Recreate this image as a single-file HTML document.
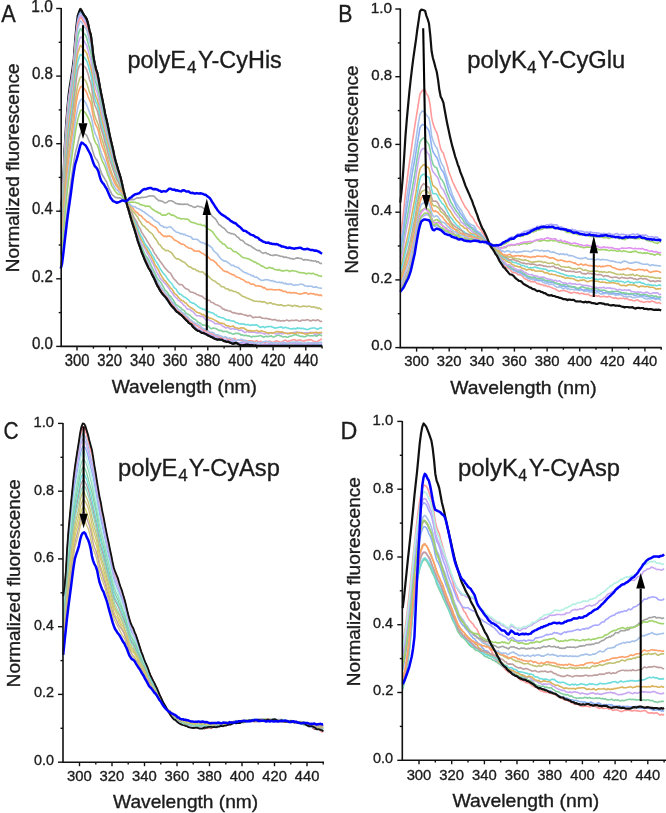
<!DOCTYPE html>
<html><head><meta charset="utf-8"><style>
html,body{margin:0;padding:0;background:#fff;width:666px;height:813px;overflow:hidden;}
svg{display:block;filter:blur(0.3px);font-family:"Liberation Sans",sans-serif;}
text{stroke:#1c1c1c;stroke-width:0.35px;}
</style></head><body>
<svg width="666" height="813" viewBox="0 0 666 813" font-family="Liberation Sans, sans-serif" fill="#1c1c1c">
<rect width="666" height="813" fill="#fff"/>
<path d="M60.7,211.7L62.0,198.3L63.3,180.7L64.6,149.6L65.9,128.1L67.2,110.9L68.5,95.9L69.9,85.5L71.2,77.6L72.5,68.8L73.8,58.9L75.1,41.0L76.4,26.1L77.7,15.8L79.0,12.0L80.3,9.0L81.6,10.7L82.9,13.3L84.2,15.3L85.5,17.1L86.8,19.4L88.2,24.4L89.5,30.8L90.8,34.9L92.1,44.9L93.4,56.8L94.7,63.8L96.0,69.3L97.3,72.9L98.6,79.6L99.9,87.3L101.2,94.0L102.5,100.3L103.8,106.9L105.1,113.9L106.5,119.8L107.8,125.7L109.1,132.4L110.4,138.4L111.7,144.1L113.0,149.5L114.3,155.9L115.6,161.2L116.9,165.5L118.2,170.0L119.5,174.1L120.8,178.4L122.1,183.9L123.4,190.0L124.8,195.6L126.1,201.0L127.4,206.1L128.7,210.2L130.0,215.0L131.3,219.5L132.6,223.6L133.9,227.7L135.2,231.7L136.5,236.1L137.8,240.8L139.1,244.5L140.4,248.2L141.7,252.0L143.1,255.4L144.4,258.7L145.7,261.7L147.0,264.4L148.3,267.5L149.6,269.5L150.9,271.6L152.2,274.8L153.5,277.1L154.8,279.7L156.1,282.8L157.4,285.7L158.7,287.7L160.0,290.2L161.4,292.3L162.7,294.0L164.0,295.5L165.3,296.9L166.6,298.5L167.9,300.3L169.2,302.4L170.5,304.3L171.8,306.0L173.1,307.4L174.4,308.7L175.7,310.6L177.0,312.0L178.3,312.5L179.7,313.9L181.0,314.8L182.3,316.0L183.6,317.2L184.9,318.7L186.2,320.1L187.5,321.2L188.8,322.9L190.1,323.6L191.4,324.4L192.7,326.4L194.0,327.7L195.3,328.8L196.6,329.9L198.0,330.8L199.3,331.0L200.6,332.0L201.9,333.0L203.2,332.8L204.5,333.5L205.8,334.1L207.1,334.7L208.4,335.5L209.7,336.1L211.0,336.9L212.3,337.2L213.6,338.0L214.9,338.7L216.3,339.3L217.6,339.6L218.9,339.3L220.2,339.6L221.5,339.5L222.8,340.3L224.1,341.1L225.4,341.2L226.7,341.9L228.0,341.6L229.3,342.2L230.6,342.8L231.9,343.3L233.3,343.6L234.6,343.1L235.9,342.9L237.2,343.3L238.5,344.1L239.8,344.9L241.1,345.3L242.4,345.4L243.7,345.1L245.0,344.9L246.3,344.6L247.6,344.5L248.9,345.1L250.2,345.1L251.6,345.3L252.9,345.2L254.2,345.8L255.5,345.3L256.8,345.8L258.1,345.8L259.4,345.8L260.7,345.8L262.0,345.8L263.3,345.8L264.6,345.8L265.9,345.8L267.2,345.8L268.5,345.8L269.9,345.8L271.2,345.8L272.5,345.8L273.8,345.8L275.1,345.8L276.4,345.8L277.7,345.8L279.0,345.8L280.3,345.8L281.6,345.8L282.9,345.8L284.2,345.8L285.5,345.8L286.8,345.8L288.2,345.8L289.5,345.8L290.8,345.8L292.1,345.8L293.4,345.8L294.7,345.8L296.0,345.8L297.3,345.8L298.6,345.8L299.9,345.8L301.2,345.8L302.5,345.8L303.8,345.8L305.1,345.8L306.5,345.8L307.8,345.8L309.1,345.8L310.4,345.8L311.7,345.8L313.0,345.8L314.3,345.8L315.6,345.8L316.9,345.8L318.2,345.8L319.5,345.8L320.8,345.8L322.1,345.8" stroke="#111111" stroke-width="2.20" fill="none" stroke-linejoin="round"/>
<path d="M60.7,212.0L62.0,199.4L63.3,182.0L64.6,152.3L65.9,131.2L67.2,114.2L68.5,99.4L69.9,89.5L71.2,80.7L72.5,72.1L73.8,62.2L75.1,44.4L76.4,29.5L77.7,19.7L79.0,15.3L80.3,12.6L81.6,13.8L82.9,15.9L84.2,17.5L85.5,19.9L86.8,22.7L88.2,28.1L89.5,33.0L90.8,37.2L92.1,47.0L93.4,59.5L94.7,66.1L96.0,70.4L97.3,74.1L98.6,81.3L99.9,88.6L101.2,96.0L102.5,102.6L103.8,108.5L105.1,115.1L106.5,121.9L107.8,128.5L109.1,134.9L110.4,139.9L111.7,144.9L113.0,150.3L114.3,157.0L115.6,162.6L116.9,167.8L118.2,171.7L119.5,176.0L120.8,180.1L122.1,185.0L123.4,190.2L124.8,195.8L126.1,201.1L127.4,206.6L128.7,210.1L130.0,214.7L131.3,218.4L132.6,223.3L133.9,228.3L135.2,231.5L136.5,235.8L137.8,240.5L139.1,243.6L140.4,247.0L141.7,251.8L143.1,254.5L144.4,258.3L145.7,261.6L147.0,264.6L148.3,266.1L149.6,268.3L150.9,270.8L152.2,273.2L153.5,276.4L154.8,279.8L156.1,282.7L157.4,285.1L158.7,286.9L160.0,289.7L161.4,292.2L162.7,294.1L164.0,296.3L165.3,298.0L166.6,299.5L167.9,301.0L169.2,302.2L170.5,302.8L171.8,304.2L173.1,306.9L174.4,309.1L175.7,310.5L177.0,311.6L178.3,312.7L179.7,313.6L181.0,314.2L182.3,315.3L183.6,317.1L184.9,318.7L186.2,318.9L187.5,320.4L188.8,321.0L190.1,321.8L191.4,322.9L192.7,324.3L194.0,325.4L195.3,327.0L196.6,328.4L198.0,329.2L199.3,330.3L200.6,331.2L201.9,332.2L203.2,332.9L204.5,333.8L205.8,334.4L207.1,334.1L208.4,335.2L209.7,335.0L211.0,335.1L212.3,336.3L213.6,336.7L214.9,336.9L216.3,336.6L217.6,337.2L218.9,338.5L220.2,339.5L221.5,340.1L222.8,340.6L224.1,340.0L225.4,339.7L226.7,340.8L228.0,340.5L229.3,340.2L230.6,341.3L231.9,341.5L233.3,342.2L234.6,342.4L235.9,342.1L237.2,342.9L238.5,342.9L239.8,342.8L241.1,342.4L242.4,342.1L243.7,342.1L245.0,342.9L246.3,343.5L247.6,343.0L248.9,342.9L250.2,342.9L251.6,343.2L252.9,342.9L254.2,344.1L255.5,344.7L256.8,344.2L258.1,344.7L259.4,344.5L260.7,344.4L262.0,344.3L263.3,344.9L264.6,344.1L265.9,344.3L267.2,345.3L268.5,345.4L269.9,345.2L271.2,344.5L272.5,344.4L273.8,343.9L275.1,344.6L276.4,345.4L277.7,345.3L279.0,344.5L280.3,344.6L281.6,344.1L282.9,343.9L284.2,343.6L285.5,344.1L286.8,345.2L288.2,344.9L289.5,345.6L290.8,345.5L292.1,345.6L293.4,345.5L294.7,345.3L296.0,344.8L297.3,344.0L298.6,343.7L299.9,343.6L301.2,344.6L302.5,344.5L303.8,344.8L305.1,344.8L306.5,345.4L307.8,345.2L309.1,344.2L310.4,343.7L311.7,343.5L313.0,344.6L314.3,344.0L315.6,344.4L316.9,344.7L318.2,344.6L319.5,344.9L320.8,345.1L322.1,344.2" stroke="#8db0f4" stroke-width="1.60" fill="none" stroke-linejoin="round"/>
<path d="M60.7,213.3L62.0,201.1L63.3,183.5L64.6,153.7L65.9,133.1L67.2,115.8L68.5,101.9L69.9,91.7L71.2,82.9L72.5,74.4L73.8,63.5L75.1,47.0L76.4,33.1L77.7,22.8L79.0,18.9L80.3,15.5L81.6,15.8L82.9,18.5L84.2,19.9L85.5,22.2L86.8,24.5L88.2,30.6L89.5,36.1L90.8,40.9L92.1,49.8L93.4,61.5L94.7,69.3L96.0,74.5L97.3,78.0L98.6,84.3L99.9,91.4L101.2,97.2L102.5,103.1L103.8,110.7L105.1,117.7L106.5,123.4L107.8,128.7L109.1,134.3L110.4,140.1L111.7,145.8L113.0,151.8L114.3,157.4L115.6,162.1L116.9,167.7L118.2,171.5L119.5,175.2L120.8,180.2L122.1,184.6L123.4,190.7L124.8,195.4L126.1,200.4L127.4,205.4L128.7,209.8L130.0,213.5L131.3,218.4L132.6,223.3L133.9,227.1L135.2,230.6L136.5,235.6L137.8,239.1L139.1,243.4L140.4,247.0L141.7,250.9L143.1,253.6L144.4,256.8L145.7,259.0L147.0,261.4L148.3,265.1L149.6,266.8L150.9,269.2L152.2,272.8L153.5,275.4L154.8,278.5L156.1,281.7L157.4,284.5L158.7,286.6L160.0,287.9L161.4,290.8L162.7,292.5L164.0,293.6L165.3,295.7L166.6,296.9L167.9,298.5L169.2,299.8L170.5,301.8L171.8,302.9L173.1,305.3L174.4,307.7L175.7,309.9L177.0,311.5L178.3,313.0L179.7,312.9L181.0,314.6L182.3,315.0L183.6,315.9L184.9,317.4L186.2,319.6L187.5,321.1L188.8,321.2L190.1,322.6L191.4,323.2L192.7,325.1L194.0,326.7L195.3,327.5L196.6,328.2L198.0,329.2L199.3,329.3L200.6,329.8L201.9,330.3L203.2,331.3L204.5,332.0L205.8,332.9L207.1,333.2L208.4,333.8L209.7,334.1L211.0,333.9L212.3,335.0L213.6,335.5L214.9,336.7L216.3,336.5L217.6,337.0L218.9,337.3L220.2,337.8L221.5,338.9L222.8,338.4L224.1,339.7L225.4,340.3L226.7,340.3L228.0,339.7L229.3,339.8L230.6,339.6L231.9,340.5L233.3,340.8L234.6,341.0L235.9,341.8L237.2,342.6L238.5,342.7L239.8,343.3L241.1,343.8L242.4,343.9L243.7,342.9L245.0,342.8L246.3,342.5L247.6,342.7L248.9,343.0L250.2,342.5L251.6,343.2L252.9,343.7L254.2,344.0L255.5,344.6L256.8,345.0L258.1,344.9L259.4,344.3L260.7,344.6L262.0,344.4L263.3,344.6L264.6,343.9L265.9,344.4L267.2,344.4L268.5,343.8L269.9,343.6L271.2,343.1L272.5,344.3L273.8,344.3L275.1,344.7L276.4,343.8L277.7,344.3L279.0,343.8L280.3,343.9L281.6,343.5L282.9,343.3L284.2,343.0L285.5,342.8L286.8,343.4L288.2,343.4L289.5,343.0L290.8,342.9L292.1,343.4L293.4,343.1L294.7,343.0L296.0,343.4L297.3,343.7L298.6,343.9L299.9,343.1L301.2,343.8L302.5,343.1L303.8,343.9L305.1,344.3L306.5,343.7L307.8,343.3L309.1,343.8L310.4,344.1L311.7,343.8L313.0,343.3L314.3,343.6L315.6,343.7L316.9,343.8L318.2,343.2L319.5,342.7L320.8,342.8L322.1,343.5" stroke="#c9a8f2" stroke-width="1.60" fill="none" stroke-linejoin="round"/>
<path d="M60.7,214.7L62.0,201.7L63.3,184.9L64.6,155.0L65.9,133.8L67.2,116.7L68.5,103.1L69.9,93.1L71.2,84.4L72.5,75.7L73.8,64.5L75.1,47.9L76.4,34.3L77.7,24.3L79.0,20.6L80.3,17.5L81.6,17.7L82.9,20.8L84.2,22.5L85.5,24.6L86.8,26.9L88.2,32.7L89.5,38.9L90.8,42.8L92.1,52.5L93.4,63.9L94.7,70.0L96.0,74.7L97.3,78.0L98.6,83.8L99.9,92.0L101.2,99.1L102.5,105.2L103.8,111.6L105.1,118.7L106.5,124.1L107.8,129.9L109.1,136.1L110.4,141.8L111.7,148.0L113.0,153.2L114.3,159.1L115.6,163.6L116.9,167.4L118.2,172.2L119.5,176.4L120.8,180.3L122.1,184.6L123.4,190.7L124.8,196.3L126.1,201.1L127.4,206.3L128.7,211.1L130.0,214.5L131.3,218.4L132.6,222.6L133.9,226.7L135.2,231.5L136.5,235.4L137.8,239.2L139.1,243.1L140.4,247.4L141.7,251.6L143.1,254.5L144.4,256.9L145.7,259.3L147.0,261.3L148.3,264.5L149.6,267.1L150.9,269.9L152.2,272.4L153.5,274.8L154.8,277.0L156.1,280.5L157.4,282.7L158.7,284.7L160.0,286.8L161.4,289.4L162.7,292.2L164.0,294.2L165.3,295.5L166.6,296.6L167.9,298.7L169.2,300.5L170.5,302.2L171.8,304.6L173.1,305.3L174.4,307.4L175.7,309.1L177.0,309.7L178.3,310.7L179.7,312.5L181.0,312.9L182.3,313.8L183.6,315.3L184.9,316.9L186.2,317.7L187.5,318.5L188.8,319.8L190.1,321.6L191.4,322.2L192.7,323.3L194.0,323.8L195.3,324.7L196.6,325.6L198.0,326.1L199.3,327.3L200.6,328.1L201.9,328.5L203.2,329.6L204.5,330.9L205.8,330.8L207.1,331.4L208.4,332.1L209.7,332.6L211.0,333.5L212.3,333.4L213.6,334.4L214.9,335.2L216.3,335.3L217.6,335.7L218.9,336.4L220.2,337.3L221.5,337.4L222.8,337.6L224.1,337.7L225.4,337.6L226.7,338.3L228.0,339.2L229.3,339.8L230.6,339.5L231.9,338.7L233.3,338.7L234.6,338.4L235.9,339.6L237.2,340.3L238.5,339.9L239.8,340.3L241.1,340.5L242.4,340.0L243.7,341.0L245.0,340.3L246.3,341.1L247.6,340.9L248.9,340.7L250.2,340.8L251.6,340.7L252.9,341.2L254.2,341.7L255.5,341.3L256.8,340.6L258.1,341.7L259.4,342.2L260.7,341.2L262.0,342.0L263.3,342.5L264.6,342.1L265.9,342.2L267.2,341.6L268.5,341.6L269.9,341.1L271.2,341.9L272.5,342.2L273.8,342.4L275.1,341.5L276.4,340.7L277.7,341.2L279.0,341.7L280.3,342.3L281.6,342.4L282.9,341.2L284.2,340.5L285.5,340.1L286.8,341.0L288.2,341.8L289.5,340.7L290.8,340.5L292.1,340.0L293.4,339.8L294.7,339.6L296.0,340.9L297.3,340.2L298.6,340.3L299.9,339.7L301.2,340.5L302.5,340.7L303.8,341.3L305.1,340.5L306.5,340.4L307.8,339.8L309.1,339.9L310.4,339.6L311.7,340.1L313.0,340.9L314.3,341.3L315.6,341.6L316.9,341.8L318.2,340.8L319.5,340.2L320.8,339.4L322.1,339.2" stroke="#ff9a9a" stroke-width="1.60" fill="none" stroke-linejoin="round"/>
<path d="M60.7,217.2L62.0,203.8L63.3,187.0L64.6,158.8L65.9,138.0L67.2,121.5L68.5,106.3L69.9,95.4L71.2,87.3L72.5,78.5L73.8,68.3L75.1,52.6L76.4,39.0L77.7,28.8L79.0,24.6L80.3,20.9L81.6,21.6L82.9,24.8L84.2,26.7L85.5,27.6L86.8,30.0L88.2,35.5L89.5,41.0L90.8,45.4L92.1,55.6L93.4,67.2L94.7,74.2L96.0,79.0L97.3,82.0L98.6,88.5L99.9,95.7L101.2,101.6L102.5,107.2L103.8,113.9L105.1,119.5L106.5,125.3L107.8,132.2L109.1,137.3L110.4,143.8L111.7,149.2L113.0,155.2L114.3,160.8L115.6,165.0L116.9,168.8L118.2,173.4L119.5,177.3L120.8,180.9L122.1,185.5L123.4,191.3L124.8,196.1L126.1,201.8L127.4,205.2L128.7,209.3L130.0,213.3L131.3,216.9L132.6,221.8L133.9,226.4L135.2,230.0L136.5,233.3L137.8,236.7L139.1,240.5L140.4,244.5L141.7,248.7L143.1,251.6L144.4,254.5L145.7,256.8L147.0,259.3L148.3,262.3L149.6,264.6L150.9,267.7L152.2,270.6L153.5,272.7L154.8,275.1L156.1,278.6L157.4,281.3L158.7,283.5L160.0,285.5L161.4,287.8L162.7,289.9L164.0,290.8L165.3,292.9L166.6,294.6L167.9,295.4L169.2,297.5L170.5,299.2L171.8,301.6L173.1,302.7L174.4,304.1L175.7,306.5L177.0,307.8L178.3,309.5L179.7,309.9L181.0,311.1L182.3,312.7L183.6,313.1L184.9,314.6L186.2,315.9L187.5,316.5L188.8,318.4L190.1,319.7L191.4,320.2L192.7,321.8L194.0,322.3L195.3,323.3L196.6,323.6L198.0,324.7L199.3,325.1L200.6,326.2L201.9,327.6L203.2,328.5L204.5,329.1L205.8,329.4L207.1,330.2L208.4,331.0L209.7,331.9L211.0,332.3L212.3,332.4L213.6,332.8L214.9,334.2L216.3,334.9L217.6,334.8L218.9,335.2L220.2,336.0L221.5,336.1L222.8,337.2L224.1,337.2L225.4,336.7L226.7,337.4L228.0,338.3L229.3,338.1L230.6,338.2L231.9,338.8L233.3,339.4L234.6,340.3L235.9,340.7L237.2,339.9L238.5,340.2L239.8,339.7L241.1,339.3L242.4,339.5L243.7,340.3L245.0,341.2L246.3,340.5L247.6,341.4L248.9,342.0L250.2,341.9L251.6,342.1L252.9,342.3L254.2,342.6L255.5,343.1L256.8,343.4L258.1,342.1L259.4,342.8L260.7,342.6L262.0,342.2L263.3,342.1L264.6,341.6L265.9,341.2L267.2,341.5L268.5,342.0L269.9,341.9L271.2,342.4L272.5,342.9L273.8,342.8L275.1,342.7L276.4,343.0L277.7,342.9L279.0,343.0L280.3,343.5L281.6,342.4L282.9,342.4L284.2,342.3L285.5,343.1L286.8,343.2L288.2,343.7L289.5,342.6L290.8,342.3L292.1,342.4L293.4,342.1L294.7,342.4L296.0,342.4L297.3,341.6L298.6,342.6L299.9,342.2L301.2,342.4L302.5,342.9L303.8,343.3L305.1,342.8L306.5,343.3L307.8,342.4L309.1,342.5L310.4,342.8L311.7,342.7L313.0,342.7L314.3,342.7L315.6,342.9L316.9,342.8L318.2,343.0L319.5,342.4L320.8,342.2L322.1,342.5" stroke="#a6c2ea" stroke-width="1.60" fill="none" stroke-linejoin="round"/>
<path d="M60.7,220.3L62.0,208.8L63.3,192.1L64.6,164.4L65.9,144.1L67.2,128.1L68.5,113.0L69.9,102.5L71.2,94.3L72.5,86.2L73.8,75.1L75.1,59.0L76.4,46.5L77.7,37.4L79.0,32.1L80.3,28.7L81.6,29.7L82.9,32.7L84.2,33.8L85.5,34.9L86.8,38.2L88.2,43.6L89.5,48.4L90.8,52.5L92.1,61.1L93.4,72.4L94.7,79.7L96.0,83.3L97.3,86.7L98.6,92.1L99.9,99.6L101.2,106.6L102.5,111.9L103.8,117.4L105.1,124.4L106.5,130.9L107.8,137.0L109.1,142.0L110.4,147.7L111.7,153.2L113.0,157.9L114.3,161.8L115.6,166.7L116.9,171.6L118.2,175.6L119.5,179.0L120.8,182.7L122.1,187.3L123.4,192.6L124.8,197.4L126.1,202.2L127.4,206.4L128.7,210.6L130.0,213.7L131.3,216.9L132.6,221.0L133.9,225.3L135.2,228.9L136.5,233.1L137.8,236.9L139.1,240.5L140.4,243.0L141.7,247.1L143.1,250.0L144.4,253.4L145.7,255.8L147.0,257.2L148.3,259.2L149.6,261.9L150.9,264.8L152.2,267.7L153.5,270.1L154.8,272.8L156.1,275.6L157.4,278.6L158.7,280.1L160.0,281.6L161.4,283.3L162.7,285.8L164.0,288.2L165.3,290.6L166.6,291.2L167.9,293.1L169.2,295.5L170.5,296.2L171.8,298.0L173.1,299.7L174.4,301.8L175.7,304.2L177.0,305.2L178.3,306.0L179.7,307.3L181.0,307.7L182.3,309.7L183.6,310.1L184.9,311.4L186.2,313.5L187.5,313.9L188.8,314.6L190.1,315.5L191.4,317.0L192.7,318.0L194.0,319.0L195.3,319.6L196.6,320.7L198.0,322.1L199.3,322.8L200.6,323.4L201.9,324.5L203.2,325.2L204.5,325.0L205.8,325.4L207.1,326.4L208.4,326.1L209.7,327.5L211.0,328.6L212.3,328.4L213.6,328.1L214.9,328.2L216.3,328.8L217.6,329.6L218.9,330.6L220.2,330.2L221.5,330.6L222.8,331.7L224.1,331.4L225.4,331.5L226.7,331.3L228.0,332.3L229.3,332.9L230.6,333.1L231.9,333.7L233.3,334.2L234.6,333.6L235.9,333.4L237.2,333.3L238.5,333.6L239.8,333.9L241.1,335.2L242.4,334.8L243.7,335.6L245.0,335.4L246.3,335.3L247.6,336.0L248.9,335.7L250.2,336.5L251.6,337.0L252.9,336.2L254.2,336.5L255.5,336.4L256.8,336.2L258.1,336.2L259.4,335.8L260.7,335.6L262.0,336.3L263.3,337.1L264.6,336.9L265.9,336.1L267.2,336.7L268.5,336.2L269.9,336.4L271.2,335.7L272.5,336.8L273.8,337.1L275.1,336.4L276.4,335.7L277.7,335.2L279.0,335.1L280.3,336.0L281.6,336.1L282.9,337.0L284.2,336.8L285.5,336.6L286.8,337.1L288.2,337.2L289.5,336.2L290.8,336.1L292.1,335.8L293.4,335.3L294.7,334.8L296.0,334.5L297.3,335.4L298.6,335.4L299.9,336.2L301.2,336.4L302.5,336.2L303.8,336.7L305.1,336.8L306.5,336.0L307.8,335.3L309.1,335.5L310.4,336.0L311.7,335.5L313.0,336.0L314.3,335.1L315.6,335.9L316.9,336.1L318.2,335.1L319.5,334.8L320.8,335.3L322.1,335.9" stroke="#82cfa0" stroke-width="1.60" fill="none" stroke-linejoin="round"/>
<path d="M60.7,222.7L62.0,211.9L63.3,196.9L64.6,170.5L65.9,150.4L67.2,133.6L68.5,119.2L69.9,108.9L71.2,100.3L72.5,91.4L73.8,81.6L75.1,66.8L76.4,55.1L77.7,46.2L79.0,40.8L80.3,37.3L81.6,37.1L82.9,39.1L84.2,41.0L85.5,43.6L86.8,45.5L88.2,50.7L89.5,55.4L90.8,59.5L92.1,68.0L93.4,78.8L94.7,84.9L96.0,89.5L97.3,92.8L98.6,98.4L99.9,105.1L101.2,110.8L102.5,116.3L103.8,122.1L105.1,127.9L106.5,134.3L107.8,139.4L109.1,145.2L110.4,150.7L111.7,155.1L113.0,160.1L114.3,164.5L115.6,169.5L116.9,172.9L118.2,175.6L119.5,178.9L120.8,182.1L122.1,186.6L123.4,191.2L124.8,196.3L126.1,201.2L127.4,204.3L128.7,207.9L130.0,211.0L131.3,215.2L132.6,219.3L133.9,222.7L135.2,226.1L136.5,230.3L137.8,234.1L139.1,236.9L140.4,240.8L141.7,244.2L143.1,245.9L144.4,247.8L145.7,249.9L147.0,253.1L148.3,254.7L149.6,257.5L150.9,259.4L152.2,262.5L153.5,264.4L154.8,267.8L156.1,270.9L157.4,273.5L158.7,275.3L160.0,278.1L161.4,279.6L162.7,280.9L164.0,282.4L165.3,283.7L166.6,285.3L167.9,287.1L169.2,288.7L170.5,290.9L171.8,292.6L173.1,294.3L174.4,296.2L175.7,297.3L177.0,298.6L178.3,300.4L179.7,300.8L181.0,302.4L182.3,303.4L183.6,305.2L184.9,305.9L186.2,307.7L187.5,309.1L188.8,309.2L190.1,309.6L191.4,310.8L192.7,311.5L194.0,312.8L195.3,314.5L196.6,315.6L198.0,315.7L199.3,315.7L200.6,316.5L201.9,316.4L203.2,316.7L204.5,318.5L205.8,319.8L207.1,319.8L208.4,319.6L209.7,320.4L211.0,320.8L212.3,321.6L213.6,322.2L214.9,323.7L216.3,323.6L217.6,323.8L218.9,324.1L220.2,324.2L221.5,324.9L222.8,326.4L224.1,326.7L225.4,327.9L226.7,327.6L228.0,327.2L229.3,328.3L230.6,329.2L231.9,328.7L233.3,328.4L234.6,329.4L235.9,329.1L237.2,329.2L238.5,330.5L239.8,330.4L241.1,329.9L242.4,330.7L243.7,331.8L245.0,332.5L246.3,332.0L247.6,331.3L248.9,332.1L250.2,331.9L251.6,332.1L252.9,332.3L254.2,332.2L255.5,332.5L256.8,332.9L258.1,333.0L259.4,332.6L260.7,332.7L262.0,333.2L263.3,333.5L264.6,334.1L265.9,333.3L267.2,333.4L268.5,334.0L269.9,333.1L271.2,333.0L272.5,332.7L273.8,333.1L275.1,333.7L276.4,334.1L277.7,333.6L279.0,332.9L280.3,333.5L281.6,333.6L282.9,333.6L284.2,333.4L285.5,333.0L286.8,333.0L288.2,334.0L289.5,333.5L290.8,333.6L292.1,332.8L293.4,332.6L294.7,332.4L296.0,332.0L297.3,332.0L298.6,332.9L299.9,332.3L301.2,332.5L302.5,332.7L303.8,333.2L305.1,332.7L306.5,332.7L307.8,332.8L309.1,332.9L310.4,332.3L311.7,332.6L313.0,332.6L314.3,333.7L315.6,334.3L316.9,334.1L318.2,333.3L319.5,332.9L320.8,333.0L322.1,333.5" stroke="#c9a8f2" stroke-width="1.60" fill="none" stroke-linejoin="round"/>
<path d="M60.7,226.2L62.0,215.3L63.3,200.0L64.6,175.4L65.9,156.3L67.2,140.2L68.5,126.9L69.9,116.6L71.2,108.2L72.5,99.3L73.8,89.0L75.1,74.0L76.4,62.3L77.7,53.4L79.0,49.3L80.3,45.6L81.6,46.2L82.9,48.7L84.2,50.0L85.5,51.4L86.8,53.4L88.2,58.4L89.5,63.1L90.8,67.6L92.1,75.8L93.4,86.6L94.7,92.5L96.0,96.6L97.3,99.8L98.6,105.2L99.9,111.1L101.2,117.3L102.5,122.8L103.8,128.1L105.1,133.1L106.5,138.6L107.8,143.5L109.1,148.6L110.4,154.1L111.7,158.7L113.0,163.0L114.3,168.2L115.6,172.1L116.9,175.8L118.2,178.9L119.5,181.6L120.8,183.9L122.1,187.5L123.4,192.5L124.8,197.7L126.1,201.1L127.4,204.9L128.7,208.9L130.0,212.1L131.3,215.6L132.6,217.6L133.9,221.4L135.2,224.6L136.5,228.4L137.8,230.7L139.1,233.9L140.4,237.9L141.7,240.4L143.1,242.5L144.4,245.3L145.7,247.6L147.0,249.3L148.3,252.0L149.6,254.1L150.9,255.9L152.2,258.3L153.5,261.1L154.8,264.1L156.1,266.3L157.4,268.3L158.7,270.5L160.0,273.5L161.4,275.9L162.7,277.7L164.0,280.1L165.3,281.0L166.6,282.8L167.9,284.4L169.2,286.1L170.5,287.9L171.8,288.8L173.1,290.9L174.4,293.4L175.7,294.3L177.0,295.4L178.3,297.4L179.7,298.8L181.0,300.1L182.3,300.7L183.6,301.2L184.9,302.7L186.2,303.1L187.5,304.9L188.8,306.1L190.1,307.1L191.4,308.0L192.7,308.8L194.0,309.6L195.3,311.0L196.6,312.2L198.0,312.6L199.3,313.1L200.6,313.6L201.9,314.7L203.2,314.4L204.5,315.6L205.8,316.6L207.1,316.9L208.4,317.2L209.7,318.4L211.0,318.2L212.3,318.9L213.6,319.3L214.9,320.2L216.3,321.0L217.6,321.8L218.9,322.5L220.2,323.1L221.5,323.2L222.8,323.4L224.1,323.8L225.4,325.0L226.7,325.7L228.0,325.8L229.3,326.4L230.6,326.7L231.9,326.3L233.3,326.0L234.6,327.2L235.9,327.8L237.2,328.0L238.5,328.7L239.8,328.2L241.1,327.7L242.4,327.9L243.7,328.0L245.0,329.0L246.3,329.8L247.6,330.6L248.9,330.5L250.2,330.6L251.6,331.2L252.9,330.7L254.2,331.0L255.5,330.7L256.8,330.3L258.1,331.3L259.4,331.4L260.7,331.0L262.0,330.9L263.3,331.5L264.6,331.7L265.9,332.3L267.2,332.6L268.5,332.8L269.9,333.2L271.2,332.6L272.5,333.2L273.8,332.7L275.1,332.2L276.4,331.6L277.7,331.5L279.0,331.9L280.3,332.1L281.6,331.9L282.9,332.2L284.2,332.7L285.5,333.3L286.8,333.5L288.2,333.4L289.5,332.9L290.8,333.1L292.1,333.3L293.4,333.0L294.7,333.5L296.0,333.4L297.3,332.3L298.6,332.8L299.9,332.7L301.2,332.9L302.5,333.1L303.8,333.6L305.1,333.9L306.5,334.1L307.8,333.6L309.1,333.3L310.4,332.9L311.7,332.9L313.0,332.8L314.3,332.5L315.6,332.4L316.9,332.3L318.2,333.2L319.5,332.5L320.8,332.6L322.1,332.2" stroke="#dab35c" stroke-width="1.60" fill="none" stroke-linejoin="round"/>
<path d="M60.7,230.6L62.0,220.5L63.3,205.7L64.6,181.5L65.9,163.2L67.2,148.2L68.5,134.5L69.9,123.8L71.2,115.0L72.5,105.4L73.8,96.3L75.1,81.6L76.4,70.6L77.7,62.4L79.0,57.8L80.3,54.5L81.6,55.0L82.9,56.0L84.2,57.3L85.5,58.8L86.8,61.1L88.2,65.2L89.5,70.3L90.8,74.4L92.1,81.7L93.4,91.1L94.7,97.9L96.0,102.3L97.3,104.7L98.6,109.6L99.9,116.9L101.2,123.1L102.5,128.2L103.8,133.0L105.1,138.2L106.5,143.3L107.8,148.1L109.1,152.3L110.4,157.0L111.7,161.0L113.0,166.5L114.3,170.7L115.6,173.6L116.9,176.9L118.2,180.1L119.5,183.0L120.8,185.2L122.1,188.1L123.4,192.3L124.8,196.4L126.1,200.2L127.4,203.4L128.7,206.9L130.0,209.5L131.3,212.6L132.6,215.2L133.9,218.1L135.2,221.9L136.5,225.1L137.8,228.3L139.1,231.9L140.4,234.9L141.7,236.7L143.1,239.6L144.4,242.6L145.7,244.7L147.0,246.5L148.3,248.1L149.6,250.5L150.9,252.5L152.2,255.3L153.5,256.8L154.8,259.6L156.1,261.6L157.4,263.5L158.7,265.8L160.0,268.5L161.4,270.5L162.7,272.6L164.0,274.2L165.3,275.3L166.6,277.4L167.9,279.2L169.2,280.9L170.5,282.5L171.8,283.6L173.1,285.9L174.4,287.8L175.7,288.7L177.0,290.9L178.3,292.6L179.7,294.1L181.0,294.2L182.3,295.7L183.6,296.7L184.9,297.2L186.2,298.2L187.5,299.2L188.8,300.1L190.1,302.0L191.4,302.5L192.7,303.2L194.0,303.3L195.3,304.5L196.6,305.3L198.0,306.7L199.3,307.3L200.6,308.4L201.9,308.5L203.2,309.5L204.5,309.4L205.8,310.4L207.1,311.4L208.4,311.9L209.7,311.9L211.0,312.8L212.3,312.7L213.6,313.4L214.9,314.8L216.3,315.1L217.6,316.6L218.9,316.7L220.2,317.3L221.5,317.8L222.8,317.7L224.1,318.4L225.4,319.2L226.7,320.0L228.0,320.1L229.3,320.1L230.6,320.7L231.9,321.0L233.3,321.1L234.6,321.6L235.9,322.7L237.2,322.7L238.5,323.7L239.8,324.0L241.1,323.9L242.4,324.2L243.7,323.8L245.0,324.6L246.3,324.8L247.6,324.6L248.9,324.8L250.2,325.5L251.6,325.1L252.9,324.8L254.2,325.2L255.5,324.9L256.8,324.8L258.1,325.8L259.4,327.0L260.7,327.5L262.0,326.7L263.3,326.6L264.6,327.7L265.9,327.1L267.2,326.6L268.5,326.6L269.9,326.5L271.2,326.5L272.5,327.4L273.8,327.4L275.1,328.2L276.4,327.8L277.7,327.6L279.0,327.3L280.3,327.1L281.6,326.8L282.9,328.1L284.2,327.7L285.5,327.3L286.8,327.8L288.2,328.1L289.5,328.7L290.8,328.8L292.1,329.1L293.4,328.4L294.7,328.6L296.0,328.9L297.3,327.8L298.6,328.6L299.9,328.1L301.2,328.8L302.5,328.3L303.8,328.6L305.1,329.1L306.5,329.4L307.8,329.6L309.1,328.9L310.4,328.4L311.7,328.3L313.0,328.0L314.3,328.0L315.6,328.3L316.9,329.2L318.2,328.9L319.5,328.2L320.8,327.8L322.1,328.4" stroke="#6cdcdc" stroke-width="1.60" fill="none" stroke-linejoin="round"/>
<path d="M60.7,233.9L62.0,224.6L63.3,211.0L64.6,187.8L65.9,169.7L67.2,155.1L68.5,141.4L69.9,131.1L71.2,122.3L72.5,113.2L73.8,103.4L75.1,90.5L76.4,79.4L77.7,71.0L79.0,66.5L80.3,64.1L81.6,64.0L82.9,65.9L84.2,66.4L85.5,67.3L86.8,70.2L88.2,74.3L89.5,79.6L90.8,82.7L92.1,91.0L93.4,99.4L94.7,104.8L96.0,107.8L97.3,110.8L98.6,116.1L99.9,123.1L101.2,129.1L102.5,133.0L103.8,137.5L105.1,143.1L106.5,147.2L107.8,152.9L109.1,158.3L110.4,161.8L111.7,165.3L113.0,169.7L114.3,172.9L115.6,176.9L116.9,180.4L118.2,182.1L119.5,184.8L120.8,187.9L122.1,190.1L123.4,193.8L124.8,197.2L126.1,200.2L127.4,203.2L128.7,206.7L130.0,209.7L131.3,211.5L132.6,214.2L133.9,217.4L135.2,219.4L136.5,221.4L137.8,224.9L139.1,227.3L140.4,229.1L141.7,232.5L143.1,234.4L144.4,236.7L145.7,238.3L147.0,241.1L148.3,242.8L149.6,245.0L150.9,247.3L152.2,248.5L153.5,251.4L154.8,254.0L156.1,255.1L157.4,257.8L158.7,259.0L160.0,261.3L161.4,263.0L162.7,264.7L164.0,266.8L165.3,268.4L166.6,269.8L167.9,271.2L169.2,272.3L170.5,273.2L171.8,275.5L173.1,277.8L174.4,279.4L175.7,280.6L177.0,282.3L178.3,283.6L179.7,284.7L181.0,284.5L182.3,284.9L183.6,286.6L184.9,287.8L186.2,288.9L187.5,289.1L188.8,290.1L190.1,291.7L191.4,292.3L192.7,292.2L194.0,293.1L195.3,293.2L196.6,294.4L198.0,294.8L199.3,295.4L200.6,296.0L201.9,296.1L203.2,297.3L204.5,298.6L205.8,299.0L207.1,299.6L208.4,300.4L209.7,300.4L211.0,302.2L212.3,302.6L213.6,303.1L214.9,304.2L216.3,304.8L217.6,305.1L218.9,305.9L220.2,306.3L221.5,307.7L222.8,308.9L224.1,309.1L225.4,310.3L226.7,310.0L228.0,310.7L229.3,311.1L230.6,311.1L231.9,312.3L233.3,313.0L234.6,312.6L235.9,313.5L237.2,313.3L238.5,314.2L239.8,313.6L241.1,313.9L242.4,314.2L243.7,314.7L245.0,315.1L246.3,315.1L247.6,316.2L248.9,315.6L250.2,315.4L251.6,316.4L252.9,317.6L254.2,317.4L255.5,317.1L256.8,317.2L258.1,317.3L259.4,317.1L260.7,317.1L262.0,318.3L263.3,318.2L264.6,318.5L265.9,318.4L267.2,318.5L268.5,319.1L269.9,319.0L271.2,319.6L272.5,320.0L273.8,319.6L275.1,319.5L276.4,320.2L277.7,320.9L279.0,320.3L280.3,320.9L281.6,321.0L282.9,320.6L284.2,320.9L285.5,320.5L286.8,320.0L288.2,320.6L289.5,320.9L290.8,320.4L292.1,320.4L293.4,320.5L294.7,320.4L296.0,320.0L297.3,320.2L298.6,320.9L299.9,321.3L301.2,320.5L302.5,320.0L303.8,320.3L305.1,320.4L306.5,319.8L307.8,319.7L309.1,320.2L310.4,321.0L311.7,320.4L313.0,319.9L314.3,320.3L315.6,320.8L316.9,320.0L318.2,319.9L319.5,320.8L320.8,321.7L322.1,320.8" stroke="#bf9f9f" stroke-width="1.60" fill="none" stroke-linejoin="round"/>
<path d="M60.7,239.3L62.0,231.0L63.3,217.1L64.6,196.1L65.9,179.0L67.2,165.1L68.5,152.9L69.9,143.5L71.2,134.3L72.5,124.2L73.8,113.9L75.1,102.8L76.4,92.7L77.7,85.6L79.0,80.6L80.3,77.3L81.6,76.8L82.9,78.3L84.2,79.2L85.5,80.5L86.8,83.3L88.2,87.9L89.5,92.6L90.8,95.0L92.1,101.8L93.4,110.2L94.7,115.5L96.0,119.2L97.3,122.3L98.6,125.6L99.9,131.9L101.2,137.1L102.5,140.7L103.8,145.0L105.1,149.9L106.5,154.9L107.8,159.8L109.1,164.5L110.4,168.9L111.7,172.9L113.0,176.2L114.3,179.0L115.6,181.8L116.9,184.3L118.2,186.0L119.5,188.0L120.8,189.0L122.1,192.2L123.4,195.1L124.8,198.4L126.1,201.1L127.4,204.1L128.7,204.8L130.0,206.2L131.3,209.1L132.6,211.3L133.9,212.3L135.2,213.9L136.5,215.8L137.8,217.3L139.1,220.1L140.4,221.5L141.7,223.9L143.1,225.7L144.4,226.2L145.7,228.0L147.0,229.2L148.3,230.4L149.6,231.9L150.9,232.9L152.2,233.9L153.5,235.8L154.8,238.1L156.1,239.4L157.4,241.7L158.7,244.1L160.0,244.8L161.4,246.7L162.7,248.6L164.0,249.0L165.3,250.6L166.6,250.5L167.9,250.3L169.2,251.5L170.5,251.9L171.8,253.0L173.1,255.0L174.4,256.7L175.7,258.3L177.0,258.9L178.3,258.8L179.7,259.7L181.0,260.5L182.3,261.5L183.6,262.0L184.9,262.7L186.2,264.0L187.5,265.4L188.8,266.7L190.1,266.9L191.4,267.5L192.7,269.0L194.0,268.9L195.3,269.3L196.6,270.7L198.0,270.6L199.3,271.8L200.6,272.0L201.9,271.7L203.2,272.3L204.5,273.7L205.8,274.9L207.1,274.6L208.4,276.4L209.7,277.5L211.0,278.8L212.3,279.8L213.6,280.8L214.9,281.0L216.3,282.4L217.6,283.5L218.9,284.0L220.2,285.2L221.5,286.7L222.8,286.7L224.1,287.1L225.4,288.6L226.7,289.0L228.0,288.8L229.3,290.4L230.6,290.4L231.9,290.4L233.3,291.4L234.6,291.5L235.9,291.8L237.2,292.7L238.5,292.9L239.8,294.2L241.1,295.0L242.4,296.4L243.7,296.5L245.0,297.1L246.3,298.0L247.6,298.2L248.9,298.9L250.2,299.2L251.6,300.2L252.9,300.4L254.2,301.2L255.5,301.2L256.8,301.2L258.1,301.5L259.4,301.6L260.7,301.3L262.0,302.1L263.3,301.9L264.6,301.8L265.9,302.7L267.2,303.7L268.5,303.2L269.9,302.7L271.2,302.9L272.5,304.0L273.8,303.9L275.1,304.2L276.4,304.6L277.7,304.9L279.0,305.2L280.3,304.9L281.6,304.7L282.9,305.8L284.2,305.9L285.5,305.8L286.8,305.5L288.2,305.1L289.5,305.5L290.8,305.3L292.1,306.5L293.4,305.7L294.7,305.3L296.0,305.9L297.3,305.8L298.6,306.6L299.9,306.8L301.2,306.7L302.5,306.3L303.8,306.0L305.1,306.2L306.5,306.6L307.8,306.4L309.1,306.2L310.4,306.3L311.7,307.3L313.0,306.9L314.3,306.8L315.6,307.8L316.9,307.4L318.2,308.6L319.5,308.0L320.8,309.2L322.1,309.5" stroke="#c2c275" stroke-width="1.60" fill="none" stroke-linejoin="round"/>
<path d="M60.7,244.0L62.0,235.9L63.3,222.2L64.6,202.4L65.9,186.7L67.2,172.4L68.5,161.2L69.9,150.6L71.2,142.0L72.5,133.1L73.8,123.6L75.1,111.7L76.4,101.9L77.7,94.5L79.0,90.2L80.3,87.2L81.6,86.3L82.9,87.8L84.2,88.9L85.5,90.2L86.8,93.0L88.2,97.0L89.5,99.9L90.8,103.0L92.1,110.2L93.4,117.3L94.7,122.4L96.0,125.5L97.3,127.7L98.6,131.8L99.9,138.0L101.2,143.3L102.5,147.2L103.8,150.4L105.1,154.1L106.5,159.2L107.8,164.3L109.1,168.4L110.4,172.5L111.7,175.5L113.0,178.7L114.3,182.2L115.6,184.7L116.9,186.6L118.2,188.2L119.5,190.0L120.8,191.1L122.1,193.7L123.4,195.4L124.8,198.6L126.1,201.0L127.4,202.2L128.7,204.0L130.0,204.7L131.3,206.3L132.6,207.8L133.9,209.7L135.2,211.2L136.5,212.3L137.8,213.0L139.1,215.0L140.4,215.6L141.7,216.2L143.1,218.4L144.4,219.1L145.7,220.5L147.0,221.9L148.3,221.8L149.6,223.2L150.9,224.3L152.2,225.0L153.5,226.1L154.8,226.8L156.1,227.7L157.4,229.6L158.7,231.9L160.0,232.5L161.4,234.3L162.7,235.3L164.0,236.4L165.3,236.1L166.6,236.7L167.9,236.0L169.2,236.1L170.5,236.6L171.8,237.1L173.1,238.6L174.4,240.1L175.7,240.4L177.0,241.1L178.3,242.0L179.7,243.0L181.0,243.9L182.3,244.2L183.6,244.3L184.9,245.3L186.2,246.7L187.5,247.1L188.8,248.1L190.1,248.2L191.4,248.6L192.7,249.5L194.0,250.9L195.3,250.9L196.6,251.3L198.0,251.1L199.3,251.1L200.6,252.4L201.9,253.2L203.2,253.5L204.5,254.7L205.8,255.7L207.1,255.7L208.4,257.3L209.7,258.4L211.0,259.9L212.3,260.0L213.6,260.9L214.9,261.9L216.3,263.0L217.6,265.1L218.9,265.9L220.2,267.5L221.5,268.6L222.8,270.1L224.1,271.0L225.4,271.6L226.7,271.5L228.0,272.2L229.3,273.3L230.6,273.6L231.9,274.6L233.3,274.5L234.6,275.5L235.9,276.6L237.2,277.2L238.5,277.6L239.8,278.0L241.1,279.1L242.4,279.6L243.7,280.0L245.0,281.2L246.3,282.0L247.6,282.5L248.9,282.4L250.2,283.7L251.6,284.4L252.9,284.0L254.2,284.5L255.5,285.9L256.8,286.0L258.1,285.6L259.4,286.3L260.7,286.4L262.0,286.6L263.3,287.9L264.6,287.6L265.9,288.9L267.2,289.7L268.5,289.3L269.9,289.5L271.2,289.2L272.5,289.6L273.8,289.7L275.1,289.9L276.4,289.8L277.7,289.7L279.0,289.5L280.3,290.4L281.6,290.1L282.9,291.5L284.2,291.3L285.5,291.4L286.8,292.4L288.2,292.7L289.5,292.2L290.8,293.0L292.1,292.9L293.4,292.5L294.7,293.0L296.0,292.8L297.3,293.5L298.6,293.8L299.9,294.2L301.2,293.7L302.5,293.7L303.8,293.1L305.1,292.9L306.5,292.8L307.8,294.0L309.1,294.1L310.4,293.3L311.7,293.7L313.0,293.9L314.3,293.9L315.6,294.9L316.9,294.3L318.2,295.1L319.5,295.4L320.8,294.9L322.1,296.2" stroke="#fda26c" stroke-width="1.60" fill="none" stroke-linejoin="round"/>
<path d="M60.7,250.4L62.0,242.3L63.3,230.3L64.6,211.7L65.9,197.0L67.2,184.0L68.5,171.6L69.9,162.3L71.2,152.5L72.5,143.5L73.8,133.9L75.1,123.1L76.4,114.9L77.7,108.4L79.0,103.1L80.3,100.4L81.6,99.0L82.9,99.5L84.2,100.7L85.5,102.4L86.8,105.3L88.2,108.9L89.5,112.4L90.8,116.1L92.1,120.9L93.4,127.8L94.7,132.4L96.0,135.5L97.3,138.3L98.6,142.1L99.9,148.1L101.2,152.8L102.5,156.1L103.8,158.8L105.1,161.4L106.5,166.1L107.8,170.7L109.1,173.7L110.4,178.3L111.7,181.8L113.0,184.2L114.3,186.4L115.6,188.8L116.9,189.9L118.2,190.7L119.5,192.6L120.8,193.2L122.1,195.1L123.4,197.2L124.8,199.2L126.1,200.8L127.4,201.6L128.7,203.2L130.0,204.4L131.3,205.6L132.6,206.6L133.9,206.6L135.2,206.8L136.5,208.1L137.8,208.6L139.1,209.1L140.4,209.7L141.7,210.5L143.1,211.6L144.4,212.0L145.7,213.4L147.0,214.0L148.3,215.3L149.6,216.1L150.9,217.0L152.2,217.8L153.5,219.6L154.8,220.5L156.1,221.4L157.4,221.8L158.7,222.8L160.0,224.8L161.4,225.8L162.7,226.1L164.0,227.5L165.3,227.1L166.6,227.9L167.9,227.2L169.2,227.0L170.5,226.7L171.8,228.0L173.1,229.3L174.4,230.7L175.7,231.7L177.0,232.4L178.3,232.5L179.7,233.2L181.0,234.0L182.3,233.5L183.6,234.8L184.9,234.3L186.2,235.5L187.5,235.7L188.8,236.2L190.1,236.5L191.4,237.2L192.7,239.2L194.0,239.3L195.3,239.2L196.6,239.3L198.0,239.9L199.3,241.1L200.6,242.2L201.9,242.7L203.2,242.5L204.5,243.6L205.8,243.9L207.1,244.2L208.4,245.1L209.7,246.0L211.0,247.0L212.3,248.3L213.6,250.8L214.9,251.8L216.3,253.2L217.6,254.2L218.9,256.2L220.2,258.0L221.5,259.5L222.8,260.1L224.1,261.1L225.4,261.1L226.7,261.6L228.0,262.6L229.3,263.5L230.6,264.7L231.9,265.6L233.3,265.2L234.6,266.4L235.9,266.8L237.2,267.3L238.5,267.6L239.8,269.1L241.1,269.9L242.4,271.1L243.7,272.1L245.0,272.6L246.3,272.9L247.6,273.7L248.9,274.2L250.2,274.5L251.6,275.8L252.9,275.4L254.2,276.8L255.5,277.2L256.8,277.1L258.1,278.4L259.4,279.2L260.7,280.0L262.0,280.5L263.3,280.2L264.6,279.9L265.9,279.5L267.2,280.0L268.5,279.8L269.9,280.6L271.2,280.9L272.5,280.5L273.8,281.8L275.1,281.3L276.4,282.2L277.7,282.5L279.0,282.1L280.3,282.7L281.6,282.4L282.9,282.7L284.2,283.8L285.5,283.1L286.8,284.3L288.2,284.0L289.5,284.4L290.8,283.7L292.1,284.5L293.4,285.1L294.7,285.3L296.0,284.8L297.3,285.0L298.6,284.8L299.9,284.2L301.2,284.3L302.5,284.2L303.8,285.1L305.1,286.0L306.5,286.0L307.8,286.6L309.1,286.0L310.4,286.2L311.7,286.3L313.0,287.1L314.3,287.3L315.6,286.9L316.9,287.1L318.2,287.8L319.5,288.0L320.8,288.2L322.1,288.0" stroke="#a6c2ea" stroke-width="1.60" fill="none" stroke-linejoin="round"/>
<path d="M60.7,254.3L62.0,247.1L63.3,236.1L64.6,219.0L65.9,205.0L67.2,192.2L68.5,181.2L69.9,170.8L71.2,161.4L72.5,152.1L73.8,143.7L75.1,134.3L76.4,126.0L77.7,119.9L79.0,115.0L80.3,110.9L81.6,109.8L82.9,110.9L84.2,111.6L85.5,113.0L86.8,115.4L88.2,117.9L89.5,121.3L90.8,124.7L92.1,130.7L93.4,136.7L94.7,140.9L96.0,143.4L97.3,145.1L98.6,148.6L99.9,154.2L101.2,158.2L102.5,161.7L103.8,164.0L105.1,167.0L106.5,170.9L107.8,174.9L109.1,177.9L110.4,181.6L111.7,185.8L113.0,187.6L114.3,189.9L115.6,191.9L116.9,193.2L118.2,194.4L119.5,194.4L120.8,194.8L122.1,196.3L123.4,198.0L124.8,200.0L126.1,201.0L127.4,201.1L128.7,202.3L130.0,202.3L131.3,202.2L132.6,202.0L133.9,202.3L135.2,202.3L136.5,203.0L137.8,203.1L139.1,203.6L140.4,204.8L141.7,204.9L143.1,205.2L144.4,205.6L145.7,206.5L147.0,206.0L148.3,206.1L149.6,206.4L150.9,207.8L152.2,209.0L153.5,210.0L154.8,210.7L156.1,211.6L157.4,211.9L158.7,213.1L160.0,213.0L161.4,214.7L162.7,215.3L164.0,214.9L165.3,215.2L166.6,214.7L167.9,213.6L169.2,213.3L170.5,214.3L171.8,215.4L173.1,214.9L174.4,215.9L175.7,216.5L177.0,217.7L178.3,217.9L179.7,218.3L181.0,219.0L182.3,218.7L183.6,218.7L184.9,219.0L186.2,219.1L187.5,219.2L188.8,219.7L190.1,221.6L191.4,222.2L192.7,222.6L194.0,222.6L195.3,223.3L196.6,223.7L198.0,224.2L199.3,224.6L200.6,224.2L201.9,225.5L203.2,225.4L204.5,225.2L205.8,226.9L207.1,228.2L208.4,229.3L209.7,229.7L211.0,230.6L212.3,231.6L213.6,233.3L214.9,235.1L216.3,237.0L217.6,238.6L218.9,239.9L220.2,241.7L221.5,242.2L222.8,244.0L224.1,244.0L225.4,245.2L226.7,246.9L228.0,248.2L229.3,248.3L230.6,248.3L231.9,249.8L233.3,251.2L234.6,251.8L235.9,251.7L237.2,253.0L238.5,253.8L239.8,254.8L241.1,256.2L242.4,257.2L243.7,257.8L245.0,258.0L246.3,258.2L247.6,258.7L248.9,258.9L250.2,259.8L251.6,260.5L252.9,261.0L254.2,262.2L255.5,262.1L256.8,263.6L258.1,263.6L259.4,264.4L260.7,265.5L262.0,266.2L263.3,266.4L264.6,267.4L265.9,268.2L267.2,268.5L268.5,267.6L269.9,267.4L271.2,268.1L272.5,268.0L273.8,268.9L275.1,269.7L276.4,269.8L277.7,270.2L279.0,269.5L280.3,270.6L281.6,270.3L282.9,271.3L284.2,270.6L285.5,270.5L286.8,270.2L288.2,270.5L289.5,271.6L290.8,271.0L292.1,270.6L293.4,270.9L294.7,271.0L296.0,271.2L297.3,271.7L298.6,272.3L299.9,272.8L301.2,272.6L302.5,273.0L303.8,272.8L305.1,273.3L306.5,274.0L307.8,273.3L309.1,273.3L310.4,273.6L311.7,273.6L313.0,273.3L314.3,273.9L315.6,274.8L316.9,274.4L318.2,275.7L319.5,275.9L320.8,276.0L322.1,276.8" stroke="#a2d46e" stroke-width="1.60" fill="none" stroke-linejoin="round"/>
<path d="M60.7,264.2L62.0,258.9L63.3,248.4L64.6,235.6L65.9,222.2L67.2,211.3L68.5,200.2L69.9,190.4L71.2,180.1L72.5,171.1L73.8,162.1L75.1,154.4L76.4,148.7L77.7,143.9L79.0,138.0L80.3,134.1L81.6,131.0L82.9,132.3L84.2,133.4L85.5,134.3L86.8,135.5L88.2,139.0L89.5,142.1L90.8,144.0L92.1,149.1L93.4,153.2L94.7,156.8L96.0,159.0L97.3,160.6L98.6,163.3L99.9,168.9L101.2,172.4L102.5,175.3L103.8,177.2L105.1,179.3L106.5,181.6L107.8,185.4L109.1,188.7L110.4,191.2L111.7,193.9L113.0,195.4L114.3,196.6L115.6,197.4L116.9,197.6L118.2,198.0L119.5,197.7L120.8,198.0L122.1,199.4L123.4,199.6L124.8,201.0L126.1,200.9L127.4,200.1L128.7,199.6L130.0,199.9L131.3,199.7L132.6,199.4L133.9,199.6L135.2,198.9L136.5,198.1L137.8,197.9L139.1,197.9L140.4,198.0L141.7,197.2L143.1,197.6L144.4,197.2L145.7,197.2L147.0,196.7L148.3,196.2L149.6,195.7L150.9,196.0L152.2,195.8L153.5,196.0L154.8,196.9L156.1,198.5L157.4,199.4L158.7,200.7L160.0,200.5L161.4,201.3L162.7,201.4L164.0,202.5L165.3,202.9L166.6,202.5L167.9,201.6L169.2,200.8L170.5,200.8L171.8,200.9L173.1,201.4L174.4,202.4L175.7,203.4L177.0,203.6L178.3,204.1L179.7,203.9L181.0,204.5L182.3,204.0L183.6,204.6L184.9,204.1L186.2,204.5L187.5,204.0L188.8,205.1L190.1,205.7L191.4,205.8L192.7,206.7L194.0,207.4L195.3,207.3L196.6,206.5L198.0,206.1L199.3,206.7L200.6,206.7L201.9,207.1L203.2,208.0L204.5,209.1L205.8,210.3L207.1,210.2L208.4,212.0L209.7,213.0L211.0,214.3L212.3,216.4L213.6,217.4L214.9,218.4L216.3,220.0L217.6,222.3L218.9,224.7L220.2,225.2L221.5,226.6L222.8,227.6L224.1,228.2L225.4,229.6L226.7,231.2L228.0,232.5L229.3,232.7L230.6,233.6L231.9,233.6L233.3,234.1L234.6,234.4L235.9,235.4L237.2,236.9L238.5,237.5L239.8,239.4L241.1,240.2L242.4,240.4L243.7,241.6L245.0,243.2L246.3,243.9L247.6,244.5L248.9,245.5L250.2,245.5L251.6,246.7L252.9,247.8L254.2,248.3L255.5,249.4L256.8,250.1L258.1,250.7L259.4,250.4L260.7,251.8L262.0,252.7L263.3,253.4L264.6,252.7L265.9,252.6L267.2,253.8L268.5,253.9L269.9,254.9L271.2,255.2L272.5,255.4L273.8,255.4L275.1,254.8L276.4,254.9L277.7,255.5L279.0,255.6L280.3,256.3L281.6,256.4L282.9,256.5L284.2,257.5L285.5,257.1L286.8,257.4L288.2,257.8L289.5,258.1L290.8,258.7L292.1,258.6L293.4,259.2L294.7,258.8L296.0,258.1L297.3,257.9L298.6,258.1L299.9,258.5L301.2,258.4L302.5,259.4L303.8,260.2L305.1,259.4L306.5,259.9L307.8,259.8L309.1,260.2L310.4,260.7L311.7,260.4L313.0,261.1L314.3,261.0L315.6,260.9L316.9,262.1L318.2,261.6L319.5,263.0L320.8,263.4L322.1,263.6" stroke="#a4a4a4" stroke-width="1.60" fill="none" stroke-linejoin="round"/>
<path d="M80.3,9.0L81.6,10.7L82.9,13.3L84.2,15.3L85.5,17.1L86.8,19.4L88.2,24.4L89.5,30.8L90.8,34.9L92.1,44.9L93.4,56.8L94.7,63.8L96.0,69.3L97.3,72.9L98.6,79.6L99.9,87.3L101.2,94.0L102.5,100.3L103.8,106.9L105.1,113.9L106.5,119.8L107.8,125.7L109.1,132.4L110.4,138.4L111.7,144.1L113.0,149.5L114.3,155.9L115.6,161.2L116.9,165.5L118.2,170.0L119.5,174.1L120.8,178.4L122.1,183.9L123.4,190.0L124.8,195.6L126.1,201.0L127.4,206.1L128.7,210.2L130.0,215.0L131.3,219.5L132.6,223.6L133.9,227.7L135.2,231.7L136.5,236.1L137.8,240.8L139.1,244.5L140.4,248.2L141.7,252.0L143.1,255.4L144.4,258.7L145.7,261.7L147.0,264.4L148.3,267.5L149.6,269.5L150.9,271.6L152.2,274.8L153.5,277.1L154.8,279.7L156.1,282.8L157.4,285.7L158.7,287.7L160.0,290.2L161.4,292.3L162.7,294.0L164.0,295.5L165.3,296.9L166.6,298.5L167.9,300.3L169.2,302.4L170.5,304.3L171.8,306.0L173.1,307.4L174.4,308.7L175.7,310.6L177.0,312.0L178.3,312.5L179.7,313.9L181.0,314.8L182.3,316.0L183.6,317.2L184.9,318.7L186.2,320.1L187.5,321.2L188.8,322.9L190.1,323.6L191.4,324.4L192.7,326.4L194.0,327.7L195.3,328.8L196.6,329.9L198.0,330.8L199.3,331.0L200.6,332.0L201.9,333.0L203.2,332.8L204.5,333.5L205.8,334.1L207.1,334.7L208.4,335.5L209.7,336.1L211.0,336.9L212.3,337.2L213.6,338.0L214.9,338.7L216.3,339.3L217.6,339.6L218.9,339.3L220.2,339.6L221.5,339.5L222.8,340.3L224.1,341.1L225.4,341.2L226.7,341.9L228.0,341.6L229.3,342.2L230.6,342.8L231.9,343.3L233.3,343.6L234.6,343.1L235.9,342.9L237.2,343.3L238.5,344.1L239.8,344.9L241.1,345.3L242.4,345.4L243.7,345.1L245.0,344.9L246.3,344.6L247.6,344.5L248.9,345.1L250.2,345.1L251.6,345.3L252.9,345.2L254.2,345.8L255.5,345.3L256.8,345.8L258.1,345.8L259.4,345.8L260.7,345.8L262.0,345.8L263.3,345.8L264.6,345.8L265.9,345.8L267.2,345.8L268.5,345.8L269.9,345.8L271.2,345.8L272.5,345.8L273.8,345.8L275.1,345.8L276.4,345.8L277.7,345.8L279.0,345.8L280.3,345.8L281.6,345.8L282.9,345.8L284.2,345.8L285.5,345.8L286.8,345.8L288.2,345.8L289.5,345.8L290.8,345.8L292.1,345.8L293.4,345.8L294.7,345.8L296.0,345.8L297.3,345.8L298.6,345.8L299.9,345.8L301.2,345.8L302.5,345.8L303.8,345.8L305.1,345.8L306.5,345.8L307.8,345.8L309.1,345.8L310.4,345.8L311.7,345.8L313.0,345.8L314.3,345.8L315.6,345.8L316.9,345.8L318.2,345.8L319.5,345.8L320.8,345.8L322.1,345.8" stroke="#111111" stroke-width="2.2" fill="none" stroke-linejoin="round"/>
<path d="M60.7,268.6L62.0,264.0L63.3,253.8L64.6,242.1L65.9,231.0L67.2,219.9L68.5,210.1L69.9,200.6L71.2,191.1L72.5,180.9L73.8,172.3L75.1,164.7L76.4,160.3L77.7,155.7L79.0,150.4L80.3,145.3L81.6,142.6L82.9,143.1L84.2,144.5L85.5,145.3L86.8,147.4L88.2,150.2L89.5,152.5L90.8,155.1L92.1,159.2L93.4,163.0L94.7,166.0L96.0,167.3L97.3,169.0L98.6,172.1L99.9,177.2L101.2,180.9L102.5,182.8L103.8,184.2L105.1,186.5L106.5,188.6L107.8,191.5L109.1,194.5L110.4,197.6L111.7,199.2L113.0,201.1L114.3,201.5L115.6,202.3L116.9,202.7L118.2,202.3L119.5,201.8L120.8,201.2L122.1,200.6L123.4,200.6L124.8,201.2L126.1,201.0L127.4,200.4L128.7,199.2L130.0,197.8L131.3,197.3L132.6,196.0L133.9,195.1L135.2,194.2L136.5,194.1L137.8,193.6L139.1,193.2L140.4,192.2L141.7,190.7L143.1,189.7L144.4,189.0L145.7,189.3L147.0,188.7L148.3,188.3L149.6,188.0L150.9,187.9L152.2,188.7L153.5,189.3L154.8,189.1L156.1,189.3L157.4,189.6L158.7,190.5L160.0,190.7L161.4,191.8L162.7,191.4L164.0,191.1L165.3,191.4L166.6,191.2L167.9,189.9L169.2,188.7L170.5,188.7L171.8,189.4L173.1,189.8L174.4,189.6L175.7,190.6L177.0,190.2L178.3,190.7L179.7,191.1L181.0,191.4L182.3,190.5L183.6,190.2L184.9,190.7L186.2,191.5L187.5,191.5L188.8,191.5L190.1,192.7L191.4,192.9L192.7,192.8L194.0,193.4L195.3,193.5L196.6,193.1L198.0,193.4L199.3,193.5L200.6,193.3L201.9,193.6L203.2,194.0L204.5,194.8L205.8,194.8L207.1,196.1L208.4,197.0L209.7,198.0L211.0,199.9L212.3,202.3L213.6,204.1L214.9,206.2L216.3,208.2L217.6,210.3L218.9,211.8L220.2,213.2L221.5,214.4L222.8,215.1L224.1,215.9L225.4,216.6L226.7,217.8L228.0,218.6L229.3,219.5L230.6,220.9L231.9,221.5L233.3,222.5L234.6,223.0L235.9,223.5L237.2,224.9L238.5,225.9L239.8,226.9L241.1,228.1L242.4,229.6L243.7,230.8L245.0,230.8L246.3,231.4L247.6,232.5L248.9,233.2L250.2,234.4L251.6,234.9L252.9,235.2L254.2,235.9L255.5,237.0L256.8,237.3L258.1,237.8L259.4,239.4L260.7,240.2L262.0,240.9L263.3,241.7L264.6,242.0L265.9,242.8L267.2,242.7L268.5,242.6L269.9,243.6L271.2,243.5L272.5,244.1L273.8,244.1L275.1,244.2L276.4,244.1L277.7,244.4L279.0,245.3L280.3,245.5L281.6,246.5L282.9,246.5L284.2,246.9L285.5,247.3L286.8,247.7L288.2,248.0L289.5,247.5L290.8,248.1L292.1,248.3L293.4,248.5L294.7,248.7L296.0,248.2L297.3,248.1L298.6,247.9L299.9,247.6L301.2,248.0L302.5,248.9L303.8,249.3L305.1,249.2L306.5,249.0L307.8,248.8L309.1,249.3L310.4,250.0L311.7,250.1L313.0,250.0L314.3,250.7L315.6,250.6L316.9,250.8L318.2,251.4L319.5,252.0L320.8,253.0L322.1,253.8" stroke="#0000ff" stroke-width="2.5" fill="none" stroke-linejoin="round"/>
<path d="M400.3,236.5L401.6,228.2L402.9,218.3L404.2,205.4L405.5,192.9L406.8,182.6L408.1,172.4L409.4,163.2L410.7,154.1L412.0,144.7L413.3,135.9L414.7,126.6L416.0,118.7L417.3,110.6L418.6,102.5L419.9,94.5L421.2,92.1L422.5,90.4L423.8,90.2L425.1,90.0L426.4,93.8L427.7,95.3L429.0,98.6L430.3,106.4L431.6,117.3L432.9,123.3L434.2,126.9L435.5,130.3L436.8,132.5L438.1,137.3L439.4,143.4L440.7,148.8L442.0,151.4L443.4,153.1L444.7,157.8L446.0,161.6L447.3,165.8L448.6,170.8L449.9,174.4L451.2,177.8L452.5,181.5L453.8,184.2L455.1,186.9L456.4,189.6L457.7,192.0L459.0,194.6L460.3,197.3L461.6,200.3L462.9,202.6L464.2,205.2L465.5,207.6L466.8,209.3L468.1,210.7L469.4,213.3L470.7,215.6L472.1,216.9L473.4,218.6L474.7,221.4L476.0,222.9L477.3,225.8L478.6,227.0L479.9,228.9L481.2,230.3L482.5,232.5L483.8,234.5L485.1,236.7L486.4,238.1L487.7,239.9L489.0,243.0L490.3,244.8L491.6,246.3L492.9,247.5L494.2,249.4L495.5,251.7L496.8,253.1L498.1,255.7L499.4,258.4L500.8,259.7L502.1,262.4L503.4,264.8L504.7,266.2L506.0,266.8L507.3,267.9L508.6,268.6L509.9,269.0L511.2,271.0L512.5,272.5L513.8,272.6L515.1,272.8L516.4,272.9L517.7,274.6L519.0,274.7L520.3,274.9L521.6,275.2L522.9,276.8L524.2,278.6L525.5,279.1L526.8,279.3L528.1,280.7L529.5,280.5L530.8,281.8L532.1,281.4L533.4,281.6L534.7,281.7L536.0,282.5L537.3,283.8L538.6,283.5L539.9,284.4L541.2,284.6L542.5,284.5L543.8,285.8L545.1,285.3L546.4,286.0L547.7,286.6L549.0,286.3L550.3,287.2L551.6,287.6L552.9,288.2L554.2,288.7L555.5,289.1L556.8,290.1L558.2,290.9L559.5,291.3L560.8,290.8L562.1,290.6L563.4,290.3L564.7,290.6L566.0,291.2L567.3,291.3L568.6,292.3L569.9,292.6L571.2,293.2L572.5,292.8L573.8,292.3L575.1,292.5L576.4,292.9L577.7,292.5L579.0,293.7L580.3,293.6L581.6,293.2L582.9,293.4L584.2,294.2L585.5,294.2L586.9,294.6L588.2,294.0L589.5,295.2L590.8,295.8L592.1,295.9L593.4,296.3L594.7,296.2L596.0,295.6L597.3,296.2L598.6,295.7L599.9,296.7L601.2,296.8L602.5,296.5L603.8,296.2L605.1,296.6L606.4,296.9L607.7,296.9L609.0,296.3L610.3,296.8L611.6,297.5L612.9,297.7L614.2,298.3L615.6,297.6L616.9,298.5L618.2,298.6L619.5,298.4L620.8,298.3L622.1,298.5L623.4,298.1L624.7,298.9L626.0,298.8L627.3,298.5L628.6,299.7L629.9,299.9L631.2,299.7L632.5,300.5L633.8,300.8L635.1,300.7L636.4,300.0L637.7,299.7L639.0,301.0L640.3,301.6L641.6,301.4L642.9,302.0L644.3,302.4L645.6,301.8L646.9,301.8L648.2,301.3L649.5,302.3L650.8,301.5L652.1,301.1L653.4,301.6L654.7,302.0L656.0,302.9L657.3,303.0L658.6,302.6L659.9,303.1L661.2,303.8" stroke="#ff9a9a" stroke-width="1.60" fill="none" stroke-linejoin="round"/>
<path d="M400.3,245.4L401.6,238.1L402.9,230.8L404.2,218.6L405.5,207.2L406.8,197.7L408.1,188.4L409.4,180.6L410.7,171.9L412.0,163.7L413.3,156.4L414.7,147.8L416.0,139.2L417.3,130.4L418.6,122.1L419.9,114.8L421.2,112.2L422.5,110.9L423.8,111.6L425.1,112.7L426.4,114.9L427.7,116.4L429.0,118.2L430.3,125.4L431.6,135.7L432.9,140.3L434.2,143.9L435.5,146.5L436.8,147.8L438.1,151.8L439.4,157.3L440.7,161.5L442.0,164.3L443.4,166.6L444.7,170.7L446.0,174.9L447.3,179.0L448.6,183.7L449.9,186.9L451.2,191.1L452.5,195.1L453.8,197.8L455.1,200.8L456.4,203.6L457.7,205.2L459.0,207.2L460.3,209.0L461.6,210.7L462.9,213.7L464.2,215.8L465.5,218.1L466.8,220.3L468.1,222.1L469.4,223.4L470.7,224.3L472.1,224.9L473.4,225.4L474.7,226.6L476.0,229.2L477.3,231.2L478.6,231.8L479.9,232.7L481.2,234.3L482.5,236.4L483.8,238.4L485.1,240.2L486.4,240.3L487.7,241.3L489.0,242.7L490.3,244.0L491.6,245.8L492.9,247.2L494.2,249.2L495.5,250.3L496.8,251.9L498.1,253.7L499.4,256.5L500.8,259.3L502.1,262.0L503.4,263.2L504.7,263.6L506.0,264.6L507.3,265.5L508.6,266.9L509.9,267.9L511.2,269.3L512.5,269.3L513.8,271.0L515.1,271.0L516.4,271.1L517.7,272.4L519.0,272.7L520.3,273.5L521.6,273.7L522.9,275.2L524.2,275.8L525.5,276.5L526.8,277.5L528.1,278.2L529.5,279.0L530.8,279.1L532.1,279.2L533.4,279.4L534.7,280.5L536.0,280.0L537.3,280.2L538.6,280.9L539.9,280.6L541.2,280.6L542.5,282.0L543.8,282.5L545.1,283.4L546.4,283.1L547.7,283.4L549.0,284.3L550.3,284.4L551.6,284.1L552.9,284.6L554.2,285.3L555.5,286.3L556.8,287.2L558.2,287.3L559.5,286.8L560.8,287.3L562.1,288.2L563.4,288.9L564.7,288.0L566.0,287.6L567.3,288.9L568.6,288.7L569.9,289.8L571.2,289.1L572.5,289.5L573.8,289.8L575.1,289.4L576.4,289.6L577.7,289.8L579.0,290.2L580.3,290.0L581.6,289.9L582.9,290.2L584.2,291.4L585.5,291.4L586.9,290.8L588.2,291.3L589.5,292.3L590.8,291.9L592.1,291.6L593.4,291.9L594.7,292.1L596.0,293.1L597.3,292.3L598.6,292.7L599.9,293.7L601.2,294.3L602.5,293.3L603.8,293.9L605.1,293.1L606.4,293.4L607.7,293.3L609.0,294.4L610.3,293.9L611.6,294.1L612.9,294.1L614.2,294.6L615.6,295.2L616.9,294.8L618.2,295.0L619.5,294.8L620.8,294.8L622.1,295.4L623.4,296.3L624.7,296.6L626.0,296.8L627.3,297.1L628.6,296.3L629.9,296.6L631.2,296.7L632.5,297.6L633.8,297.5L635.1,297.6L636.4,297.1L637.7,296.9L639.0,296.9L640.3,296.8L641.6,296.5L642.9,297.3L644.3,298.2L645.6,298.7L646.9,299.0L648.2,298.2L649.5,299.0L650.8,298.7L652.1,298.2L653.4,298.5L654.7,298.6L656.0,299.6L657.3,299.0L658.6,298.5L659.9,299.7L661.2,300.2" stroke="#a6c2ea" stroke-width="1.60" fill="none" stroke-linejoin="round"/>
<path d="M400.3,250.8L401.6,243.6L402.9,235.9L404.2,226.6L405.5,216.1L406.8,208.0L408.1,200.3L409.4,191.5L410.7,182.8L412.0,175.2L413.3,167.3L414.7,160.1L416.0,152.1L417.3,143.8L418.6,136.3L419.9,128.1L421.2,125.7L422.5,124.5L423.8,124.7L425.1,125.2L426.4,127.3L427.7,128.6L429.0,131.0L430.3,137.3L431.6,146.4L432.9,151.6L434.2,153.7L435.5,156.0L436.8,157.4L438.1,160.6L439.4,164.9L440.7,168.3L442.0,170.5L443.4,172.3L444.7,175.9L446.0,179.8L447.3,185.0L448.6,189.5L449.9,193.3L451.2,195.6L452.5,198.2L453.8,200.8L455.1,203.9L456.4,207.0L457.7,209.3L459.0,210.6L460.3,213.3L461.6,214.7L462.9,216.6L464.2,218.6L465.5,220.9L466.8,222.9L468.1,224.5L469.4,224.9L470.7,226.7L472.1,227.6L473.4,228.2L474.7,229.8L476.0,231.5L477.3,231.7L478.6,233.5L479.9,233.9L481.2,235.2L482.5,236.3L483.8,237.9L485.1,239.2L486.4,240.7L487.7,241.4L489.0,243.5L490.3,244.7L491.6,245.6L492.9,246.4L494.2,248.8L495.5,249.5L496.8,252.1L498.1,254.1L499.4,256.1L500.8,258.6L502.1,260.0L503.4,262.8L504.7,264.0L506.0,264.9L507.3,265.3L508.6,267.0L509.9,267.4L511.2,267.6L512.5,269.4L513.8,270.1L515.1,269.8L516.4,271.2L517.7,271.9L519.0,272.1L520.3,272.3L521.6,272.9L522.9,274.2L524.2,274.3L525.5,274.8L526.8,276.3L528.1,277.0L529.5,278.1L530.8,277.4L532.1,277.4L533.4,277.7L534.7,278.3L536.0,279.4L537.3,279.9L538.6,280.4L539.9,280.2L541.2,280.0L542.5,280.2L543.8,280.5L545.1,281.0L546.4,281.6L547.7,281.8L549.0,282.2L550.3,282.2L551.6,282.1L552.9,282.3L554.2,283.2L555.5,283.5L556.8,284.1L558.2,284.5L559.5,285.1L560.8,285.8L562.1,286.3L563.4,285.9L564.7,286.1L566.0,286.2L567.3,286.6L568.6,286.6L569.9,286.4L571.2,286.4L572.5,286.9L573.8,287.4L575.1,288.1L576.4,289.1L577.7,289.7L579.0,289.1L580.3,288.4L581.6,289.5L582.9,290.1L584.2,290.4L585.5,289.5L586.9,290.1L588.2,289.7L589.5,290.7L590.8,289.8L592.1,290.3L593.4,290.2L594.7,290.1L596.0,290.8L597.3,291.1L598.6,290.6L599.9,291.3L601.2,291.2L602.5,292.2L603.8,292.8L605.1,292.5L606.4,291.8L607.7,292.6L609.0,293.1L610.3,292.6L611.6,293.2L612.9,292.8L614.2,293.2L615.6,293.8L616.9,293.6L618.2,294.0L619.5,293.5L620.8,293.0L622.1,293.7L623.4,293.8L624.7,294.3L626.0,294.7L627.3,293.9L628.6,294.2L629.9,294.4L631.2,294.3L632.5,294.4L633.8,295.1L635.1,295.4L636.4,294.9L637.7,294.7L639.0,294.8L640.3,296.2L641.6,295.6L642.9,295.8L644.3,295.4L645.6,296.5L646.9,296.4L648.2,296.1L649.5,297.0L650.8,297.2L652.1,298.0L653.4,297.5L654.7,298.4L656.0,298.2L657.3,298.1L658.6,298.6L659.9,297.8L661.2,297.3" stroke="#8db0f4" stroke-width="1.60" fill="none" stroke-linejoin="round"/>
<path d="M400.3,257.5L401.6,252.1L402.9,245.8L404.2,236.4L405.5,227.0L406.8,219.5L408.1,212.2L409.4,204.8L410.7,197.8L412.0,190.4L413.3,182.5L414.7,174.6L416.0,165.6L417.3,157.1L418.6,149.3L419.9,142.4L421.2,140.0L422.5,138.5L423.8,137.9L425.1,138.7L426.4,141.3L427.7,142.6L429.0,144.8L430.3,150.8L431.6,159.4L432.9,163.8L434.2,166.4L435.5,167.3L436.8,168.0L438.1,172.0L439.4,175.8L440.7,178.7L442.0,179.8L443.4,182.5L444.7,185.5L446.0,189.5L447.3,193.4L448.6,196.2L449.9,199.8L451.2,203.0L452.5,204.8L453.8,207.1L455.1,209.2L456.4,211.4L457.7,212.7L459.0,214.7L460.3,216.9L461.6,217.9L462.9,219.9L464.2,222.2L465.5,224.0L466.8,224.7L468.1,225.7L469.4,226.9L470.7,227.7L472.1,229.0L473.4,230.4L474.7,232.0L476.0,232.4L477.3,233.5L478.6,234.0L479.9,235.0L481.2,236.4L482.5,237.2L483.8,238.8L485.1,240.0L486.4,240.7L487.7,241.9L489.0,243.8L490.3,245.4L491.6,245.7L492.9,246.7L494.2,248.9L495.5,249.5L496.8,251.5L498.1,253.3L499.4,255.9L500.8,257.4L502.1,259.9L503.4,262.5L504.7,262.5L506.0,264.0L507.3,265.3L508.6,266.1L509.9,266.7L511.2,268.2L512.5,268.8L513.8,268.8L515.1,269.0L516.4,270.0L517.7,270.7L519.0,271.0L520.3,271.0L521.6,271.5L522.9,273.1L524.2,273.3L525.5,274.5L526.8,275.7L528.1,276.2L529.5,276.8L530.8,277.1L532.1,278.0L533.4,277.1L534.7,276.9L536.0,277.9L537.3,278.4L538.6,278.4L539.9,279.0L541.2,278.3L542.5,278.7L543.8,279.6L545.1,280.5L546.4,280.4L547.7,280.5L549.0,280.4L550.3,281.0L551.6,281.3L552.9,281.0L554.2,282.3L555.5,283.1L556.8,283.1L558.2,284.0L559.5,283.7L560.8,284.7L562.1,285.0L563.4,284.6L564.7,284.7L566.0,284.3L567.3,284.8L568.6,285.8L569.9,286.6L571.2,287.0L572.5,286.9L573.8,286.5L575.1,287.1L576.4,287.8L577.7,288.4L579.0,287.9L580.3,287.1L581.6,286.9L582.9,286.6L584.2,287.6L585.5,287.8L586.9,288.5L588.2,287.9L589.5,288.8L590.8,289.3L592.1,288.6L593.4,288.1L594.7,288.8L596.0,288.4L597.3,288.7L598.6,289.7L599.9,290.1L601.2,290.2L602.5,290.3L603.8,290.0L605.1,290.6L606.4,291.1L607.7,291.8L609.0,291.8L610.3,292.3L611.6,291.2L612.9,291.4L614.2,291.5L615.6,291.5L616.9,291.1L618.2,291.4L619.5,292.1L620.8,292.3L622.1,292.9L623.4,292.7L624.7,293.1L626.0,293.0L627.3,293.6L628.6,293.8L629.9,293.5L631.2,293.6L632.5,294.1L633.8,293.7L635.1,293.1L636.4,293.3L637.7,294.0L639.0,294.0L640.3,294.6L641.6,294.7L642.9,294.7L644.3,294.1L645.6,294.6L646.9,295.0L648.2,295.8L649.5,296.3L650.8,295.7L652.1,295.6L653.4,296.1L654.7,296.3L656.0,295.9L657.3,296.8L658.6,297.3L659.9,296.9L661.2,296.8" stroke="#82cfa0" stroke-width="1.60" fill="none" stroke-linejoin="round"/>
<path d="M400.3,261.5L401.6,256.6L402.9,250.7L404.2,242.4L405.5,234.2L406.8,227.7L408.1,221.5L409.4,215.0L410.7,207.0L412.0,199.2L413.3,191.8L414.7,184.8L416.0,176.4L417.3,167.8L418.6,159.9L419.9,154.1L421.2,150.2L422.5,148.8L423.8,148.5L425.1,148.4L426.4,151.3L427.7,153.2L429.0,154.5L430.3,160.2L431.6,167.9L432.9,171.7L434.2,173.0L435.5,174.9L436.8,176.4L438.1,178.5L439.4,182.6L440.7,186.5L442.0,188.5L443.4,189.9L444.7,192.9L446.0,195.6L447.3,198.6L448.6,202.3L449.9,205.4L451.2,206.8L452.5,209.0L453.8,211.2L455.1,213.5L456.4,214.9L457.7,216.7L459.0,218.0L460.3,220.7L461.6,222.4L462.9,223.0L464.2,224.8L465.5,225.6L466.8,227.3L468.1,227.9L469.4,228.8L470.7,230.3L472.1,231.7L473.4,232.8L474.7,233.5L476.0,233.5L477.3,234.5L478.6,235.4L479.9,235.9L481.2,237.9L482.5,238.1L483.8,239.7L485.1,240.2L486.4,240.9L487.7,242.3L489.0,242.6L490.3,244.2L491.6,245.4L492.9,246.1L494.2,247.1L495.5,248.5L496.8,250.0L498.1,252.6L499.4,254.8L500.8,257.1L502.1,259.6L503.4,261.2L504.7,262.4L506.0,263.9L507.3,265.0L508.6,264.7L509.9,264.7L511.2,266.2L512.5,266.5L513.8,267.8L515.1,269.0L516.4,269.3L517.7,270.1L519.0,270.1L520.3,269.7L521.6,270.3L522.9,271.1L524.2,272.2L525.5,272.5L526.8,273.5L528.1,274.1L529.5,274.5L530.8,274.8L532.1,274.4L533.4,275.6L534.7,275.8L536.0,275.7L537.3,276.2L538.6,276.9L539.9,277.3L541.2,277.0L542.5,277.3L543.8,277.1L545.1,278.1L546.4,278.5L547.7,278.9L549.0,279.2L550.3,279.3L551.6,279.8L552.9,280.5L554.2,280.6L555.5,280.2L556.8,281.2L558.2,281.0L559.5,280.7L560.8,281.8L562.1,282.6L563.4,283.2L564.7,282.8L566.0,283.1L567.3,284.1L568.6,283.4L569.9,283.0L571.2,284.0L572.5,283.9L573.8,284.0L575.1,283.8L576.4,284.5L577.7,284.4L579.0,284.2L580.3,284.2L581.6,284.9L582.9,285.4L584.2,285.2L585.5,285.6L586.9,285.3L588.2,286.0L589.5,286.0L590.8,286.4L592.1,287.0L593.4,287.4L594.7,287.3L596.0,287.3L597.3,287.7L598.6,288.1L599.9,287.5L601.2,287.9L602.5,287.5L603.8,287.2L605.1,288.2L606.4,288.2L607.7,287.7L609.0,288.1L610.3,287.9L611.6,288.7L612.9,288.3L614.2,288.8L615.6,289.0L616.9,290.0L618.2,289.9L619.5,289.3L620.8,289.7L622.1,290.2L623.4,290.3L624.7,289.7L626.0,290.4L627.3,290.2L628.6,289.9L629.9,290.2L631.2,291.4L632.5,291.6L633.8,291.7L635.1,292.0L636.4,292.4L637.7,291.8L639.0,292.4L640.3,292.0L641.6,292.6L642.9,292.9L644.3,293.0L645.6,292.4L646.9,292.1L648.2,292.7L649.5,293.8L650.8,293.8L652.1,293.2L653.4,292.8L654.7,292.9L656.0,292.9L657.3,292.7L658.6,293.8L659.9,294.8L661.2,294.0" stroke="#c9a8f2" stroke-width="1.60" fill="none" stroke-linejoin="round"/>
<path d="M400.3,268.9L401.6,263.5L402.9,259.1L404.2,252.4L405.5,246.0L406.8,240.4L408.1,234.3L409.4,227.8L410.7,220.9L412.0,214.2L413.3,206.8L414.7,200.0L416.0,192.4L417.3,183.7L418.6,175.7L419.9,169.4L421.2,167.0L422.5,165.7L423.8,164.7L425.1,165.0L426.4,166.5L427.7,167.2L429.0,168.4L430.3,173.4L431.6,181.0L432.9,185.6L434.2,186.5L435.5,187.6L436.8,188.6L438.1,191.3L439.4,194.5L440.7,196.1L442.0,197.8L443.4,198.5L444.7,201.5L446.0,203.7L447.3,207.1L448.6,208.9L449.9,210.4L451.2,212.7L452.5,214.8L453.8,216.8L455.1,218.6L456.4,220.2L457.7,221.6L459.0,222.6L460.3,224.9L461.6,225.6L462.9,226.5L464.2,227.9L465.5,228.4L466.8,229.0L468.1,231.0L469.4,232.3L470.7,233.3L472.1,233.7L473.4,234.0L474.7,234.0L476.0,234.4L477.3,236.3L478.6,236.4L479.9,237.6L481.2,238.1L482.5,238.9L483.8,240.2L485.1,241.2L486.4,241.9L487.7,243.4L489.0,244.5L490.3,245.6L491.6,245.6L492.9,246.2L494.2,247.7L495.5,249.7L496.8,250.3L498.1,252.4L499.4,254.5L500.8,255.6L502.1,257.5L503.4,259.3L504.7,259.5L506.0,260.9L507.3,261.5L508.6,262.4L509.9,262.2L511.2,263.4L512.5,264.7L513.8,265.1L515.1,266.0L516.4,266.1L517.7,266.6L519.0,267.1L520.3,266.8L521.6,267.9L522.9,268.4L524.2,268.7L525.5,269.6L526.8,269.9L528.1,269.4L529.5,269.4L530.8,269.1L532.1,270.5L533.4,269.8L534.7,270.7L536.0,271.3L537.3,271.0L538.6,271.0L539.9,271.1L541.2,271.3L542.5,271.1L543.8,272.2L545.1,273.0L546.4,272.6L547.7,273.0L549.0,273.9L550.3,274.4L551.6,273.9L552.9,274.4L554.2,274.8L555.5,274.7L556.8,275.6L558.2,275.7L559.5,276.3L560.8,276.2L562.1,277.1L563.4,276.8L564.7,277.9L566.0,278.4L567.3,277.7L568.6,278.0L569.9,278.4L571.2,278.5L572.5,278.5L573.8,278.9L575.1,279.7L576.4,280.4L577.7,280.6L579.0,280.9L580.3,280.1L581.6,280.5L582.9,279.9L584.2,279.9L585.5,280.8L586.9,281.6L588.2,281.7L589.5,281.1L590.8,280.8L592.1,280.6L593.4,280.4L594.7,281.3L596.0,281.1L597.3,281.2L598.6,281.4L599.9,282.0L601.2,282.2L602.5,282.0L603.8,282.2L605.1,282.3L606.4,283.0L607.7,282.8L609.0,282.8L610.3,282.9L611.6,282.5L612.9,282.6L614.2,282.9L615.6,283.3L616.9,283.7L618.2,283.3L619.5,284.6L620.8,285.4L622.1,285.5L623.4,285.2L624.7,285.6L626.0,286.0L627.3,285.2L628.6,284.7L629.9,284.8L631.2,285.0L632.5,285.0L633.8,284.8L635.1,285.4L636.4,285.7L637.7,286.6L639.0,287.1L640.3,286.1L641.6,286.6L642.9,286.0L644.3,286.7L645.6,286.7L646.9,286.5L648.2,286.5L649.5,287.4L650.8,287.3L652.1,287.2L653.4,287.3L654.7,288.2L656.0,289.1L657.3,288.7L658.6,289.0L659.9,288.4L661.2,288.8" stroke="#dab35c" stroke-width="1.60" fill="none" stroke-linejoin="round"/>
<path d="M400.3,271.8L401.6,267.8L402.9,263.1L404.2,257.5L405.5,251.8L406.8,246.5L408.1,241.8L409.4,235.6L410.7,229.9L412.0,223.1L413.3,216.7L414.7,208.9L416.0,201.1L417.3,194.1L418.6,186.2L419.9,178.9L421.2,175.9L422.5,174.6L423.8,174.3L425.1,174.8L426.4,176.3L427.7,176.8L429.0,177.5L430.3,182.7L431.6,189.6L432.9,193.6L434.2,193.8L435.5,193.6L436.8,194.4L438.1,196.8L439.4,199.5L440.7,201.2L442.0,203.4L443.4,204.4L444.7,206.2L446.0,208.9L447.3,211.5L448.6,214.0L449.9,216.5L451.2,218.0L452.5,219.6L453.8,221.9L455.1,223.1L456.4,224.7L457.7,226.1L459.0,226.6L460.3,228.6L461.6,230.0L462.9,231.1L464.2,231.7L465.5,233.2L466.8,233.4L468.1,234.6L469.4,234.9L470.7,235.3L472.1,234.7L473.4,235.1L474.7,236.1L476.0,237.0L477.3,237.5L478.6,237.9L479.9,238.7L481.2,238.9L482.5,239.4L483.8,240.2L485.1,240.2L486.4,241.4L487.7,242.7L489.0,243.2L490.3,244.6L491.6,244.9L492.9,246.0L494.2,247.7L495.5,248.1L496.8,248.9L498.1,251.1L499.4,253.2L500.8,255.2L502.1,256.1L503.4,257.3L504.7,258.0L506.0,258.4L507.3,259.6L508.6,260.4L509.9,260.5L511.2,260.7L512.5,262.3L513.8,262.4L515.1,262.7L516.4,262.8L517.7,263.9L519.0,263.8L520.3,264.7L521.6,265.8L522.9,265.3L524.2,265.8L525.5,266.8L526.8,266.4L528.1,267.5L529.5,267.7L530.8,267.6L532.1,267.7L533.4,267.6L534.7,267.1L536.0,267.6L537.3,267.5L538.6,268.2L539.9,268.4L541.2,268.7L542.5,268.7L543.8,269.3L545.1,269.1L546.4,269.6L547.7,270.5L549.0,271.3L550.3,270.5L551.6,270.7L552.9,270.9L554.2,271.3L555.5,271.3L556.8,272.2L558.2,272.5L559.5,273.0L560.8,273.6L562.1,273.7L563.4,274.3L564.7,274.8L566.0,275.6L567.3,275.4L568.6,276.0L569.9,276.0L571.2,275.9L572.5,275.9L573.8,276.0L575.1,276.8L576.4,277.5L577.7,277.3L579.0,276.7L580.3,277.5L581.6,277.6L582.9,277.4L584.2,277.4L585.5,278.0L586.9,278.4L588.2,277.8L589.5,278.3L590.8,278.1L592.1,277.5L593.4,278.5L594.7,279.3L596.0,279.1L597.3,279.4L598.6,279.6L599.9,279.1L601.2,279.2L602.5,279.6L603.8,279.3L605.1,279.3L606.4,279.8L607.7,280.2L609.0,281.1L610.3,281.6L611.6,280.9L612.9,280.2L614.2,281.0L615.6,281.2L616.9,280.5L618.2,281.5L619.5,281.4L620.8,281.4L622.1,281.5L623.4,281.9L624.7,282.8L626.0,282.1L627.3,281.4L628.6,281.4L629.9,282.6L631.2,282.4L632.5,282.5L633.8,283.3L635.1,282.4L636.4,282.2L637.7,282.5L639.0,282.1L640.3,282.1L641.6,283.3L642.9,283.1L644.3,283.7L645.6,284.6L646.9,284.7L648.2,284.2L649.5,285.1L650.8,284.8L652.1,285.5L653.4,285.3L654.7,285.3L656.0,285.6L657.3,285.8L658.6,285.1L659.9,284.9L661.2,286.0" stroke="#6cdcdc" stroke-width="1.60" fill="none" stroke-linejoin="round"/>
<path d="M400.3,275.8L401.6,273.0L402.9,269.4L404.2,264.6L405.5,259.4L406.8,255.0L408.1,250.4L409.4,244.8L410.7,239.4L412.0,233.1L413.3,226.2L414.7,219.6L416.0,212.1L417.3,203.4L418.6,196.5L419.9,190.6L421.2,186.9L422.5,184.8L423.8,183.6L425.1,184.6L426.4,185.9L427.7,186.8L429.0,187.3L430.3,191.7L431.6,197.8L432.9,201.1L434.2,201.2L435.5,201.1L436.8,201.7L438.1,203.4L439.4,206.2L440.7,208.1L442.0,209.2L443.4,210.9L444.7,212.2L446.0,215.1L447.3,216.0L448.6,217.7L449.9,220.3L451.2,222.7L452.5,224.1L453.8,225.2L455.1,226.3L456.4,227.6L457.7,228.1L459.0,229.0L460.3,229.5L461.6,230.5L462.9,232.1L464.2,233.5L465.5,233.7L466.8,234.0L468.1,234.2L469.4,234.8L470.7,235.7L472.1,236.7L473.4,237.2L474.7,237.4L476.0,237.3L477.3,237.9L478.6,238.9L479.9,239.3L481.2,240.0L482.5,240.5L483.8,241.4L485.1,241.1L486.4,241.1L487.7,242.9L489.0,243.9L490.3,244.2L491.6,245.0L492.9,245.8L494.2,246.5L495.5,247.8L496.8,248.8L498.1,250.8L499.4,252.0L500.8,252.9L502.1,254.1L503.4,255.8L504.7,257.3L506.0,257.7L507.3,258.1L508.6,259.3L509.9,259.9L511.2,259.8L512.5,259.6L513.8,259.5L515.1,260.3L516.4,260.9L517.7,261.1L519.0,261.6L520.3,262.4L521.6,262.7L522.9,263.2L524.2,263.0L525.5,263.8L526.8,263.9L528.1,263.5L529.5,264.0L530.8,264.5L532.1,263.9L533.4,264.2L534.7,264.4L536.0,265.0L537.3,265.4L538.6,265.0L539.9,264.8L541.2,265.4L542.5,265.5L543.8,266.3L545.1,265.9L546.4,266.4L547.7,266.7L549.0,266.5L550.3,266.8L551.6,266.5L552.9,266.4L554.2,266.4L555.5,268.0L556.8,267.8L558.2,268.1L559.5,269.3L560.8,269.1L562.1,270.3L563.4,270.1L564.7,270.5L566.0,271.3L567.3,271.1L568.6,271.5L569.9,271.0L571.2,271.5L572.5,271.6L573.8,271.2L575.1,272.1L576.4,272.2L577.7,272.1L579.0,271.7L580.3,271.8L581.6,273.2L582.9,273.7L584.2,273.5L585.5,274.2L586.9,273.5L588.2,273.0L589.5,273.7L590.8,273.3L592.1,274.1L593.4,273.7L594.7,273.9L596.0,274.4L597.3,274.8L598.6,274.5L599.9,274.6L601.2,274.8L602.5,275.7L603.8,276.6L605.1,275.5L606.4,275.9L607.7,275.7L609.0,276.5L610.3,277.2L611.6,277.4L612.9,277.6L614.2,277.2L615.6,277.1L616.9,277.3L618.2,278.0L619.5,278.6L620.8,277.7L622.1,277.2L623.4,277.9L624.7,277.7L626.0,278.3L627.3,278.4L628.6,278.2L629.9,277.6L631.2,278.1L632.5,278.1L633.8,279.0L635.1,278.8L636.4,279.4L637.7,279.6L639.0,278.8L640.3,278.3L641.6,278.4L642.9,279.1L644.3,278.7L645.6,278.7L646.9,279.3L648.2,280.1L649.5,280.7L650.8,281.5L652.1,281.1L653.4,280.8L654.7,281.6L656.0,281.4L657.3,280.8L658.6,281.0L659.9,281.1L661.2,281.4" stroke="#bf9f9f" stroke-width="1.60" fill="none" stroke-linejoin="round"/>
<path d="M400.3,279.2L401.6,276.4L402.9,271.7L404.2,267.5L405.5,263.2L406.8,258.1L408.1,254.7L409.4,249.5L410.7,244.5L412.0,239.0L413.3,232.5L414.7,225.5L416.0,216.9L417.3,208.5L418.6,201.4L419.9,195.7L421.2,192.6L422.5,191.1L423.8,190.6L425.1,189.9L426.4,191.3L427.7,191.8L429.0,192.7L430.3,196.3L431.6,202.6L432.9,205.1L434.2,206.0L435.5,205.5L436.8,206.6L438.1,207.5L439.4,209.0L440.7,211.6L442.0,212.6L443.4,213.6L444.7,214.8L446.0,216.8L447.3,218.8L448.6,220.3L449.9,222.3L451.2,224.6L452.5,226.3L453.8,228.0L455.1,229.3L456.4,229.6L457.7,229.8L459.0,231.0L460.3,232.6L461.6,233.7L462.9,234.7L464.2,234.6L465.5,235.9L466.8,236.4L468.1,236.0L469.4,236.2L470.7,236.6L472.1,237.6L473.4,237.3L474.7,238.2L476.0,237.8L477.3,238.4L478.6,238.9L479.9,239.1L481.2,240.3L482.5,240.6L483.8,241.4L485.1,242.5L486.4,243.2L487.7,242.8L489.0,242.8L490.3,243.9L491.6,245.3L492.9,245.7L494.2,247.1L495.5,247.7L496.8,249.6L498.1,251.4L499.4,252.8L500.8,254.4L502.1,254.8L503.4,255.2L504.7,256.3L506.0,256.8L507.3,256.6L508.6,257.0L509.9,257.1L511.2,256.8L512.5,258.3L513.8,258.0L515.1,258.2L516.4,258.7L517.7,259.0L519.0,258.9L520.3,259.7L521.6,259.6L522.9,260.4L524.2,260.1L525.5,259.8L526.8,260.5L528.1,260.8L529.5,261.6L530.8,261.9L532.1,262.6L533.4,261.8L534.7,262.1L536.0,261.6L537.3,261.6L538.6,261.2L539.9,261.4L541.2,261.6L542.5,261.9L543.8,262.7L545.1,261.8L546.4,262.7L547.7,263.2L549.0,263.4L550.3,263.2L551.6,263.1L552.9,262.8L554.2,263.9L555.5,264.4L556.8,264.8L558.2,264.3L559.5,265.4L560.8,266.4L562.1,266.8L563.4,266.7L564.7,267.0L566.0,267.3L567.3,267.2L568.6,267.1L569.9,267.4L571.2,268.3L572.5,268.6L573.8,269.0L575.1,268.6L576.4,269.4L577.7,268.6L579.0,268.3L580.3,268.2L581.6,269.1L582.9,270.2L584.2,270.3L585.5,269.8L586.9,270.6L588.2,270.7L589.5,271.3L590.8,271.3L592.1,271.3L593.4,270.5L594.7,271.5L596.0,271.1L597.3,271.1L598.6,271.6L599.9,272.1L601.2,271.5L602.5,272.4L603.8,271.7L605.1,272.1L606.4,272.5L607.7,272.5L609.0,271.8L610.3,272.0L611.6,272.6L612.9,272.8L614.2,273.4L615.6,273.7L616.9,274.4L618.2,274.5L619.5,274.5L620.8,274.3L622.1,274.5L623.4,273.9L624.7,274.8L626.0,275.2L627.3,275.2L628.6,275.1L629.9,274.6L631.2,275.0L632.5,274.2L633.8,275.1L635.1,275.8L636.4,274.8L637.7,275.3L639.0,275.6L640.3,276.3L641.6,276.3L642.9,275.7L644.3,276.7L645.6,276.3L646.9,276.5L648.2,276.4L649.5,277.1L650.8,277.4L652.1,276.9L653.4,277.6L654.7,277.5L656.0,278.3L657.3,278.0L658.6,277.7L659.9,278.6L661.2,277.7" stroke="#c2c275" stroke-width="1.60" fill="none" stroke-linejoin="round"/>
<path d="M400.3,281.2L401.6,278.6L402.9,276.1L404.2,271.4L405.5,267.8L406.8,264.0L408.1,260.1L409.4,254.8L410.7,250.6L412.0,245.3L413.3,238.1L414.7,231.2L416.0,223.6L417.3,216.1L418.6,209.3L419.9,202.8L421.2,198.3L422.5,196.5L423.8,195.1L425.1,196.1L426.4,196.7L427.7,198.0L429.0,199.2L430.3,201.9L431.6,207.0L432.9,210.7L434.2,211.6L435.5,210.8L436.8,211.8L438.1,212.4L439.4,214.2L440.7,215.6L442.0,216.3L443.4,218.4L444.7,220.0L446.0,221.5L447.3,223.6L448.6,223.9L449.9,226.1L451.2,227.2L452.5,228.0L453.8,228.8L455.1,229.5L456.4,230.9L457.7,232.3L459.0,233.5L460.3,233.7L461.6,233.6L462.9,234.1L464.2,234.6L465.5,236.4L466.8,236.2L468.1,236.6L469.4,236.8L470.7,236.6L472.1,236.4L473.4,237.5L474.7,238.0L476.0,239.0L477.3,238.9L478.6,238.7L479.9,239.8L481.2,239.5L482.5,239.9L483.8,240.6L485.1,241.5L486.4,242.4L487.7,242.8L489.0,243.4L490.3,244.2L491.6,244.3L492.9,245.7L494.2,246.6L495.5,247.4L496.8,248.0L498.1,249.6L499.4,250.3L500.8,252.3L502.1,253.8L503.4,254.8L504.7,254.7L506.0,255.2L507.3,255.1L508.6,254.8L509.9,254.2L511.2,255.4L512.5,256.2L513.8,256.1L515.1,255.8L516.4,255.9L517.7,255.5L519.0,255.7L520.3,256.3L521.6,255.5L522.9,255.7L524.2,256.8L525.5,256.2L526.8,256.4L528.1,257.0L529.5,256.8L530.8,257.6L532.1,256.9L533.4,256.4L534.7,256.9L536.0,256.6L537.3,256.1L538.6,256.0L539.9,256.5L541.2,256.4L542.5,256.7L543.8,256.3L545.1,256.0L546.4,256.8L547.7,256.9L549.0,257.7L550.3,258.3L551.6,257.7L552.9,257.7L554.2,258.5L555.5,259.3L556.8,259.9L558.2,260.7L559.5,260.3L560.8,260.1L562.1,260.2L563.4,260.8L564.7,261.4L566.0,261.4L567.3,261.8L568.6,261.5L569.9,261.4L571.2,262.0L572.5,262.4L573.8,263.1L575.1,262.9L576.4,264.1L577.7,264.8L579.0,264.9L580.3,264.1L581.6,264.0L582.9,265.1L584.2,265.0L585.5,264.3L586.9,265.0L588.2,265.6L589.5,265.5L590.8,265.6L592.1,265.9L593.4,266.1L594.7,266.2L596.0,265.8L597.3,266.7L598.6,266.2L599.9,266.1L601.2,267.0L602.5,266.1L603.8,266.7L605.1,266.2L606.4,265.8L607.7,265.6L609.0,265.8L610.3,265.7L611.6,266.9L612.9,267.6L614.2,267.8L615.6,268.4L616.9,269.0L618.2,269.4L619.5,269.6L620.8,269.6L622.1,269.7L623.4,269.1L624.7,269.4L626.0,268.7L627.3,268.2L628.6,268.4L629.9,269.4L631.2,269.4L632.5,269.7L633.8,270.2L635.1,270.1L636.4,270.1L637.7,269.5L639.0,269.3L640.3,269.7L641.6,269.6L642.9,269.5L644.3,270.7L645.6,270.2L646.9,269.9L648.2,271.1L649.5,272.0L650.8,272.4L652.1,271.8L653.4,271.4L654.7,271.4L656.0,271.1L657.3,271.3L658.6,271.3L659.9,272.2L661.2,272.3" stroke="#fda26c" stroke-width="1.60" fill="none" stroke-linejoin="round"/>
<path d="M400.3,283.8L401.6,281.7L402.9,279.2L404.2,275.8L405.5,272.0L406.8,268.5L408.1,264.5L409.4,261.0L410.7,255.4L412.0,250.2L413.3,244.1L414.7,237.6L416.0,229.2L417.3,221.2L418.6,214.6L419.9,208.0L421.2,204.6L422.5,203.6L423.8,202.8L425.1,203.2L426.4,203.0L427.7,202.6L429.0,203.6L430.3,207.4L431.6,212.9L432.9,215.6L434.2,216.8L435.5,216.1L436.8,215.8L438.1,216.8L439.4,218.9L440.7,220.8L442.0,222.4L443.4,222.3L444.7,222.9L446.0,224.5L447.3,226.1L448.6,227.1L449.9,228.3L451.2,229.7L452.5,230.3L453.8,231.5L455.1,231.8L456.4,232.6L457.7,233.8L459.0,234.4L460.3,234.9L461.6,235.6L462.9,235.8L464.2,236.3L465.5,237.2L466.8,237.0L468.1,238.3L469.4,238.5L470.7,238.2L472.1,239.1L473.4,239.8L474.7,238.9L476.0,239.6L477.3,240.1L478.6,239.8L479.9,240.0L481.2,240.9L482.5,240.5L483.8,241.6L485.1,242.9L486.4,243.3L487.7,243.9L489.0,244.4L490.3,244.5L491.6,244.8L492.9,245.4L494.2,245.5L495.5,247.0L496.8,248.1L498.1,249.0L499.4,248.9L500.8,250.4L502.1,251.4L503.4,251.1L504.7,252.1L506.0,251.4L507.3,250.7L508.6,251.0L509.9,251.6L511.2,252.4L512.5,251.9L513.8,251.3L515.1,252.0L516.4,252.4L517.7,252.4L519.0,251.7L520.3,252.0L521.6,251.5L522.9,251.6L524.2,250.9L525.5,251.3L526.8,251.2L528.1,251.3L529.5,251.6L530.8,251.8L532.1,251.3L533.4,250.5L534.7,250.0L536.0,250.3L537.3,250.2L538.6,250.4L539.9,250.9L541.2,250.4L542.5,250.5L543.8,251.4L545.1,250.8L546.4,250.9L547.7,250.4L549.0,251.0L550.3,252.0L551.6,252.2L552.9,251.9L554.2,252.2L555.5,252.9L556.8,253.5L558.2,253.8L559.5,254.6L560.8,253.7L562.1,254.4L563.4,253.8L564.7,254.8L566.0,254.3L567.3,254.4L568.6,255.8L569.9,255.4L571.2,255.6L572.5,255.7L573.8,256.6L575.1,257.0L576.4,257.4L577.7,258.1L579.0,258.2L580.3,258.8L581.6,258.3L582.9,258.6L584.2,257.9L585.5,257.5L586.9,258.4L588.2,259.3L589.5,259.0L590.8,259.2L592.1,258.9L593.4,259.7L594.7,259.6L596.0,260.0L597.3,259.1L598.6,259.2L599.9,259.7L601.2,259.9L602.5,259.3L603.8,259.7L605.1,259.8L606.4,259.7L607.7,260.1L609.0,260.6L610.3,261.1L611.6,261.2L612.9,260.9L614.2,261.6L615.6,261.9L616.9,262.3L618.2,262.5L619.5,262.4L620.8,263.0L622.1,262.0L623.4,261.4L624.7,261.1L626.0,261.6L627.3,262.1L628.6,262.8L629.9,263.3L631.2,262.9L632.5,263.1L633.8,262.3L635.1,262.6L636.4,262.0L637.7,262.6L639.0,262.5L640.3,263.5L641.6,263.6L642.9,264.3L644.3,264.2L645.6,264.3L646.9,264.1L648.2,264.3L649.5,265.3L650.8,265.6L652.1,264.7L653.4,265.1L654.7,265.6L656.0,265.3L657.3,265.7L658.6,265.7L659.9,265.9L661.2,266.0" stroke="#a6c2ea" stroke-width="1.60" fill="none" stroke-linejoin="round"/>
<path d="M400.3,287.3L401.6,285.4L402.9,282.9L404.2,279.1L405.5,276.3L406.8,272.8L408.1,270.0L409.4,266.3L410.7,261.4L412.0,256.8L413.3,249.8L414.7,242.9L416.0,235.4L417.3,228.2L418.6,220.9L419.9,214.2L421.2,210.2L422.5,209.8L423.8,209.0L425.1,208.0L426.4,209.0L427.7,209.0L429.0,209.9L430.3,212.5L431.6,217.3L432.9,221.2L434.2,220.7L435.5,219.9L436.8,219.5L438.1,220.5L439.4,221.5L440.7,223.2L442.0,225.2L443.4,226.5L444.7,227.7L446.0,227.7L447.3,229.4L448.6,231.1L449.9,231.0L451.2,231.4L452.5,232.3L453.8,233.4L455.1,234.7L456.4,235.1L457.7,235.2L459.0,235.4L460.3,236.9L461.6,237.3L462.9,238.5L464.2,237.9L465.5,238.0L466.8,239.3L468.1,238.6L469.4,239.4L470.7,239.2L472.1,239.5L473.4,240.3L474.7,239.8L476.0,239.5L477.3,240.4L478.6,239.9L479.9,240.3L481.2,241.5L482.5,242.1L483.8,243.0L485.1,242.1L486.4,242.8L487.7,243.7L489.0,244.8L490.3,244.7L491.6,245.5L492.9,245.9L494.2,246.2L495.5,246.9L496.8,246.9L498.1,247.2L499.4,247.8L500.8,247.2L502.1,247.6L503.4,247.4L504.7,247.8L506.0,247.4L507.3,246.2L508.6,245.2L509.9,245.9L511.2,245.1L512.5,245.5L513.8,245.1L515.1,245.2L516.4,244.5L517.7,244.4L519.0,245.1L520.3,244.0L521.6,244.3L522.9,243.6L524.2,243.4L525.5,243.5L526.8,244.1L528.1,242.9L529.5,243.5L530.8,242.9L532.1,242.4L533.4,241.5L534.7,241.1L536.0,240.4L537.3,240.2L538.6,240.9L539.9,241.1L541.2,240.9L542.5,240.4L543.8,240.0L545.1,240.3L546.4,241.0L547.7,240.6L549.0,241.0L550.3,240.3L551.6,240.1L552.9,240.9L554.2,240.5L555.5,240.8L556.8,240.9L558.2,241.7L559.5,242.5L560.8,241.9L562.1,242.9L563.4,243.0L564.7,243.5L566.0,243.6L567.3,243.7L568.6,243.5L569.9,245.0L571.2,245.0L572.5,245.2L573.8,245.7L575.1,245.6L576.4,246.4L577.7,245.8L579.0,246.3L580.3,247.0L581.6,246.9L582.9,247.6L584.2,247.7L585.5,247.3L586.9,246.9L588.2,247.1L589.5,247.2L590.8,247.2L592.1,247.6L593.4,248.5L594.7,247.9L596.0,248.6L597.3,248.8L598.6,249.5L599.9,249.9L601.2,249.7L602.5,249.8L603.8,249.3L605.1,250.2L606.4,249.8L607.7,250.3L609.0,250.6L610.3,250.5L611.6,249.9L612.9,250.6L614.2,250.3L615.6,250.8L616.9,251.2L618.2,251.2L619.5,250.6L620.8,251.3L622.1,251.5L623.4,250.6L624.7,251.1L626.0,251.2L627.3,251.7L628.6,252.1L629.9,252.0L631.2,252.3L632.5,251.5L633.8,251.7L635.1,251.0L636.4,251.6L637.7,252.3L639.0,252.6L640.3,252.5L641.6,253.1L642.9,253.5L644.3,252.8L645.6,253.5L646.9,252.8L648.2,253.2L649.5,253.5L650.8,254.3L652.1,254.1L653.4,254.6L654.7,255.2L656.0,254.3L657.3,253.9L658.6,253.8L659.9,254.9L661.2,254.9" stroke="#a2d46e" stroke-width="1.60" fill="none" stroke-linejoin="round"/>
<path d="M400.3,287.0L401.6,285.3L402.9,283.1L404.2,280.8L405.5,277.8L406.8,274.2L408.1,271.1L409.4,268.1L410.7,264.1L412.0,257.5L413.3,252.0L414.7,244.9L416.0,236.7L417.3,229.2L418.6,222.4L419.9,216.4L421.2,212.8L422.5,211.3L423.8,209.5L425.1,208.8L426.4,210.3L427.7,211.0L429.0,212.6L430.3,214.8L431.6,219.1L432.9,222.1L434.2,223.0L435.5,222.5L436.8,222.5L438.1,222.5L439.4,223.1L440.7,224.3L442.0,225.5L443.4,226.0L444.7,227.1L446.0,228.9L447.3,229.3L448.6,230.3L449.9,230.8L451.2,232.3L452.5,233.1L453.8,233.7L455.1,234.5L456.4,236.0L457.7,236.9L459.0,237.3L460.3,238.4L461.6,239.2L462.9,238.8L464.2,238.5L465.5,238.5L466.8,239.2L468.1,238.9L469.4,239.4L470.7,240.3L472.1,240.4L473.4,239.6L474.7,239.2L476.0,239.1L477.3,239.9L478.6,240.8L479.9,241.1L481.2,241.2L482.5,241.7L483.8,242.6L485.1,243.3L486.4,243.1L487.7,244.2L489.0,244.7L490.3,245.2L491.6,245.8L492.9,246.3L494.2,245.8L495.5,246.2L496.8,247.0L498.1,246.6L499.4,247.7L500.8,248.4L502.1,248.4L503.4,247.4L504.7,246.5L506.0,246.8L507.3,245.5L508.6,245.2L509.9,245.1L511.2,244.4L512.5,244.9L513.8,244.6L515.1,244.8L516.4,244.3L517.7,243.6L519.0,244.0L520.3,243.1L521.6,242.9L522.9,242.3L524.2,242.1L525.5,242.2L526.8,241.9L528.1,241.7L529.5,241.5L530.8,241.4L532.1,241.7L533.4,241.3L534.7,240.3L536.0,240.4L537.3,239.5L538.6,239.7L539.9,239.3L541.2,238.7L542.5,239.2L543.8,239.3L545.1,238.5L546.4,238.3L547.7,237.5L549.0,238.7L550.3,238.4L551.6,239.0L552.9,239.0L554.2,238.9L555.5,238.9L556.8,240.1L558.2,240.8L559.5,240.4L560.8,239.9L562.1,241.2L563.4,241.5L564.7,240.9L566.0,242.1L567.3,241.9L568.6,242.6L569.9,242.9L571.2,243.6L572.5,243.5L573.8,243.1L575.1,243.0L576.4,243.8L577.7,243.7L579.0,244.5L580.3,244.9L581.6,244.7L582.9,245.7L584.2,245.6L585.5,245.6L586.9,245.0L588.2,245.2L589.5,245.7L590.8,246.2L592.1,246.7L593.4,246.8L594.7,246.4L596.0,246.3L597.3,245.9L598.6,247.1L599.9,247.3L601.2,248.0L602.5,247.2L603.8,246.7L605.1,247.6L606.4,247.4L607.7,247.2L609.0,248.0L610.3,247.6L611.6,247.6L612.9,248.0L614.2,248.6L615.6,248.8L616.9,248.9L618.2,249.1L619.5,249.1L620.8,248.4L622.1,247.9L623.4,248.2L624.7,248.3L626.0,248.3L627.3,248.1L628.6,247.8L629.9,247.9L631.2,248.0L632.5,248.5L633.8,248.8L635.1,248.2L636.4,248.6L637.7,248.8L639.0,248.4L640.3,249.0L641.6,248.6L642.9,248.6L644.3,249.7L645.6,249.9L646.9,249.8L648.2,250.8L649.5,251.0L650.8,251.2L652.1,250.9L653.4,251.8L654.7,251.9L656.0,251.6L657.3,252.1L658.6,252.8L659.9,252.7L661.2,252.3" stroke="#e292f2" stroke-width="1.60" fill="none" stroke-linejoin="round"/>
<path d="M400.3,289.9L401.6,287.8L402.9,285.7L404.2,283.1L405.5,280.4L406.8,277.6L408.1,274.4L409.4,271.3L410.7,266.9L412.0,261.4L413.3,255.5L414.7,248.2L416.0,240.5L417.3,232.6L418.6,226.7L419.9,221.0L421.2,217.8L422.5,216.3L423.8,215.9L425.1,215.0L426.4,214.8L427.7,214.4L429.0,215.9L430.3,217.9L431.6,222.3L432.9,225.4L434.2,226.3L435.5,226.1L436.8,225.0L438.1,226.4L439.4,226.7L440.7,227.8L442.0,229.6L443.4,230.5L444.7,231.1L446.0,231.4L447.3,232.6L448.6,233.0L449.9,233.4L451.2,234.3L452.5,235.7L453.8,236.6L455.1,236.5L456.4,237.1L457.7,237.5L459.0,237.5L460.3,238.3L461.6,238.2L462.9,239.8L464.2,239.9L465.5,240.6L466.8,241.4L468.1,241.7L469.4,241.1L470.7,240.2L472.1,240.4L473.4,239.7L474.7,240.9L476.0,241.5L477.3,241.6L478.6,241.8L479.9,241.8L481.2,242.3L482.5,241.8L483.8,242.4L485.1,243.4L486.4,243.3L487.7,244.1L489.0,244.9L490.3,244.4L491.6,244.5L492.9,245.0L494.2,246.0L495.5,246.2L496.8,246.5L498.1,245.7L499.4,244.6L500.8,244.1L502.1,243.0L503.4,242.1L504.7,241.9L506.0,241.5L507.3,240.1L508.6,238.5L509.9,238.0L511.2,237.1L512.5,237.0L513.8,237.1L515.1,236.4L516.4,235.2L517.7,234.1L519.0,233.8L520.3,234.2L521.6,233.2L522.9,232.5L524.2,231.4L525.5,231.3L526.8,231.1L528.1,230.4L529.5,230.3L530.8,229.2L532.1,229.3L533.4,228.2L534.7,228.2L536.0,227.4L537.3,226.2L538.6,226.5L539.9,226.3L541.2,225.4L542.5,226.0L543.8,225.7L545.1,225.8L546.4,224.9L547.7,224.7L549.0,224.7L550.3,224.3L551.6,224.3L552.9,224.8L554.2,224.7L555.5,224.9L556.8,224.9L558.2,226.3L559.5,227.2L560.8,226.7L562.1,227.2L563.4,228.1L564.7,228.4L566.0,228.9L567.3,229.2L568.6,229.6L569.9,230.3L571.2,229.6L572.5,229.4L573.8,230.4L575.1,229.8L576.4,230.7L577.7,231.0L579.0,231.0L580.3,231.0L581.6,231.3L582.9,231.3L584.2,232.2L585.5,232.1L586.9,232.1L588.2,232.3L589.5,232.5L590.8,231.8L592.1,232.9L593.4,232.6L594.7,233.0L596.0,232.8L597.3,233.1L598.6,233.0L599.9,233.8L601.2,233.5L602.5,234.2L603.8,233.2L605.1,233.9L606.4,233.7L607.7,233.7L609.0,233.3L610.3,233.7L611.6,234.6L612.9,234.5L614.2,234.5L615.6,233.8L616.9,233.5L618.2,234.2L619.5,235.0L620.8,234.4L622.1,234.4L623.4,234.4L624.7,234.7L626.0,234.8L627.3,235.1L628.6,235.3L629.9,234.7L631.2,234.7L632.5,234.0L633.8,234.0L635.1,235.2L636.4,234.3L637.7,234.0L639.0,234.7L640.3,235.1L641.6,235.4L642.9,234.9L644.3,235.3L645.6,235.1L646.9,235.5L648.2,236.6L649.5,236.8L650.8,236.8L652.1,236.6L653.4,237.2L654.7,237.0L656.0,237.1L657.3,237.1L658.6,238.4L659.9,239.1L661.2,239.5" stroke="#a8a8ff" stroke-width="1.60" fill="none" stroke-linejoin="round"/>
<path d="M400.3,289.8L401.6,287.8L402.9,285.9L404.2,282.8L405.5,280.3L406.8,277.5L408.1,273.7L409.4,270.4L410.7,266.9L412.0,261.6L413.3,255.3L414.7,249.0L416.0,240.2L417.3,232.7L418.6,225.9L419.9,219.9L421.2,216.8L422.5,215.2L423.8,213.7L425.1,213.1L426.4,213.2L427.7,213.1L429.0,214.6L430.3,217.1L431.6,221.4L432.9,224.4L434.2,225.6L435.5,224.1L436.8,223.5L438.1,225.2L439.4,226.3L440.7,228.0L442.0,228.0L443.4,229.1L444.7,229.9L446.0,230.9L447.3,231.1L448.6,231.7L449.9,233.1L451.2,233.9L452.5,234.0L453.8,234.6L455.1,235.2L456.4,235.4L457.7,236.6L459.0,236.9L460.3,237.8L461.6,238.8L462.9,239.1L464.2,239.2L465.5,238.8L466.8,239.5L468.1,240.2L469.4,239.5L470.7,239.2L472.1,239.0L473.4,240.1L474.7,239.8L476.0,240.1L477.3,241.0L478.6,241.4L479.9,240.6L481.2,241.2L482.5,241.4L483.8,241.2L485.1,242.4L486.4,242.6L487.7,243.8L489.0,243.8L490.3,243.9L491.6,244.0L492.9,244.7L494.2,244.9L495.5,244.5L496.8,245.0L498.1,245.4L499.4,244.8L500.8,245.3L502.1,244.6L503.4,244.5L504.7,243.8L506.0,243.3L507.3,242.2L508.6,241.5L509.9,239.8L511.2,240.1L512.5,238.8L513.8,238.8L515.1,237.5L516.4,236.7L517.7,236.0L519.0,236.2L520.3,236.5L521.6,236.1L522.9,236.3L524.2,234.8L525.5,234.3L526.8,234.4L528.1,234.3L529.5,233.0L530.8,232.1L532.1,231.8L533.4,232.0L534.7,231.1L536.0,231.1L537.3,229.8L538.6,230.1L539.9,229.6L541.2,229.5L542.5,229.2L543.8,228.2L545.1,228.0L546.4,227.5L547.7,227.0L549.0,227.9L550.3,227.5L551.6,227.9L552.9,227.6L554.2,228.1L555.5,228.0L556.8,228.8L558.2,228.6L559.5,228.6L560.8,229.7L562.1,229.6L563.4,229.8L564.7,230.6L566.0,231.8L567.3,232.5L568.6,232.3L569.9,232.8L571.2,232.2L572.5,233.4L573.8,233.6L575.1,233.4L576.4,234.1L577.7,234.8L579.0,234.5L580.3,234.6L581.6,234.5L582.9,234.6L584.2,234.6L585.5,234.8L586.9,234.6L588.2,235.5L589.5,236.5L590.8,236.1L592.1,236.8L593.4,235.9L594.7,236.3L596.0,237.0L597.3,236.4L598.6,236.7L599.9,236.9L601.2,236.9L602.5,237.5L603.8,237.8L605.1,237.7L606.4,237.3L607.7,238.0L609.0,238.4L610.3,238.0L611.6,237.2L612.9,237.8L614.2,237.3L615.6,237.0L616.9,237.4L618.2,238.3L619.5,238.9L620.8,238.0L622.1,239.0L623.4,239.3L624.7,239.8L626.0,238.7L627.3,238.5L628.6,238.0L629.9,237.9L631.2,237.9L632.5,238.1L633.8,238.6L635.1,238.7L636.4,238.4L637.7,238.7L639.0,238.7L640.3,238.1L641.6,238.5L642.9,238.9L644.3,238.9L645.6,239.4L646.9,240.5L648.2,240.7L649.5,241.1L650.8,241.5L652.1,241.3L653.4,242.0L654.7,242.7L656.0,243.0L657.3,243.5L658.6,242.6L659.9,241.9L661.2,242.0" stroke="#a2d46e" stroke-width="1.60" fill="none" stroke-linejoin="round"/>
<path d="M400.3,202.6L401.6,191.0L402.9,176.0L404.2,156.3L405.5,135.6L406.8,119.7L408.1,105.3L409.4,91.6L410.7,79.5L412.0,68.7L413.3,58.4L414.7,48.5L416.0,39.6L417.3,29.5L418.6,20.8L419.9,11.6L421.2,9.7L422.5,9.8L423.8,10.2L425.1,10.9L426.4,15.9L427.7,19.1L429.0,23.5L430.3,35.7L431.6,51.3L432.9,58.0L434.2,62.4L435.5,67.5L436.8,72.0L438.1,80.2L439.4,90.3L440.7,96.7L442.0,99.1L443.4,102.6L444.7,110.0L446.0,117.2L447.3,124.1L448.6,130.1L449.9,136.2L451.2,141.8L452.5,146.9L453.8,151.4L455.1,156.3L456.4,160.0L457.7,164.3L459.0,167.5L460.3,171.9L461.6,175.2L462.9,178.4L464.2,182.1L465.5,185.9L466.8,188.8L468.1,191.7L469.4,194.6L470.7,197.9L472.1,200.9L473.4,204.8L474.7,208.1L476.0,211.9L477.3,215.2L478.6,219.3L479.9,222.4L481.2,225.8L482.5,228.7L483.8,230.7L485.1,233.4L486.4,236.2L487.7,239.4L489.0,242.6L490.3,245.7L491.6,247.8L492.9,249.4L494.2,251.4L495.5,254.1L496.8,255.5L498.1,258.1L499.4,260.8L500.8,262.8L502.1,264.8L503.4,267.1L504.7,268.0L506.0,269.7L507.3,271.2L508.6,272.9L509.9,274.4L511.2,274.5L512.5,275.0L513.8,276.1L515.1,277.7L516.4,278.9L517.7,279.8L519.0,280.9L520.3,281.0L521.6,281.8L522.9,283.3L524.2,284.3L525.5,285.0L526.8,285.7L528.1,286.4L529.5,287.5L530.8,287.6L532.1,288.7L533.4,289.2L534.7,289.3L536.0,290.3L537.3,291.2L538.6,290.8L539.9,291.1L541.2,292.0L542.5,292.2L543.8,293.2L545.1,293.1L546.4,294.2L547.7,294.9L549.0,295.4L550.3,295.3L551.6,295.2L552.9,296.0L554.2,296.0L555.5,296.6L556.8,297.0L558.2,297.2L559.5,297.9L560.8,297.9L562.1,298.5L563.4,299.2L564.7,299.1L566.0,299.3L567.3,300.1L568.6,299.6L569.9,299.5L571.2,300.0L572.5,299.9L573.8,299.9L575.1,300.9L576.4,301.5L577.7,301.4L579.0,301.5L580.3,301.3L581.6,301.8L582.9,302.2L584.2,302.3L585.5,301.6L586.9,302.5L588.2,301.9L589.5,302.1L590.8,302.5L592.1,303.2L593.4,303.2L594.7,303.3L596.0,303.9L597.3,303.9L598.6,303.3L599.9,303.0L601.2,303.2L602.5,303.7L603.8,303.6L605.1,304.5L606.4,304.3L607.7,304.3L609.0,305.0L610.3,305.3L611.6,305.4L612.9,305.1L614.2,305.2L615.6,305.8L616.9,305.5L618.2,305.8L619.5,305.7L620.8,306.2L622.1,306.6L623.4,306.9L624.7,307.4L626.0,307.0L627.3,307.0L628.6,307.3L629.9,307.4L631.2,307.3L632.5,307.1L633.8,308.0L635.1,308.6L636.4,308.1L637.7,307.8L639.0,307.9L640.3,308.3L641.6,308.0L642.9,308.0L644.3,309.0L645.6,308.9L646.9,308.8L648.2,309.4L649.5,309.2L650.8,309.0L652.1,309.4L653.4,309.8L654.7,309.9L656.0,309.7L657.3,309.8L658.6,309.6L659.9,310.0L661.2,310.6" stroke="#111111" stroke-width="2.20" fill="none" stroke-linejoin="round"/>
<path d="M400.3,291.9L401.6,290.0L402.9,288.5L404.2,286.3L405.5,283.5L406.8,280.9L408.1,278.5L409.4,275.0L410.7,271.1L412.0,265.6L413.3,259.8L414.7,253.7L416.0,245.6L417.3,238.1L418.6,231.0L419.9,225.5L421.2,221.7L422.5,220.5L423.8,219.6L425.1,219.5L426.4,219.7L427.7,220.1L429.0,220.3L430.3,222.3L431.6,227.3L432.9,229.8L434.2,230.3L435.5,229.1L436.8,228.6L438.1,229.0L439.4,229.4L440.7,230.1L442.0,231.1L443.4,232.4L444.7,233.7L446.0,234.1L447.3,234.7L448.6,234.9L449.9,235.2L451.2,236.4L452.5,237.1L453.8,237.3L455.1,237.9L456.4,237.8L457.7,239.1L459.0,239.5L460.3,239.3L461.6,239.2L462.9,239.8L464.2,240.6L465.5,240.7L466.8,241.1L468.1,240.9L469.4,241.2L470.7,241.4L472.1,241.1L473.4,240.7L474.7,240.8L476.0,240.8L477.3,240.9L478.6,241.1L479.9,241.9L481.2,242.0L482.5,241.6L483.8,241.9L485.1,242.0L486.4,242.0L487.7,243.3L489.0,243.5L490.3,244.0L491.6,245.0L492.9,245.5L494.2,245.5L495.5,245.6L496.8,245.1L498.1,245.4L499.4,244.9L500.8,244.6L502.1,243.5L503.4,242.3L504.7,242.2L506.0,240.9L507.3,240.7L508.6,240.2L509.9,239.0L511.2,238.6L512.5,238.8L513.8,238.7L515.1,237.3L516.4,236.4L517.7,235.6L519.0,235.6L520.3,235.4L521.6,234.6L522.9,234.8L524.2,234.0L525.5,233.9L526.8,233.7L528.1,232.7L529.5,232.6L530.8,231.4L532.1,230.7L533.4,230.1L534.7,229.3L536.0,229.1L537.3,227.9L538.6,228.4L539.9,227.4L541.2,227.2L542.5,227.0L543.8,226.8L545.1,226.9L546.4,227.2L547.7,227.2L549.0,226.8L550.3,227.1L551.6,226.7L552.9,226.7L554.2,227.7L555.5,228.3L556.8,227.9L558.2,228.1L559.5,228.8L560.8,228.9L562.1,229.1L563.4,229.2L564.7,229.6L566.0,229.5L567.3,230.7L568.6,230.5L569.9,230.7L571.2,231.4L572.5,232.2L573.8,232.8L575.1,232.5L576.4,232.5L577.7,232.7L579.0,233.5L580.3,234.0L581.6,233.9L582.9,234.4L584.2,234.5L585.5,235.0L586.9,235.1L588.2,234.8L589.5,234.3L590.8,235.1L592.1,235.2L593.4,235.3L594.7,235.5L596.0,235.5L597.3,236.0L598.6,236.1L599.9,236.1L601.2,235.4L602.5,235.8L603.8,235.5L605.1,235.3L606.4,235.3L607.7,235.7L609.0,236.1L610.3,236.1L611.6,236.4L612.9,236.6L614.2,236.7L615.6,237.3L616.9,236.9L618.2,237.0L619.5,237.6L620.8,237.6L622.1,238.0L623.4,237.7L624.7,237.5L626.0,236.8L627.3,237.4L628.6,237.2L629.9,236.8L631.2,237.3L632.5,237.2L633.8,237.1L635.1,237.5L636.4,237.4L637.7,236.9L639.0,236.6L640.3,236.5L641.6,237.7L642.9,237.7L644.3,237.8L645.6,238.4L646.9,239.0L648.2,238.9L649.5,239.4L650.8,239.1L652.1,239.7L653.4,239.4L654.7,239.6L656.0,240.1L657.3,240.1L658.6,239.9L659.9,240.1L661.2,240.8" stroke="#0000ff" stroke-width="2.5" fill="none" stroke-linejoin="round"/>
<path d="M63.2,597.3L64.6,587.4L65.9,572.4L67.1,550.7L68.4,533.1L69.8,517.5L71.1,503.7L72.4,490.4L73.6,479.0L74.9,468.9L76.2,459.5L77.6,450.3L78.9,442.8L80.1,435.6L81.4,429.7L82.8,426.6L84.1,426.7L85.4,429.3L86.6,432.2L87.9,436.3L89.2,441.2L90.6,447.1L91.9,451.4L93.1,459.0L94.4,466.7L95.8,475.6L97.1,484.4L98.4,492.4L99.6,500.0L100.9,506.2L102.2,514.2L103.6,519.8L104.9,525.2L106.1,532.0L107.4,538.4L108.8,544.7L110.1,551.3L111.4,556.9L112.6,563.4L113.9,568.6L115.2,573.0L116.6,576.3L117.9,579.8L119.1,583.3L120.4,587.1L121.8,591.4L123.1,594.8L124.4,598.9L125.6,604.3L126.9,609.3L128.2,615.1L129.6,619.7L130.9,623.9L132.1,627.5L133.4,629.7L134.8,632.6L136.1,635.6L137.4,639.4L138.6,642.9L139.9,646.9L141.2,651.1L142.6,655.5L143.9,659.0L145.1,662.1L146.4,665.5L147.8,668.6L149.1,671.6L150.4,675.1L151.6,677.7L152.9,680.1L154.2,682.6L155.6,685.0L156.9,688.4L158.1,690.7L159.4,693.9L160.8,697.6L162.1,700.7L163.4,703.4L164.6,705.1L165.9,708.1L167.2,710.4L168.6,712.0L169.9,713.7L171.1,716.0L172.4,717.9L173.8,718.3L175.1,718.9L176.4,720.0L177.6,721.8L178.9,722.3L180.2,722.9L181.6,723.9L182.9,724.8L184.1,725.0L185.4,725.7L186.8,726.1L188.1,726.9L189.4,727.4L190.6,727.3L191.9,727.5L193.2,727.5L194.6,728.1L195.9,727.7L197.1,728.3L198.4,727.9L199.8,728.2L201.1,727.8L202.4,728.1L203.6,728.5L204.9,728.8L206.2,727.8L207.6,728.0L208.9,727.6L210.1,727.8L211.4,728.3L212.8,727.3L214.1,726.9L215.4,727.5L216.6,727.7L217.9,726.7L219.2,726.2L220.6,725.3L221.9,725.5L223.1,724.8L224.4,725.4L225.8,724.5L227.1,724.8L228.4,725.0L229.6,724.2L230.9,724.3L232.2,723.8L233.6,722.6L234.9,723.1L236.1,723.0L237.4,722.1L238.8,722.7L240.1,722.6L241.4,722.1L242.6,722.5L243.9,722.6L245.2,721.4L246.6,721.7L247.9,720.9L249.1,720.6L250.4,720.7L251.8,721.2L253.1,721.0L254.4,721.3L255.6,720.0L256.9,720.3L258.2,720.0L259.6,719.3L260.9,718.8L262.1,719.2L263.4,719.1L264.8,718.6L266.1,719.8L267.4,719.6L268.6,720.0L269.9,719.2L271.2,719.8L272.6,719.4L273.9,720.0L275.1,720.7L276.5,720.9L277.8,721.4L279.1,721.5L280.4,720.7L281.6,720.4L283.0,721.0L284.2,721.2L285.6,720.6L286.9,720.9L288.1,720.7L289.5,720.7L290.8,720.3L292.1,721.0L293.4,720.9L294.6,721.2L296.0,722.4L297.2,722.2L298.6,722.0L299.9,722.2L301.1,722.3L302.5,722.9L303.8,723.5L305.1,724.2L306.4,724.7L307.6,725.7L309.0,725.5L310.2,726.3L311.6,727.3L312.9,728.1L314.1,729.1L315.5,729.4L316.8,728.9L318.1,728.7L319.4,729.6L320.6,729.5L322.0,730.3L323.2,731.9" stroke="#a04040" stroke-width="1.30" fill="none" stroke-linejoin="round"/>
<path d="M63.2,598.6L64.6,588.7L65.9,574.3L67.1,552.6L68.4,534.6L69.8,520.6L71.1,506.6L72.4,493.7L73.6,482.2L74.9,472.1L76.2,463.3L77.6,454.1L78.9,445.7L80.1,438.0L81.4,431.6L82.8,428.9L84.1,429.0L85.4,431.3L86.6,434.8L87.9,440.1L89.2,445.7L90.6,450.6L91.9,454.5L93.1,461.0L94.4,469.8L95.8,478.9L97.1,486.3L98.4,493.7L99.6,500.6L100.9,506.8L102.2,514.6L103.6,522.0L104.9,528.5L106.1,534.3L107.4,541.6L108.8,547.8L110.1,553.4L111.4,559.2L112.6,565.8L113.9,571.6L115.2,575.3L116.6,578.8L117.9,581.6L119.1,585.3L120.4,588.8L121.8,593.1L123.1,597.3L124.4,600.6L125.6,604.6L126.9,609.6L128.2,616.0L129.6,621.7L130.9,625.0L132.1,627.4L133.4,630.3L134.8,633.1L136.1,637.5L137.4,640.9L138.6,645.1L139.9,648.5L141.2,652.7L142.6,656.3L143.9,659.2L145.1,662.5L146.4,665.1L147.8,668.4L149.1,671.7L150.4,674.5L151.6,677.1L152.9,679.8L154.2,682.6L155.6,685.9L156.9,688.4L158.1,691.1L159.4,693.4L160.8,696.9L162.1,700.4L163.4,703.0L164.6,705.3L165.9,707.7L167.2,710.0L168.6,711.8L169.9,713.9L171.1,715.2L172.4,717.2L173.8,719.1L175.1,719.2L176.4,720.1L177.6,721.5L178.9,722.0L180.2,722.8L181.6,724.3L182.9,725.1L184.1,725.4L185.4,725.6L186.8,726.1L188.1,726.5L189.4,727.0L190.6,727.6L191.9,727.3L193.2,728.0L194.6,727.9L195.9,728.4L197.1,727.6L198.4,727.6L199.8,728.2L201.1,727.8L202.4,727.2L203.6,726.6L204.9,726.2L206.2,727.1L207.6,726.4L208.9,725.9L210.1,726.6L211.4,727.4L212.8,727.8L214.1,726.7L215.4,726.9L216.6,726.7L217.9,726.3L219.2,726.6L220.6,726.3L221.9,726.4L223.1,725.7L224.4,725.2L225.8,725.3L227.1,724.9L228.4,723.9L229.6,723.8L230.9,723.3L232.2,724.0L233.6,723.6L234.9,723.2L236.1,722.7L237.4,722.1L238.8,721.4L240.1,721.3L241.4,721.5L242.6,721.4L243.9,720.9L245.2,721.5L246.6,720.8L247.9,720.0L249.1,720.5L250.4,720.9L251.8,720.5L253.1,720.9L254.4,721.0L255.6,720.1L256.9,720.1L258.2,719.7L259.6,720.3L260.9,720.6L262.1,720.0L263.4,719.6L264.8,718.8L266.1,720.0L267.4,719.1L268.6,718.7L269.9,719.9L271.2,719.5L272.6,720.4L273.9,719.8L275.1,720.0L276.5,719.7L277.8,720.6L279.1,720.9L280.4,720.9L281.6,720.8L283.0,720.3L284.2,720.1L285.6,720.2L286.9,720.6L288.1,720.7L289.5,720.8L290.8,721.1L292.1,721.6L293.4,722.0L294.6,722.2L296.0,721.8L297.2,722.8L298.6,722.1L299.9,722.7L301.1,723.2L302.5,723.3L303.8,724.3L305.1,724.4L306.4,724.6L307.6,725.8L309.0,726.1L310.2,727.0L311.6,727.1L312.9,726.7L314.1,726.9L315.5,727.3L316.8,728.2L318.1,728.4L319.4,729.8L320.6,731.1L322.0,732.1L323.2,732.2" stroke="#ff9a9a" stroke-width="1.30" fill="none" stroke-linejoin="round"/>
<path d="M63.2,601.8L64.6,591.0L65.9,577.0L67.1,556.3L68.4,538.6L69.8,524.7L71.1,510.6L72.4,498.0L73.6,485.5L74.9,475.4L76.2,467.3L77.6,459.6L78.9,451.7L80.1,443.6L81.4,436.7L82.8,433.4L84.1,434.9L85.4,436.8L86.6,440.8L87.9,444.8L89.2,450.6L90.6,456.8L91.9,461.4L93.1,467.2L94.4,475.3L95.8,483.9L97.1,492.2L98.4,500.0L99.6,506.7L100.9,512.6L102.2,519.4L103.6,524.8L104.9,530.5L106.1,536.9L107.4,544.3L108.8,550.3L110.1,556.4L111.4,562.8L112.6,567.8L113.9,573.7L115.2,577.4L116.6,580.4L117.9,583.5L119.1,586.7L120.4,591.3L121.8,595.5L123.1,599.0L124.4,602.7L125.6,607.3L126.9,612.3L128.2,618.3L129.6,622.9L130.9,626.4L132.1,630.2L133.4,631.9L134.8,634.6L136.1,638.9L137.4,641.8L138.6,644.9L139.9,649.2L141.2,653.1L142.6,655.9L143.9,659.2L145.1,662.2L146.4,665.6L147.8,669.6L149.1,672.5L150.4,674.9L151.6,678.9L152.9,681.9L154.2,684.9L155.6,687.6L156.9,689.2L158.1,692.3L159.4,694.3L160.8,697.4L162.1,699.8L163.4,703.2L164.6,705.3L165.9,707.6L167.2,710.3L168.6,711.7L169.9,712.6L171.1,714.9L172.4,715.8L173.8,717.1L175.1,719.0L176.4,719.6L177.6,721.4L178.9,722.7L180.2,723.1L181.6,723.7L182.9,724.2L184.1,724.6L185.4,725.0L186.8,724.8L188.1,725.1L189.4,725.0L190.6,726.1L191.9,726.9L193.2,727.0L194.6,727.5L195.9,726.6L197.1,727.1L198.4,726.6L199.8,727.1L201.1,726.8L202.4,727.0L203.6,727.1L204.9,727.3L206.2,726.4L207.6,727.2L208.9,727.3L210.1,727.3L211.4,726.7L212.8,726.6L214.1,725.9L215.4,726.3L216.6,726.6L217.9,726.5L219.2,726.0L220.6,726.6L221.9,725.3L223.1,724.6L224.4,725.5L225.8,725.7L227.1,724.6L228.4,723.9L229.6,724.1L230.9,724.0L232.2,723.6L233.6,723.4L234.9,722.5L236.1,722.6L237.4,722.2L238.8,721.8L240.1,721.8L241.4,722.0L242.6,722.4L243.9,721.7L245.2,721.2L246.6,721.2L247.9,720.9L249.1,720.7L250.4,720.8L251.8,721.0L253.1,720.8L254.4,719.9L255.6,719.5L256.9,719.0L258.2,718.7L259.6,718.9L260.9,718.6L262.1,719.5L263.4,720.1L264.8,719.3L266.1,719.3L267.4,719.3L268.6,719.1L269.9,720.0L271.2,719.4L272.6,719.4L273.9,719.7L275.1,720.1L276.5,720.3L277.8,720.0L279.1,720.4L280.4,720.4L281.6,720.9L283.0,720.6L284.2,721.0L285.6,720.4L286.9,720.4L288.1,721.3L289.5,721.4L290.8,722.0L292.1,721.8L293.4,721.4L294.6,721.9L296.0,722.2L297.2,721.8L298.6,722.7L299.9,722.1L301.1,722.3L302.5,722.5L303.8,723.3L305.1,723.5L306.4,724.5L307.6,725.0L309.0,725.3L310.2,726.0L311.6,726.2L312.9,727.0L314.1,728.2L315.5,728.4L316.8,728.0L318.1,728.6L319.4,729.0L320.6,730.2L322.0,730.6L323.2,730.9" stroke="#a6c2ea" stroke-width="1.30" fill="none" stroke-linejoin="round"/>
<path d="M63.2,604.3L64.6,592.8L65.9,578.4L67.1,557.4L68.4,541.8L69.8,528.1L71.1,514.6L72.4,502.6L73.6,490.6L74.9,480.5L76.2,471.6L77.6,462.7L78.9,455.6L80.1,448.8L81.4,442.4L82.8,438.8L84.1,439.8L85.4,441.8L86.6,445.5L87.9,450.0L89.2,455.5L90.6,461.3L91.9,465.3L93.1,471.4L94.4,478.5L95.8,485.9L97.1,495.0L98.4,503.4L99.6,509.9L100.9,515.8L102.2,521.9L103.6,528.1L104.9,533.4L106.1,539.5L107.4,545.6L108.8,553.1L110.1,558.6L111.4,564.2L112.6,570.8L113.9,575.4L115.2,580.4L116.6,582.9L117.9,586.0L119.1,589.5L120.4,594.0L121.8,597.0L123.1,600.9L124.4,604.2L125.6,609.4L126.9,614.5L128.2,620.0L129.6,625.0L130.9,629.3L132.1,632.3L133.4,634.9L134.8,637.0L136.1,639.3L137.4,643.6L138.6,646.8L139.9,650.3L141.2,653.6L142.6,656.8L143.9,660.0L145.1,662.9L146.4,666.5L147.8,670.2L149.1,673.2L150.4,676.1L151.6,679.7L152.9,681.4L154.2,684.1L155.6,686.7L156.9,688.6L158.1,691.2L159.4,694.5L160.8,697.3L162.1,700.7L163.4,703.6L164.6,705.9L165.9,707.7L167.2,709.7L168.6,711.0L169.9,713.2L171.1,714.2L172.4,716.1L173.8,718.3L175.1,719.7L176.4,719.8L177.6,720.3L178.9,721.9L180.2,722.1L181.6,722.3L182.9,723.5L184.1,725.0L185.4,725.5L186.8,725.7L188.1,726.1L189.4,725.7L190.6,726.7L191.9,725.9L193.2,725.9L194.6,726.7L195.9,727.6L197.1,728.1L198.4,727.7L199.8,727.7L201.1,727.4L202.4,727.3L203.6,727.8L204.9,727.4L206.2,727.4L207.6,727.2L208.9,726.4L210.1,726.9L211.4,727.4L212.8,726.5L214.1,725.6L215.4,725.3L216.6,724.9L217.9,724.6L219.2,724.6L220.6,725.6L221.9,726.1L223.1,726.0L224.4,725.4L225.8,724.2L227.1,723.9L228.4,724.4L229.6,724.3L230.9,723.7L232.2,723.8L233.6,722.6L234.9,722.2L236.1,722.0L237.4,721.6L238.8,721.5L240.1,721.5L241.4,721.2L242.6,721.1L243.9,721.0L245.2,720.9L246.6,720.6L247.9,720.9L249.1,720.7L250.4,720.8L251.8,720.3L253.1,719.8L254.4,719.3L255.6,719.5L256.9,719.7L258.2,719.1L259.6,718.9L260.9,719.6L262.1,720.3L263.4,720.1L264.8,720.0L266.1,719.9L267.4,719.9L268.6,720.0L269.9,719.5L271.2,720.0L272.6,720.7L273.9,720.4L275.1,719.8L276.5,720.0L277.8,720.4L279.1,719.8L280.4,720.6L281.6,720.2L283.0,719.7L284.2,719.9L285.6,720.1L286.9,721.2L288.1,721.2L289.5,720.6L290.8,720.7L292.1,721.5L293.4,722.1L294.6,721.3L296.0,721.3L297.2,722.6L298.6,723.0L299.9,722.3L301.1,723.4L302.5,722.9L303.8,723.9L305.1,724.7L306.4,725.3L307.6,725.6L309.0,726.4L310.2,725.7L311.6,725.7L312.9,726.7L314.1,727.3L315.5,728.3L316.8,727.9L318.1,728.0L319.4,729.4L320.6,729.2L322.0,729.5L323.2,730.7" stroke="#c9a8f2" stroke-width="1.30" fill="none" stroke-linejoin="round"/>
<path d="M63.2,608.4L64.6,597.9L65.9,583.6L67.1,562.9L68.4,547.1L69.8,533.2L71.1,519.5L72.4,507.1L73.6,495.2L74.9,485.9L76.2,478.1L77.6,470.3L78.9,463.0L80.1,455.8L81.4,449.7L82.8,446.5L84.1,446.8L85.4,448.0L86.6,451.3L87.9,455.6L89.2,461.2L90.6,467.1L91.9,471.6L93.1,477.3L94.4,484.4L95.8,492.7L97.1,500.9L98.4,508.3L99.6,514.7L100.9,520.1L102.2,526.2L103.6,532.3L104.9,539.0L106.1,545.6L107.4,551.4L108.8,557.0L110.1,563.0L111.4,569.3L112.6,575.2L113.9,580.2L115.2,583.6L116.6,586.7L117.9,590.0L119.1,593.1L120.4,596.0L121.8,600.2L123.1,604.6L124.4,608.6L125.6,612.9L126.9,618.2L128.2,623.1L129.6,628.0L130.9,631.4L132.1,634.4L133.4,637.0L134.8,638.7L136.1,641.4L137.4,645.1L138.6,648.7L139.9,652.2L141.2,655.8L142.6,658.4L143.9,661.9L145.1,665.1L146.4,668.6L147.8,672.5L149.1,675.4L150.4,678.4L151.6,680.1L152.9,681.9L154.2,684.9L155.6,687.6L156.9,690.7L158.1,693.3L159.4,695.3L160.8,698.5L162.1,700.8L163.4,703.6L164.6,706.5L165.9,708.2L167.2,709.7L168.6,711.5L169.9,713.4L171.1,714.9L172.4,716.7L173.8,717.6L175.1,718.3L176.4,720.4L177.6,721.9L178.9,721.6L180.2,722.0L181.6,723.3L182.9,723.7L184.1,724.4L185.4,724.6L186.8,725.4L188.1,725.0L189.4,724.9L190.6,724.9L191.9,726.0L193.2,725.7L194.6,726.8L195.9,726.6L197.1,726.8L198.4,726.6L199.8,725.9L201.1,725.7L202.4,725.6L203.6,725.4L204.9,725.8L206.2,725.7L207.6,725.2L208.9,725.7L210.1,726.0L211.4,726.5L212.8,726.0L214.1,725.2L215.4,725.9L216.6,725.9L217.9,725.9L219.2,725.4L220.6,725.6L221.9,726.2L223.1,725.1L224.4,724.8L225.8,724.6L227.1,723.9L228.4,723.7L229.6,723.8L230.9,723.8L232.2,724.1L233.6,723.1L234.9,723.3L236.1,723.5L237.4,722.7L238.8,721.8L240.1,722.1L241.4,721.0L242.6,720.7L243.9,721.0L245.2,720.3L246.6,720.1L247.9,720.9L249.1,720.8L250.4,721.0L251.8,721.1L253.1,721.4L254.4,720.5L255.6,720.0L256.9,719.9L258.2,720.2L259.6,720.5L260.9,720.3L262.1,720.1L263.4,719.4L264.8,720.2L266.1,720.8L267.4,720.8L268.6,720.6L269.9,720.1L271.2,720.8L272.6,720.3L273.9,720.7L275.1,719.8L276.5,719.4L277.8,719.3L279.1,719.5L280.4,719.4L281.6,719.4L283.0,719.6L284.2,719.6L285.6,719.7L286.9,720.7L288.1,721.0L289.5,721.2L290.8,721.6L292.1,721.3L293.4,721.0L294.6,722.2L296.0,723.0L297.2,723.4L298.6,723.6L299.9,723.0L301.1,723.7L302.5,724.2L303.8,724.8L305.1,724.8L306.4,725.6L307.6,725.7L309.0,726.6L310.2,726.8L311.6,727.4L312.9,726.6L314.1,727.3L315.5,728.4L316.8,729.3L318.1,728.6L319.4,728.7L320.6,729.8L322.0,729.8L323.2,730.8" stroke="#8db0f4" stroke-width="1.30" fill="none" stroke-linejoin="round"/>
<path d="M63.2,611.5L64.6,600.5L65.9,586.7L67.1,566.9L68.4,551.8L69.8,538.2L71.1,525.1L72.4,512.3L73.6,501.4L74.9,492.2L76.2,484.4L77.6,476.7L78.9,468.8L80.1,460.9L81.4,455.7L82.8,452.0L84.1,451.9L85.4,454.4L86.6,457.8L87.9,462.8L89.2,467.6L90.6,472.9L91.9,477.2L93.1,484.5L94.4,490.6L95.8,497.8L97.1,505.8L98.4,513.6L99.6,520.9L100.9,526.1L102.2,532.9L103.6,538.7L104.9,543.4L106.1,549.9L107.4,555.7L108.8,560.5L110.1,566.1L111.4,572.3L112.6,578.5L113.9,582.7L115.2,586.1L116.6,589.3L117.9,592.1L119.1,595.7L120.4,598.9L121.8,602.7L123.1,607.1L124.4,610.2L125.6,615.1L126.9,619.7L128.2,625.3L129.6,630.3L130.9,633.0L132.1,634.8L133.4,637.5L134.8,640.4L136.1,642.8L137.4,646.8L138.6,650.2L139.9,652.8L141.2,656.1L142.6,658.6L143.9,662.6L145.1,666.5L146.4,668.8L147.8,671.5L149.1,675.5L150.4,677.6L151.6,680.7L152.9,682.9L154.2,685.3L155.6,687.8L156.9,690.9L158.1,693.4L159.4,696.6L160.8,698.3L162.1,700.5L163.4,702.8L164.6,705.5L165.9,706.9L167.2,709.3L168.6,711.7L169.9,713.7L171.1,715.5L172.4,715.8L173.8,717.3L175.1,718.5L176.4,720.3L177.6,720.5L178.9,720.9L180.2,722.2L181.6,723.0L182.9,724.3L184.1,724.4L185.4,725.0L186.8,725.1L188.1,724.6L189.4,725.1L190.6,725.7L191.9,726.0L193.2,725.9L194.6,725.2L195.9,726.1L197.1,726.1L198.4,726.8L199.8,726.3L201.1,725.8L202.4,725.8L203.6,725.3L204.9,725.6L206.2,725.8L207.6,726.1L208.9,726.6L210.1,726.7L211.4,727.2L212.8,726.8L214.1,726.2L215.4,726.4L216.6,726.5L217.9,726.2L219.2,726.0L220.6,724.9L221.9,725.6L223.1,725.6L224.4,725.1L225.8,725.2L227.1,724.9L228.4,724.0L229.6,724.4L230.9,724.6L232.2,723.1L233.6,722.3L234.9,721.6L236.1,722.3L237.4,721.8L238.8,722.2L240.1,722.2L241.4,721.5L242.6,721.8L243.9,721.2L245.2,720.3L246.6,719.8L247.9,720.3L249.1,720.9L250.4,720.0L251.8,720.6L253.1,721.0L254.4,720.0L255.6,720.4L256.9,720.9L258.2,720.9L259.6,721.0L260.9,720.0L262.1,719.9L263.4,719.1L264.8,718.9L266.1,718.8L267.4,719.8L268.6,720.5L269.9,720.5L271.2,720.5L272.6,721.1L273.9,721.4L275.1,721.2L276.5,721.5L277.8,720.6L279.1,721.1L280.4,721.7L281.6,721.1L283.0,721.7L284.2,721.3L285.6,722.0L286.9,722.2L288.1,722.1L289.5,722.3L290.8,721.8L292.1,721.8L293.4,722.5L294.6,722.5L296.0,723.2L297.2,722.4L298.6,723.3L299.9,723.7L301.1,723.8L302.5,723.2L303.8,723.5L305.1,723.7L306.4,724.8L307.6,725.0L309.0,724.9L310.2,725.8L311.6,726.2L312.9,726.5L314.1,726.5L315.5,727.6L316.8,727.2L318.1,727.9L319.4,728.3L320.6,729.1L322.0,729.4L323.2,729.4" stroke="#b4f0e2" stroke-width="1.30" fill="none" stroke-linejoin="round"/>
<path d="M63.2,616.2L64.6,603.9L65.9,590.5L67.1,572.0L68.4,556.0L69.8,542.0L71.1,530.0L72.4,518.1L73.6,507.6L74.9,497.8L76.2,490.0L77.6,481.9L78.9,474.8L80.1,468.7L81.4,462.3L82.8,459.9L84.1,460.4L85.4,461.6L86.6,464.9L87.9,468.8L89.2,473.7L90.6,479.7L91.9,484.9L93.1,491.0L94.4,498.4L95.8,505.5L97.1,512.0L98.4,519.4L99.6,526.2L100.9,531.2L102.2,536.7L103.6,542.3L104.9,547.5L106.1,553.1L107.4,558.5L108.8,564.3L110.1,570.6L111.4,576.7L112.6,581.8L113.9,586.8L115.2,590.0L116.6,593.4L117.9,595.9L119.1,599.2L120.4,602.4L121.8,606.8L123.1,610.7L124.4,613.4L125.6,618.0L126.9,622.8L128.2,627.0L129.6,632.2L130.9,635.5L132.1,638.2L133.4,640.4L134.8,642.1L136.1,644.5L137.4,648.4L138.6,651.6L139.9,654.2L141.2,657.2L142.6,661.1L143.9,664.3L145.1,666.7L146.4,670.1L147.8,673.6L149.1,676.5L150.4,678.5L151.6,681.7L152.9,683.9L154.2,685.7L155.6,687.6L156.9,689.8L158.1,692.8L159.4,695.7L160.8,698.8L162.1,701.8L163.4,703.4L164.6,706.3L165.9,707.5L167.2,709.2L168.6,711.7L169.9,713.0L171.1,714.8L172.4,716.3L173.8,717.9L175.1,718.9L176.4,719.8L177.6,720.2L178.9,720.3L180.2,720.8L181.6,721.0L182.9,721.8L184.1,722.2L185.4,723.2L186.8,723.2L188.1,723.6L189.4,723.8L190.6,724.8L191.9,724.6L193.2,725.2L194.6,725.8L195.9,725.7L197.1,725.8L198.4,725.9L199.8,725.2L201.1,726.1L202.4,726.0L203.6,726.2L204.9,725.8L206.2,725.7L207.6,726.1L208.9,725.6L210.1,724.9L211.4,725.3L212.8,725.1L214.1,725.4L215.4,725.5L216.6,725.3L217.9,724.6L219.2,724.4L220.6,724.7L221.9,724.6L223.1,724.2L224.4,724.4L225.8,724.5L227.1,724.5L228.4,723.4L229.6,724.0L230.9,722.9L232.2,722.6L233.6,723.2L234.9,722.9L236.1,722.8L237.4,723.0L238.8,722.8L240.1,722.1L241.4,722.5L242.6,722.7L243.9,722.7L245.2,722.1L246.6,721.0L247.9,721.5L249.1,720.7L250.4,720.3L251.8,720.4L253.1,720.9L254.4,720.4L255.6,721.0L256.9,720.6L258.2,720.5L259.6,719.7L260.9,720.0L262.1,720.0L263.4,720.7L264.8,719.7L266.1,719.2L267.4,720.0L268.6,719.6L269.9,719.9L271.2,719.3L272.6,719.2L273.9,719.1L275.1,719.0L276.5,720.3L277.8,720.4L279.1,720.8L280.4,720.2L281.6,720.0L283.0,721.0L284.2,720.3L285.6,721.3L286.9,721.5L288.1,721.1L289.5,721.1L290.8,720.9L292.1,721.3L293.4,721.9L294.6,721.7L296.0,722.2L297.2,722.2L298.6,722.6L299.9,723.1L301.1,723.8L302.5,724.4L303.8,723.5L305.1,723.7L306.4,724.4L307.6,725.3L309.0,725.0L310.2,725.9L311.6,726.3L312.9,726.4L314.1,726.0L315.5,726.9L316.8,727.9L318.1,728.1L319.4,727.8L320.6,728.7L322.0,728.7L323.2,728.8" stroke="#8fd8c0" stroke-width="1.30" fill="none" stroke-linejoin="round"/>
<path d="M63.2,619.6L64.6,607.8L65.9,594.0L67.1,576.6L68.4,561.5L69.8,547.9L71.1,535.7L72.4,524.4L73.6,513.5L74.9,504.5L76.2,496.8L77.6,489.2L78.9,481.9L80.1,474.9L81.4,470.4L82.8,467.3L84.1,467.2L85.4,469.6L86.6,473.0L87.9,477.4L89.2,482.7L90.6,487.2L91.9,492.0L93.1,497.9L94.4,503.9L95.8,510.0L97.1,517.8L98.4,525.8L99.6,532.6L100.9,537.2L102.2,542.9L103.6,547.3L104.9,553.0L106.1,559.1L107.4,564.7L108.8,570.7L110.1,575.7L111.4,581.7L112.6,585.9L113.9,590.9L115.2,593.9L116.6,597.4L117.9,599.6L119.1,603.0L120.4,605.8L121.8,608.8L123.1,611.9L124.4,615.4L125.6,619.8L126.9,625.3L128.2,629.8L129.6,634.9L130.9,637.1L132.1,638.6L133.4,641.3L134.8,643.6L136.1,646.3L137.4,650.1L138.6,653.7L139.9,656.1L141.2,659.4L142.6,662.2L143.9,665.7L145.1,667.8L146.4,671.8L147.8,674.6L149.1,677.1L150.4,679.9L151.6,682.8L152.9,684.2L154.2,686.0L155.6,688.9L156.9,691.4L158.1,693.8L159.4,697.0L160.8,699.1L162.1,702.3L163.4,704.2L164.6,706.7L165.9,709.0L167.2,709.6L168.6,710.6L169.9,712.6L171.1,714.2L172.4,716.2L173.8,716.7L175.1,718.2L176.4,718.9L177.6,720.1L178.9,720.1L180.2,721.8L181.6,722.8L182.9,722.3L184.1,723.4L185.4,724.0L186.8,724.0L188.1,724.7L189.4,724.5L190.6,724.3L191.9,725.2L193.2,725.6L194.6,725.8L195.9,725.5L197.1,725.8L198.4,726.3L199.8,726.0L201.1,725.7L202.4,724.8L203.6,724.4L204.9,725.2L206.2,724.8L207.6,725.8L208.9,725.9L210.1,726.2L211.4,726.1L212.8,726.0L214.1,726.4L215.4,725.1L216.6,724.7L217.9,725.3L219.2,725.3L220.6,724.6L221.9,725.0L223.1,725.0L224.4,724.8L225.8,723.9L227.1,723.7L228.4,724.0L229.6,723.1L230.9,722.3L232.2,722.6L233.6,722.9L234.9,722.1L236.1,721.7L237.4,721.5L238.8,721.6L240.1,721.0L241.4,720.4L242.6,720.7L243.9,720.3L245.2,720.9L246.6,720.7L247.9,719.9L249.1,720.2L250.4,719.7L251.8,720.6L253.1,721.0L254.4,721.4L255.6,721.4L256.9,720.4L258.2,719.6L259.6,719.8L260.9,719.6L262.1,719.1L263.4,719.1L264.8,719.2L266.1,720.2L267.4,720.6L268.6,721.1L269.9,720.2L271.2,719.5L272.6,719.2L273.9,719.3L275.1,720.4L276.5,720.5L277.8,721.0L279.1,721.1L280.4,721.6L281.6,720.7L283.0,720.2L284.2,720.5L285.6,721.4L286.9,721.1L288.1,720.5L289.5,720.8L290.8,720.7L292.1,720.6L293.4,721.5L294.6,722.0L296.0,721.9L297.2,722.7L298.6,723.1L299.9,723.5L301.1,723.8L302.5,724.2L303.8,724.9L305.1,725.4L306.4,724.9L307.6,725.0L309.0,724.8L310.2,725.7L311.6,726.1L312.9,726.0L314.1,726.2L315.5,726.6L316.8,726.7L318.1,726.9L319.4,727.4L320.6,727.7L322.0,728.1L323.2,728.5" stroke="#82cfa0" stroke-width="1.30" fill="none" stroke-linejoin="round"/>
<path d="M63.2,622.7L64.6,611.9L65.9,597.9L67.1,580.7L68.4,565.9L69.8,552.7L71.1,540.7L72.4,528.9L73.6,518.4L74.9,509.0L76.2,502.4L77.6,495.9L78.9,489.8L80.1,482.2L81.4,476.3L82.8,474.1L84.1,473.8L85.4,476.2L86.6,479.2L87.9,483.9L89.2,488.3L90.6,493.2L91.9,499.3L93.1,505.1L94.4,511.1L95.8,517.6L97.1,523.3L98.4,530.0L99.6,537.0L100.9,541.2L102.2,546.5L103.6,552.4L104.9,558.0L106.1,563.5L107.4,568.0L108.8,574.3L110.1,579.4L111.4,585.1L112.6,589.6L113.9,594.5L115.2,598.7L116.6,601.1L117.9,603.4L119.1,606.4L120.4,608.8L121.8,612.0L123.1,615.2L124.4,619.0L125.6,623.3L126.9,627.1L128.2,632.7L129.6,636.9L130.9,639.9L132.1,641.6L133.4,643.7L134.8,646.7L136.1,648.9L137.4,652.3L138.6,655.1L139.9,658.4L141.2,661.1L142.6,664.2L143.9,667.3L145.1,669.1L146.4,672.5L147.8,675.3L149.1,677.4L150.4,679.5L151.6,681.9L152.9,685.1L154.2,688.1L155.6,689.3L156.9,690.9L158.1,693.0L159.4,696.0L160.8,698.6L162.1,701.1L163.4,704.4L164.6,705.7L165.9,707.3L167.2,708.9L168.6,710.9L169.9,712.0L171.1,714.4L172.4,715.1L173.8,716.0L175.1,716.8L176.4,717.7L177.6,718.5L178.9,719.2L180.2,719.7L181.6,721.4L182.9,722.2L184.1,722.3L185.4,722.7L186.8,722.8L188.1,724.0L189.4,724.5L190.6,724.2L191.9,724.2L193.2,724.7L194.6,724.9L195.9,725.2L197.1,724.5L198.4,725.5L199.8,724.6L201.1,724.6L202.4,725.4L203.6,725.8L204.9,725.7L206.2,725.5L207.6,726.0L208.9,725.5L210.1,724.6L211.4,725.0L212.8,724.5L214.1,725.0L215.4,724.9L216.6,724.9L217.9,724.5L219.2,724.5L220.6,724.2L221.9,724.2L223.1,724.7L224.4,724.3L225.8,724.5L227.1,723.6L228.4,723.4L229.6,722.9L230.9,722.2L232.2,722.4L233.6,721.8L234.9,721.1L236.1,721.0L237.4,720.5L238.8,720.7L240.1,721.7L241.4,721.3L242.6,720.8L243.9,721.2L245.2,721.5L246.6,721.6L247.9,721.1L249.1,720.2L250.4,720.3L251.8,719.7L253.1,719.3L254.4,719.2L255.6,719.5L256.9,719.6L258.2,720.2L259.6,720.6L260.9,720.8L262.1,720.3L263.4,720.6L264.8,721.2L266.1,721.6L267.4,721.0L268.6,720.3L269.9,720.9L271.2,720.8L272.6,720.4L273.9,720.5L275.1,721.0L276.5,720.5L277.8,721.1L279.1,721.6L280.4,720.7L281.6,721.1L283.0,721.9L284.2,722.3L285.6,721.8L286.9,721.6L288.1,721.4L289.5,721.2L290.8,722.1L292.1,721.8L293.4,721.9L294.6,721.6L296.0,722.1L297.2,723.1L298.6,722.3L299.9,721.8L301.1,722.8L302.5,723.5L303.8,723.3L305.1,724.4L306.4,725.3L307.6,725.3L309.0,724.5L310.2,725.1L311.6,725.2L312.9,725.2L314.1,725.9L315.5,726.0L316.8,726.5L318.1,727.5L319.4,727.1L320.6,727.8L322.0,728.1L323.2,728.2" stroke="#6cdcdc" stroke-width="1.30" fill="none" stroke-linejoin="round"/>
<path d="M63.2,627.1L64.6,614.3L65.9,600.3L67.1,583.9L68.4,569.9L69.8,557.2L71.1,545.3L72.4,534.6L73.6,523.5L74.9,515.4L76.2,507.9L77.6,500.9L78.9,494.3L80.1,487.8L81.4,482.7L82.8,480.5L84.1,480.1L85.4,482.8L86.6,484.9L87.9,488.8L89.2,493.4L90.6,500.2L91.9,505.5L93.1,510.5L94.4,516.3L95.8,522.4L97.1,528.6L98.4,534.8L99.6,542.2L100.9,547.0L102.2,551.4L103.6,556.4L104.9,561.7L106.1,566.9L107.4,572.6L108.8,577.8L110.1,583.0L111.4,588.8L112.6,593.9L113.9,598.0L115.2,600.8L116.6,603.1L117.9,606.0L119.1,608.5L120.4,612.2L121.8,615.0L123.1,618.0L124.4,620.9L125.6,624.9L126.9,629.4L128.2,633.6L129.6,638.6L130.9,640.9L132.1,643.4L133.4,644.7L134.8,646.9L136.1,650.7L137.4,653.4L138.6,655.8L139.9,658.5L141.2,662.3L142.6,665.4L143.9,667.3L145.1,669.9L146.4,673.2L147.8,676.8L149.1,678.5L150.4,681.6L151.6,684.0L152.9,685.7L154.2,688.1L155.6,690.1L156.9,691.8L158.1,693.9L159.4,696.5L160.8,699.4L162.1,701.7L163.4,703.4L164.6,706.4L165.9,708.8L167.2,710.7L168.6,711.9L169.9,713.2L171.1,714.7L172.4,716.0L173.8,716.9L175.1,717.5L176.4,718.5L177.6,719.8L178.9,721.1L180.2,721.7L181.6,721.4L182.9,722.7L184.1,722.1L185.4,723.1L186.8,724.1L188.1,724.8L189.4,723.9L190.6,724.7L191.9,725.1L193.2,724.2L194.6,724.7L195.9,724.3L197.1,723.8L198.4,724.3L199.8,724.5L201.1,724.7L202.4,724.9L203.6,724.2L204.9,724.2L206.2,724.1L207.6,724.6L208.9,725.0L210.1,725.3L211.4,725.0L212.8,725.4L214.1,725.9L215.4,725.0L216.6,724.4L217.9,724.6L219.2,724.8L220.6,724.2L221.9,724.6L223.1,724.2L224.4,723.5L225.8,723.6L227.1,722.8L228.4,723.3L229.6,722.4L230.9,721.9L232.2,722.7L233.6,722.7L234.9,723.1L236.1,723.0L237.4,722.5L238.8,721.5L240.1,720.9L241.4,721.7L242.6,721.0L243.9,720.8L245.2,720.1L246.6,720.4L247.9,720.3L249.1,720.2L250.4,719.5L251.8,720.3L253.1,719.8L254.4,720.7L255.6,719.8L256.9,720.5L258.2,719.6L259.6,719.9L260.9,720.8L262.1,720.8L263.4,720.9L264.8,720.2L266.1,720.9L267.4,719.8L268.6,720.7L269.9,720.9L271.2,721.0L272.6,720.2L273.9,720.8L275.1,720.4L276.5,720.2L277.8,719.8L279.1,720.9L280.4,721.4L281.6,721.4L283.0,721.7L284.2,721.6L285.6,721.9L286.9,721.2L288.1,720.9L289.5,721.5L290.8,721.5L292.1,722.0L293.4,721.7L294.6,721.6L296.0,721.3L297.2,721.5L298.6,722.5L299.9,722.2L301.1,723.2L302.5,723.0L303.8,723.6L305.1,723.8L306.4,723.7L307.6,724.7L309.0,725.1L310.2,725.3L311.6,725.4L312.9,724.9L314.1,725.6L315.5,726.3L316.8,727.0L318.1,727.7L319.4,727.6L320.6,728.6L322.0,728.2L323.2,729.0" stroke="#a4a4a4" stroke-width="1.30" fill="none" stroke-linejoin="round"/>
<path d="M63.2,629.6L64.6,617.3L65.9,603.9L67.1,588.1L68.4,574.4L69.8,562.5L71.1,550.4L72.4,538.6L73.6,528.4L74.9,519.4L76.2,512.6L77.6,506.6L78.9,501.2L80.1,494.7L81.4,489.2L82.8,486.9L84.1,485.9L85.4,487.5L86.6,490.4L87.9,494.7L89.2,498.9L90.6,504.2L91.9,510.2L93.1,515.4L94.4,520.6L95.8,526.9L97.1,532.9L98.4,540.4L99.6,546.5L100.9,550.9L102.2,556.0L103.6,560.6L104.9,565.2L106.1,570.6L107.4,574.9L108.8,580.3L110.1,585.4L111.4,591.1L112.6,596.1L113.9,601.1L115.2,604.7L116.6,607.8L117.9,610.5L119.1,613.0L120.4,615.1L121.8,618.2L123.1,621.0L124.4,624.2L125.6,626.8L126.9,630.8L128.2,635.6L129.6,639.5L130.9,643.1L132.1,644.5L133.4,646.8L134.8,649.6L136.1,651.9L137.4,655.1L138.6,657.2L139.9,659.9L141.2,662.2L142.6,665.7L143.9,668.9L145.1,672.1L146.4,674.1L147.8,677.1L149.1,679.3L150.4,682.2L151.6,684.1L152.9,686.1L154.2,688.5L155.6,691.1L156.9,692.4L158.1,694.9L159.4,697.1L160.8,699.4L162.1,702.6L163.4,704.4L164.6,706.0L165.9,707.7L167.2,709.8L168.6,710.6L169.9,712.9L171.1,714.8L172.4,716.3L173.8,717.2L175.1,717.7L176.4,717.9L177.6,719.7L178.9,719.7L180.2,720.3L181.6,721.5L182.9,722.2L184.1,722.3L185.4,722.9L186.8,722.9L188.1,724.0L189.4,723.7L190.6,724.0L191.9,724.8L193.2,725.4L194.6,725.8L195.9,725.3L197.1,725.0L198.4,724.3L199.8,723.6L201.1,723.7L202.4,724.5L203.6,725.3L204.9,725.3L206.2,725.3L207.6,725.1L208.9,725.2L210.1,725.7L211.4,724.6L212.8,724.7L214.1,724.2L215.4,724.5L216.6,723.9L217.9,724.3L219.2,723.5L220.6,723.9L221.9,724.7L223.1,724.8L224.4,723.9L225.8,723.9L227.1,724.3L228.4,723.4L229.6,723.7L230.9,723.0L232.2,722.2L233.6,721.7L234.9,721.6L236.1,722.4L237.4,722.3L238.8,721.9L240.1,721.2L241.4,722.0L242.6,721.1L243.9,721.2L245.2,720.3L246.6,720.2L247.9,719.8L249.1,720.1L250.4,720.8L251.8,720.6L253.1,719.7L254.4,719.4L255.6,720.1L256.9,720.6L258.2,719.7L259.6,720.4L260.9,720.2L262.1,719.5L263.4,720.0L264.8,720.8L266.1,720.3L267.4,720.8L268.6,720.9L269.9,720.0L271.2,720.3L272.6,720.7L273.9,720.6L275.1,721.1L276.5,720.9L277.8,721.1L279.1,720.4L280.4,720.7L281.6,721.3L283.0,720.5L284.2,720.7L285.6,720.5L286.9,720.3L288.1,721.2L289.5,720.7L290.8,720.9L292.1,721.4L293.4,722.1L294.6,722.7L296.0,722.2L297.2,721.9L298.6,721.7L299.9,721.5L301.1,721.4L302.5,721.9L303.8,722.5L305.1,723.2L306.4,723.0L307.6,724.1L309.0,724.8L310.2,725.1L311.6,724.7L312.9,724.5L314.1,725.2L315.5,725.4L316.8,725.2L318.1,726.1L319.4,726.1L320.6,727.3L322.0,728.0L323.2,727.4" stroke="#8fd8c0" stroke-width="1.30" fill="none" stroke-linejoin="round"/>
<path d="M63.2,634.0L64.6,622.2L65.9,608.4L67.1,592.9L68.4,578.8L69.8,566.1L71.1,554.4L72.4,544.1L73.6,533.6L74.9,525.2L76.2,519.1L77.6,514.0L78.9,507.8L80.1,501.0L81.4,495.4L82.8,492.2L84.1,492.0L85.4,495.3L86.6,498.1L87.9,501.0L89.2,505.7L90.6,511.0L91.9,517.7L93.1,522.7L94.4,527.7L95.8,532.2L97.1,537.8L98.4,545.2L99.6,552.2L100.9,556.4L102.2,560.6L103.6,564.6L104.9,569.9L106.1,574.1L107.4,579.6L108.8,585.0L110.1,589.9L111.4,594.8L112.6,600.3L113.9,605.0L115.2,608.1L116.6,611.0L117.9,613.2L119.1,615.2L120.4,617.7L121.8,621.0L123.1,624.3L124.4,627.8L125.6,631.4L126.9,634.4L128.2,639.1L129.6,643.8L130.9,645.4L132.1,647.8L133.4,648.9L134.8,651.8L136.1,654.7L137.4,656.9L138.6,658.9L139.9,661.9L141.2,663.9L142.6,665.9L143.9,668.9L145.1,671.1L146.4,674.4L147.8,677.8L149.1,680.3L150.4,682.9L151.6,685.4L152.9,687.5L154.2,688.7L155.6,691.5L156.9,693.5L158.1,696.3L159.4,698.0L160.8,700.0L162.1,702.2L163.4,704.3L164.6,706.8L165.9,708.2L167.2,709.8L168.6,710.8L169.9,711.9L171.1,712.7L172.4,713.6L173.8,715.1L175.1,715.9L176.4,717.8L177.6,719.4L178.9,719.7L180.2,719.8L181.6,720.8L182.9,721.7L184.1,721.8L185.4,723.0L186.8,722.4L188.1,722.9L189.4,722.4L190.6,723.2L191.9,723.7L193.2,724.2L194.6,723.9L195.9,723.6L197.1,723.2L198.4,723.3L199.8,722.9L201.1,724.1L202.4,723.7L203.6,723.4L204.9,723.9L206.2,723.6L207.6,723.1L208.9,723.3L210.1,723.7L211.4,724.2L212.8,723.7L214.1,724.0L215.4,723.5L216.6,723.4L217.9,723.0L219.2,722.9L220.6,723.6L221.9,724.2L223.1,724.3L224.4,724.6L225.8,724.6L227.1,724.7L228.4,723.5L229.6,723.7L230.9,723.0L232.2,723.2L233.6,722.0L234.9,721.7L236.1,722.3L237.4,721.8L238.8,721.9L240.1,721.9L241.4,721.1L242.6,721.5L243.9,721.4L245.2,721.6L246.6,721.2L247.9,721.8L249.1,721.3L250.4,720.8L251.8,721.2L253.1,720.6L254.4,720.7L255.6,719.9L256.9,720.3L258.2,720.4L259.6,720.6L260.9,720.8L262.1,720.3L263.4,720.5L264.8,719.9L266.1,720.6L267.4,720.3L268.6,721.0L269.9,720.3L271.2,721.2L272.6,721.2L273.9,720.2L275.1,720.2L276.5,719.8L277.8,720.2L279.1,720.1L280.4,720.8L281.6,720.7L283.0,721.1L284.2,720.8L285.6,721.6L286.9,721.6L288.1,721.0L289.5,722.0L290.8,722.5L292.1,721.6L293.4,722.0L294.6,721.9L296.0,722.0L297.2,722.0L298.6,723.1L299.9,722.5L301.1,722.2L302.5,722.0L303.8,721.9L305.1,722.6L306.4,723.6L307.6,723.6L309.0,723.5L310.2,724.0L311.6,725.3L312.9,725.0L314.1,725.6L315.5,725.8L316.8,726.8L318.1,727.3L319.4,727.6L320.6,727.5L322.0,726.8L323.2,727.8" stroke="#c2c275" stroke-width="1.30" fill="none" stroke-linejoin="round"/>
<path d="M63.2,636.5L64.6,623.8L65.9,611.1L67.1,597.2L68.4,584.5L69.8,571.6L71.1,561.1L72.4,550.8L73.6,540.2L74.9,531.2L76.2,525.5L77.6,520.5L78.9,515.2L80.1,508.3L81.4,503.4L82.8,499.8L84.1,499.8L85.4,501.6L86.6,503.9L87.9,507.0L89.2,511.8L90.6,517.4L91.9,524.1L93.1,529.3L94.4,533.7L95.8,538.2L97.1,543.3L98.4,549.8L99.6,555.8L100.9,560.4L102.2,565.2L103.6,570.2L104.9,574.8L106.1,578.8L107.4,583.0L108.8,589.3L110.1,595.1L111.4,599.4L112.6,604.0L113.9,608.2L115.2,610.8L116.6,613.6L117.9,616.6L119.1,618.8L120.4,622.3L121.8,625.2L123.1,626.8L124.4,629.4L125.6,632.3L126.9,637.1L128.2,641.0L129.6,645.6L130.9,648.6L132.1,649.2L133.4,651.5L134.8,652.6L136.1,654.6L137.4,657.3L138.6,660.9L139.9,664.1L141.2,665.9L142.6,668.5L143.9,670.1L145.1,672.3L146.4,675.5L147.8,678.4L149.1,680.8L150.4,683.7L151.6,685.7L152.9,687.5L154.2,689.5L155.6,692.0L156.9,693.3L158.1,694.9L159.4,697.4L160.8,700.4L162.1,702.1L163.4,704.2L164.6,706.2L165.9,708.4L167.2,710.3L168.6,711.2L169.9,712.8L171.1,714.3L172.4,714.4L173.8,716.3L175.1,716.4L176.4,717.2L177.6,717.7L178.9,718.1L180.2,718.5L181.6,718.9L182.9,719.2L184.1,720.1L185.4,721.2L186.8,721.2L188.1,722.3L189.4,722.8L190.6,722.8L191.9,723.5L193.2,724.1L194.6,724.2L195.9,723.4L197.1,722.8L198.4,722.4L199.8,722.7L201.1,723.4L202.4,723.9L203.6,723.3L204.9,723.6L206.2,723.2L207.6,723.3L208.9,723.6L210.1,723.2L211.4,724.2L212.8,724.8L214.1,723.7L215.4,724.5L216.6,723.4L217.9,723.1L219.2,722.6L220.6,723.4L221.9,724.2L223.1,724.6L224.4,724.6L225.8,724.0L227.1,723.1L228.4,722.7L229.6,722.5L230.9,722.6L232.2,723.1L233.6,722.8L234.9,721.7L236.1,722.2L237.4,722.0L238.8,722.3L240.1,722.7L241.4,721.4L242.6,720.7L243.9,720.8L245.2,720.3L246.6,720.3L247.9,721.0L249.1,720.9L250.4,721.0L251.8,720.9L253.1,721.0L254.4,720.4L255.6,719.9L256.9,720.8L258.2,720.2L259.6,719.6L260.9,720.1L262.1,719.5L263.4,719.2L264.8,719.8L266.1,719.4L267.4,719.2L268.6,719.9L269.9,720.2L271.2,720.8L272.6,720.6L273.9,721.0L275.1,721.7L276.5,721.9L277.8,721.5L279.1,721.1L280.4,721.8L281.6,720.8L283.0,721.5L284.2,721.2L285.6,721.5L286.9,722.4L288.1,721.7L289.5,721.7L290.8,722.2L292.1,722.5L293.4,722.0L294.6,722.8L296.0,722.6L297.2,722.3L298.6,722.4L299.9,722.9L301.1,722.9L302.5,723.3L303.8,723.4L305.1,724.3L306.4,724.8L307.6,724.9L309.0,725.1L310.2,725.6L311.6,724.8L312.9,724.6L314.1,725.2L315.5,725.5L316.8,726.3L318.1,725.6L319.4,725.7L320.6,726.1L322.0,726.7L323.2,727.1" stroke="#cfc37a" stroke-width="1.30" fill="none" stroke-linejoin="round"/>
<path d="M63.2,640.2L64.6,627.4L65.9,615.2L67.1,601.3L68.4,588.5L69.8,576.6L71.1,565.0L72.4,554.1L73.6,544.8L74.9,536.3L76.2,530.7L77.6,526.2L78.9,521.7L80.1,515.7L81.4,510.0L82.8,507.7L84.1,507.2L85.4,509.1L86.6,512.2L87.9,515.9L89.2,520.0L90.6,525.2L91.9,531.0L93.1,536.7L94.4,540.4L95.8,544.0L97.1,548.4L98.4,556.0L99.6,562.6L100.9,567.6L102.2,571.0L103.6,574.7L104.9,579.2L106.1,583.6L107.4,588.3L108.8,593.4L110.1,599.3L111.4,602.9L112.6,607.3L113.9,612.0L115.2,615.5L116.6,617.1L117.9,619.0L119.1,622.2L120.4,624.9L121.8,628.2L123.1,629.7L124.4,632.8L125.6,636.3L126.9,639.7L128.2,643.8L129.6,647.4L130.9,650.1L132.1,651.8L133.4,652.3L134.8,654.5L136.1,656.7L137.4,658.9L138.6,662.2L139.9,665.2L141.2,668.1L142.6,670.4L143.9,672.1L145.1,673.7L146.4,676.3L147.8,679.8L149.1,682.5L150.4,684.9L151.6,687.0L152.9,688.5L154.2,691.1L155.6,693.3L156.9,695.0L158.1,697.4L159.4,698.5L160.8,701.3L162.1,703.3L163.4,705.8L164.6,707.7L165.9,708.3L167.2,708.9L168.6,709.7L169.9,711.0L171.1,711.9L172.4,713.5L173.8,714.9L175.1,715.7L176.4,717.3L177.6,718.1L178.9,719.5L180.2,720.1L181.6,721.3L182.9,720.6L184.1,720.6L185.4,720.9L186.8,722.0L188.1,722.0L189.4,722.2L190.6,723.1L191.9,722.4L193.2,722.5L194.6,723.4L195.9,723.5L197.1,723.6L198.4,723.3L199.8,724.0L201.1,724.4L202.4,723.4L203.6,723.3L204.9,723.7L206.2,724.3L207.6,724.6L208.9,724.6L210.1,724.8L211.4,724.9L212.8,725.2L214.1,723.9L215.4,724.6L216.6,723.6L217.9,723.7L219.2,722.9L220.6,723.5L221.9,723.7L223.1,723.4L224.4,722.7L225.8,722.6L227.1,722.1L228.4,722.7L229.6,722.7L230.9,722.2L232.2,722.8L233.6,722.9L234.9,722.9L236.1,722.9L237.4,721.9L238.8,721.4L240.1,721.8L241.4,721.6L242.6,721.2L243.9,720.4L245.2,720.9L246.6,720.8L247.9,720.5L249.1,721.0L250.4,721.2L251.8,721.1L253.1,720.4L254.4,719.9L255.6,720.1L256.9,720.8L258.2,720.6L259.6,721.0L260.9,721.0L262.1,721.3L263.4,721.7L264.8,720.4L266.1,721.1L267.4,721.4L268.6,720.7L269.9,720.2L271.2,720.1L272.6,720.6L273.9,720.2L275.1,719.9L276.5,721.1L277.8,721.5L279.1,722.0L280.4,721.6L281.6,722.1L283.0,721.9L284.2,722.3L285.6,721.9L286.9,721.1L288.1,721.0L289.5,721.3L290.8,722.2L292.1,722.6L293.4,722.7L294.6,723.3L296.0,722.5L297.2,723.1L298.6,722.7L299.9,723.2L301.1,722.4L302.5,722.3L303.8,722.7L305.1,723.8L306.4,723.7L307.6,723.5L309.0,724.1L310.2,723.6L311.6,723.8L312.9,723.6L314.1,723.9L315.5,725.2L316.8,725.2L318.1,726.1L319.4,725.4L320.6,725.6L322.0,725.7L323.2,725.9" stroke="#d6cf62" stroke-width="1.30" fill="none" stroke-linejoin="round"/>
<path d="M63.2,644.0L64.6,630.9L65.9,617.4L67.1,604.4L68.4,592.4L69.8,580.7L71.1,571.0L72.4,561.0L73.6,551.4L74.9,543.3L76.2,537.5L77.6,532.2L78.9,527.3L80.1,520.8L81.4,516.0L82.8,512.8L84.1,512.1L85.4,514.3L86.6,517.9L87.9,521.4L89.2,524.9L90.6,530.1L91.9,536.5L93.1,542.6L94.4,547.4L95.8,550.3L97.1,554.8L98.4,560.7L99.6,566.6L100.9,570.8L102.2,574.5L103.6,579.2L104.9,582.7L106.1,587.3L107.4,592.6L108.8,597.5L110.1,603.1L111.4,607.8L112.6,611.3L113.9,615.5L115.2,617.6L116.6,620.3L117.9,623.3L119.1,625.9L120.4,627.5L121.8,629.3L123.1,631.6L124.4,634.4L125.6,637.4L126.9,642.0L128.2,646.4L129.6,649.5L130.9,652.3L132.1,654.3L133.4,655.9L134.8,657.8L136.1,660.0L137.4,661.4L138.6,664.2L139.9,666.2L141.2,669.1L142.6,670.5L143.9,673.6L145.1,675.1L146.4,677.8L147.8,679.7L149.1,682.3L150.4,684.3L151.6,687.2L152.9,689.6L154.2,691.0L155.6,692.3L156.9,694.1L158.1,697.1L159.4,699.8L160.8,701.7L162.1,702.9L163.4,704.6L164.6,705.8L165.9,707.4L167.2,708.5L168.6,710.3L169.9,711.0L171.1,712.2L172.4,714.3L173.8,715.5L175.1,716.4L176.4,717.2L177.6,718.3L178.9,718.9L180.2,719.7L181.6,720.1L182.9,720.6L184.1,720.6L185.4,720.5L186.8,720.9L188.1,720.7L189.4,720.8L190.6,721.9L191.9,721.5L193.2,721.9L194.6,722.7L195.9,722.6L197.1,722.9L198.4,723.0L199.8,723.6L201.1,722.9L202.4,722.3L203.6,722.0L204.9,721.7L206.2,722.6L207.6,722.7L208.9,722.8L210.1,722.4L211.4,722.1L212.8,723.3L214.1,723.5L215.4,723.0L216.6,723.9L217.9,723.5L219.2,723.3L220.6,723.7L221.9,723.9L223.1,722.8L224.4,722.1L225.8,722.8L227.1,723.1L228.4,722.7L229.6,722.6L230.9,721.8L232.2,721.8L233.6,721.1L234.9,721.2L236.1,722.1L237.4,722.1L238.8,721.8L240.1,721.4L241.4,720.5L242.6,720.1L243.9,720.5L245.2,720.7L246.6,720.2L247.9,720.9L249.1,721.1L250.4,721.6L251.8,721.3L253.1,721.7L254.4,722.1L255.6,721.7L256.9,721.9L258.2,721.5L259.6,721.4L260.9,721.7L262.1,720.9L263.4,720.4L264.8,720.4L266.1,720.1L267.4,720.2L268.6,721.1L269.9,720.9L271.2,721.0L272.6,721.2L273.9,721.2L275.1,721.0L276.5,720.3L277.8,720.5L279.1,720.0L280.4,720.7L281.6,721.6L283.0,722.1L284.2,722.0L285.6,722.2L286.9,722.0L288.1,721.4L289.5,722.4L290.8,721.9L292.1,721.3L293.4,722.4L294.6,722.4L296.0,722.7L297.2,723.2L298.6,722.4L299.9,721.9L301.1,721.9L302.5,722.0L303.8,722.7L305.1,723.3L306.4,723.7L307.6,724.1L309.0,724.1L310.2,724.1L311.6,724.5L312.9,724.8L314.1,725.7L315.5,725.8L316.8,725.5L318.1,725.9L319.4,725.6L320.6,726.6L322.0,725.7L323.2,726.4" stroke="#bf9f9f" stroke-width="1.30" fill="none" stroke-linejoin="round"/>
<path d="M63.2,647.5L64.6,635.3L65.9,622.9L67.1,609.0L68.4,597.0L69.8,586.6L71.1,575.3L72.4,565.8L73.6,555.7L74.9,547.2L76.2,542.7L77.6,537.9L78.9,532.7L80.1,526.6L81.4,522.8L82.8,520.0L84.1,519.6L85.4,521.9L86.6,525.1L87.9,527.7L89.2,532.0L90.6,537.8L91.9,544.2L93.1,549.2L94.4,552.0L95.8,555.8L97.1,560.9L98.4,567.3L99.6,572.4L100.9,576.4L102.2,579.9L103.6,583.6L104.9,587.5L106.1,591.7L107.4,596.2L108.8,600.4L110.1,605.4L111.4,610.4L112.6,614.7L113.9,618.9L115.2,621.3L116.6,624.2L117.9,626.8L119.1,629.1L120.4,631.6L121.8,634.3L123.1,636.5L124.4,638.0L125.6,641.4L126.9,644.8L128.2,649.1L129.6,653.0L130.9,655.3L132.1,656.9L133.4,656.8L134.8,657.5L136.1,660.5L137.4,662.7L138.6,664.6L139.9,667.5L141.2,670.1L142.6,671.3L143.9,673.0L145.1,675.3L146.4,678.7L147.8,681.3L149.1,683.3L150.4,685.1L151.6,688.1L152.9,689.6L154.2,691.7L155.6,693.6L156.9,695.9L158.1,697.7L159.4,700.0L160.8,702.0L162.1,703.7L163.4,705.8L164.6,706.6L165.9,708.8L167.2,709.5L168.6,710.6L169.9,711.7L171.1,712.7L172.4,713.1L173.8,714.5L175.1,715.1L176.4,715.9L177.6,717.6L178.9,718.3L180.2,718.9L181.6,719.5L182.9,719.5L184.1,720.1L185.4,720.3L186.8,721.6L188.1,721.0L189.4,720.9L190.6,722.1L191.9,721.9L193.2,721.6L194.6,722.1L195.9,723.0L197.1,723.2L198.4,723.2L199.8,722.7L201.1,723.4L202.4,723.1L203.6,722.8L204.9,723.5L206.2,723.7L207.6,723.1L208.9,723.2L210.1,723.2L211.4,723.7L212.8,723.2L214.1,722.9L215.4,723.3L216.6,722.9L217.9,723.8L219.2,723.0L220.6,723.7L221.9,723.0L223.1,722.6L224.4,722.8L225.8,723.1L227.1,723.4L228.4,722.2L229.6,722.7L230.9,723.1L232.2,722.6L233.6,722.7L234.9,722.0L236.1,721.4L237.4,721.3L238.8,720.9L240.1,721.9L241.4,721.7L242.6,721.1L243.9,721.0L245.2,721.7L246.6,720.9L247.9,720.2L249.1,721.0L250.4,720.8L251.8,720.6L253.1,720.9L254.4,721.0L255.6,721.1L256.9,720.6L258.2,720.1L259.6,720.9L260.9,720.3L262.1,720.4L263.4,720.1L264.8,720.0L266.1,720.9L267.4,721.5L268.6,720.7L269.9,720.4L271.2,720.4L272.6,721.2L273.9,721.4L275.1,721.4L276.5,721.7L277.8,720.9L279.1,721.6L280.4,720.8L281.6,721.2L283.0,720.7L284.2,720.7L285.6,720.4L286.9,720.8L288.1,721.7L289.5,722.1L290.8,722.2L292.1,722.2L293.4,722.2L294.6,721.8L296.0,722.8L297.2,722.6L298.6,722.2L299.9,723.2L301.1,723.4L302.5,723.5L303.8,722.6L305.1,723.0L306.4,723.7L307.6,723.5L309.0,723.4L310.2,723.5L311.6,724.2L312.9,723.8L314.1,723.9L315.5,724.8L316.8,724.8L318.1,724.8L319.4,724.9L320.6,724.8L322.0,725.0L323.2,726.0" stroke="#cfc37a" stroke-width="1.30" fill="none" stroke-linejoin="round"/>
<path d="M63.2,596.1L64.6,585.9L65.9,571.3L67.1,549.2L68.4,531.3L69.8,516.4L71.1,502.3L72.4,489.7L73.6,477.6L74.9,467.3L76.2,458.5L77.6,449.7L78.9,441.5L80.1,433.2L81.4,426.8L82.8,423.4L84.1,423.8L85.4,426.0L86.6,429.9L87.9,434.2L89.2,439.8L90.6,445.1L91.9,449.7L93.1,457.0L94.4,465.6L95.8,473.7L97.1,482.1L98.4,489.9L99.6,497.3L100.9,502.8L102.2,510.6L103.6,517.1L104.9,524.3L106.1,530.6L107.4,536.9L108.8,543.3L110.1,550.0L111.4,556.0L112.6,562.3L113.9,568.0L115.2,571.7L116.6,575.0L117.9,578.1L119.1,582.4L120.4,586.5L121.8,590.1L123.1,594.8L124.4,598.9L125.6,603.5L126.9,609.1L128.2,614.4L129.6,619.6L130.9,623.7L132.1,626.2L133.4,628.5L134.8,632.6L136.1,635.4L137.4,639.5L138.6,643.3L139.9,647.5L141.2,651.6L142.6,654.9L143.9,658.7L145.1,661.8L146.4,664.7L147.8,667.8L149.1,671.7L150.4,675.1L151.6,677.5L152.9,680.4L154.2,682.6L155.6,685.6L156.9,688.2L158.1,691.0L159.4,694.4L160.8,697.2L162.1,700.0L163.4,702.8L164.6,704.6L165.9,706.8L167.2,709.5L168.6,712.1L169.9,714.2L171.1,716.0L172.4,717.7L173.8,719.3L175.1,719.8L176.4,721.2L177.6,722.3L178.9,723.2L180.2,723.9L181.6,724.6L182.9,725.0L184.1,725.3L185.4,725.9L186.8,726.2L188.1,726.9L189.4,727.4L190.6,727.6L191.9,727.8L193.2,728.0L194.6,727.9L195.9,727.6L197.1,727.6L198.4,728.1L199.8,728.6L201.1,728.6L202.4,728.6L203.6,727.9L204.9,727.3L206.2,727.7L207.6,727.2L208.9,726.8L210.1,726.8L211.4,726.8L212.8,727.1L214.1,726.9L215.4,727.1L216.6,727.1L217.9,726.6L219.2,726.7L220.6,725.9L221.9,726.0L223.1,726.3L224.4,725.6L225.8,725.6L227.1,725.2L228.4,724.7L229.6,724.6L230.9,724.5L232.2,723.7L233.6,722.8L234.9,723.2L236.1,723.3L237.4,723.2L238.8,723.1L240.1,723.0L241.4,722.2L242.6,721.7L243.9,721.6L245.2,721.4L246.6,721.1L247.9,721.0L249.1,720.4L250.4,720.7L251.8,720.5L253.1,720.3L254.4,720.5L255.6,720.3L256.9,720.4L258.2,719.8L259.6,720.2L260.9,720.3L262.1,720.5L263.4,720.6L264.8,720.1L266.1,720.3L267.4,719.6L268.6,719.7L269.9,720.3L271.2,720.3L272.6,719.6L273.9,719.4L275.1,719.2L276.5,720.0L277.8,720.6L279.1,721.0L280.4,720.6L281.6,720.2L283.0,720.9L284.2,721.5L285.6,721.3L286.9,721.6L288.1,721.6L289.5,721.7L290.8,721.1L292.1,721.7L293.4,721.5L294.6,722.1L296.0,722.2L297.2,722.4L298.6,723.2L299.9,722.7L301.1,722.9L302.5,723.3L303.8,723.3L305.1,723.8L306.4,725.0L307.6,725.6L309.0,726.4L310.2,726.1L311.6,726.2L312.9,726.7L314.1,727.2L315.5,728.0L316.8,729.3L318.1,729.2L319.4,729.5L320.6,729.8L322.0,730.3L323.2,731.3" stroke="#111111" stroke-width="1.80" fill="none" stroke-linejoin="round"/>
<path d="M63.2,654.8L64.6,641.1L65.9,628.8L67.1,617.3L68.4,606.6L69.8,595.8L71.1,586.1L72.4,575.7L73.6,566.7L74.9,558.6L76.2,554.3L77.6,550.4L78.9,546.1L80.1,540.0L81.4,535.3L82.8,533.0L84.1,532.3L85.4,533.7L86.6,536.9L87.9,539.3L89.2,542.8L90.6,548.4L91.9,556.0L93.1,560.6L94.4,564.0L95.8,566.5L97.1,570.3L98.4,577.0L99.6,582.4L100.9,586.1L102.2,589.6L103.6,591.9L104.9,595.8L106.1,599.0L107.4,603.2L108.8,608.6L110.1,613.3L111.4,618.0L112.6,622.4L113.9,626.2L115.2,629.3L116.6,631.3L117.9,633.4L119.1,634.6L120.4,636.9L121.8,639.4L123.1,641.9L124.4,643.4L125.6,646.3L126.9,648.9L128.2,652.5L129.6,655.9L130.9,657.9L132.1,659.4L133.4,659.8L134.8,661.5L136.1,663.9L137.4,665.9L138.6,667.8L139.9,669.5L141.2,672.0L142.6,674.3L143.9,676.3L145.1,678.9L146.4,681.0L147.8,683.7L149.1,686.1L150.4,687.5L151.6,688.7L152.9,690.4L154.2,692.5L155.6,693.7L156.9,695.6L158.1,697.7L159.4,700.0L160.8,701.5L162.1,703.8L163.4,705.9L164.6,707.4L165.9,708.8L167.2,710.2L168.6,711.5L169.9,712.0L171.1,713.3L172.4,713.6L173.8,714.4L175.1,715.0L176.4,715.9L177.6,717.4L178.9,717.6L180.2,718.9L181.6,719.3L182.9,719.3L184.1,719.7L185.4,719.7L186.8,720.2L188.1,720.3L189.4,720.9L190.6,721.4L191.9,721.4L193.2,721.6L194.6,721.9L195.9,721.6L197.1,721.9L198.4,721.4L199.8,721.7L201.1,722.0L202.4,721.5L203.6,721.8L204.9,722.2L206.2,722.1L207.6,722.3L208.9,723.0L210.1,723.2L211.4,723.2L212.8,722.9L214.1,722.9L215.4,722.9L216.6,723.1L217.9,722.6L219.2,722.8L220.6,723.2L221.9,723.3L223.1,722.6L224.4,722.8L225.8,722.8L227.1,723.0L228.4,723.2L229.6,722.1L230.9,722.6L232.2,722.5L233.6,722.5L234.9,722.4L236.1,721.6L237.4,722.0L238.8,721.2L240.1,721.2L241.4,721.2L242.6,721.2L243.9,720.7L245.2,721.2L246.6,721.1L247.9,721.4L249.1,721.0L250.4,721.3L251.8,720.6L253.1,720.6L254.4,720.1L255.6,719.9L256.9,720.0L258.2,720.9L259.6,721.0L260.9,720.7L262.1,720.7L263.4,720.6L264.8,721.1L266.1,721.5L267.4,721.3L268.6,720.9L269.9,721.5L271.2,720.9L272.6,721.2L273.9,721.4L275.1,721.2L276.5,721.1L277.8,721.5L279.1,721.3L280.4,720.9L281.6,721.3L283.0,720.9L284.2,720.8L285.6,720.7L286.9,721.1L288.1,721.3L289.5,722.1L290.8,722.1L292.1,721.5L293.4,721.2L294.6,722.2L296.0,721.7L297.2,722.4L298.6,722.6L299.9,723.1L301.1,723.4L302.5,723.1L303.8,722.7L305.1,723.1L306.4,722.9L307.6,723.1L309.0,723.7L310.2,724.2L311.6,723.7L312.9,723.9L314.1,723.5L315.5,724.1L316.8,724.7L318.1,724.2L319.4,724.1L320.6,723.8L322.0,724.5L323.2,724.3" stroke="#0000ff" stroke-width="2.5" fill="none" stroke-linejoin="round"/>
<path d="M402.7,645.0L404.0,635.9L405.3,627.8L406.6,617.6L407.9,605.6L409.2,594.0L410.5,581.8L411.8,569.3L413.1,556.8L414.4,544.8L415.7,532.3L417.0,521.1L418.3,510.7L419.7,501.0L421.0,494.0L422.3,488.4L423.6,485.3L424.9,485.4L426.2,486.2L427.5,488.2L428.8,491.7L430.1,495.9L431.4,498.9L432.7,505.1L434.0,512.7L435.3,521.4L436.6,527.1L438.0,530.9L439.3,533.7L440.6,539.2L441.9,543.7L443.2,548.4L444.5,552.7L445.8,557.7L447.1,562.5L448.4,567.5L449.7,572.4L451.0,576.5L452.3,580.1L453.6,584.9L454.9,589.9L456.3,593.2L457.6,596.5L458.9,600.7L460.2,602.9L461.5,605.4L462.8,608.7L464.1,611.5L465.4,612.6L466.7,615.4L468.0,617.9L469.3,620.2L470.6,621.5L471.9,623.1L473.2,624.1L474.6,626.9L475.9,628.0L477.2,629.6L478.5,632.6L479.8,635.2L481.1,637.2L482.4,639.6L483.7,641.0L485.0,642.0L486.3,643.5L487.6,645.8L488.9,647.6L490.2,649.6L491.5,651.1L492.9,653.7L494.2,655.4L495.5,657.5L496.8,658.3L498.1,660.2L499.4,661.2L500.7,663.5L502.0,665.8L503.3,667.1L504.6,668.8L505.9,670.1L507.2,670.8L508.5,672.5L509.9,672.4L511.2,673.0L512.5,673.8L513.8,674.6L515.1,676.1L516.4,676.2L517.7,677.2L519.0,678.6L520.3,679.8L521.6,680.4L522.9,680.2L524.2,681.3L525.5,682.5L526.8,682.8L528.2,682.9L529.5,683.6L530.8,684.2L532.1,685.8L533.4,686.0L534.7,687.0L536.0,687.4L537.3,687.9L538.6,689.1L539.9,690.1L541.2,691.0L542.5,690.8L543.8,691.9L545.1,691.9L546.5,692.5L547.8,692.2L549.1,692.9L550.4,692.7L551.7,693.8L553.0,693.7L554.3,694.1L555.6,695.2L556.9,695.7L558.2,695.9L559.5,697.2L560.8,697.8L562.1,698.5L563.4,699.4L564.8,699.7L566.1,700.0L567.4,700.5L568.7,701.3L570.0,701.5L571.3,702.7L572.6,702.5L573.9,703.9L575.2,704.1L576.5,704.0L577.8,704.4L579.1,705.0L580.4,706.0L581.7,706.1L583.1,706.4L584.4,706.1L585.7,706.1L587.0,706.2L588.3,706.4L589.6,707.1L590.9,706.3L592.2,706.2L593.5,706.2L594.8,705.8L596.1,707.0L597.4,707.3L598.7,708.3L600.0,708.1L601.4,707.4L602.7,708.4L604.0,708.5L605.3,708.2L606.6,708.3L607.9,708.3L609.2,709.3L610.5,708.7L611.8,709.7L613.1,710.5L614.4,710.0L615.7,710.0L617.0,709.9L618.3,710.6L619.7,711.0L621.0,711.6L622.3,711.4L623.6,710.7L624.9,710.3L626.2,710.5L627.5,709.9L628.8,710.2L630.1,710.5L631.4,711.0L632.7,710.9L634.0,710.4L635.3,710.5L636.6,710.9L638.0,710.7L639.3,711.2L640.6,711.4L641.9,711.0L643.2,710.8L644.5,710.8L645.8,710.8L647.1,712.1L648.4,713.0L649.7,712.8L651.0,713.3L652.3,712.6L653.6,713.5L654.9,713.1L656.3,712.8L657.6,713.3L658.9,714.4L660.2,715.2L661.5,714.2L662.8,715.0L664.1,714.3" stroke="#ff9a9a" stroke-width="1.60" fill="none" stroke-linejoin="round"/>
<path d="M402.7,670.1L404.0,663.9L405.3,656.6L406.6,648.3L407.9,637.6L409.2,626.8L410.5,614.5L411.8,601.3L413.1,587.5L414.4,575.5L415.7,564.6L417.0,555.0L418.3,546.5L419.7,539.4L421.0,533.2L422.3,529.2L423.6,526.8L424.9,526.8L426.2,527.7L427.5,530.0L428.8,533.6L430.1,535.9L431.4,539.2L432.7,543.3L434.0,548.4L435.3,555.1L436.6,559.8L438.0,562.1L439.3,565.0L440.6,568.4L441.9,572.6L443.2,576.9L444.5,580.5L445.8,584.4L447.1,587.6L448.4,591.5L449.7,594.5L451.0,598.3L452.3,602.3L453.6,605.2L454.9,608.6L456.3,611.8L457.6,616.0L458.9,619.3L460.2,621.4L461.5,623.7L462.8,625.3L464.1,626.3L465.4,628.3L466.7,629.9L468.0,631.0L469.3,633.1L470.6,635.2L471.9,636.4L473.2,638.3L474.6,638.7L475.9,640.8L477.2,642.5L478.5,643.5L479.8,644.8L481.1,646.0L482.4,648.0L483.7,648.9L485.0,650.6L486.3,650.8L487.6,651.2L488.9,652.4L490.2,654.2L491.5,655.2L492.9,656.6L494.2,657.7L495.5,659.4L496.8,661.0L498.1,661.9L499.4,663.2L500.7,663.8L502.0,665.6L503.3,666.0L504.6,666.8L505.9,668.2L507.2,668.6L508.5,670.7L509.9,671.6L511.2,672.0L512.5,672.8L513.8,674.2L515.1,674.9L516.4,676.3L517.7,676.9L519.0,676.8L520.3,677.6L521.6,678.3L522.9,678.2L524.2,678.7L525.5,679.4L526.8,680.7L528.2,681.0L529.5,681.8L530.8,682.8L532.1,683.2L533.4,684.8L534.7,685.8L536.0,686.3L537.3,686.9L538.6,687.4L539.9,687.5L541.2,687.9L542.5,689.0L543.8,689.6L545.1,689.1L546.5,689.8L547.8,690.8L549.1,691.1L550.4,690.7L551.7,691.9L553.0,692.8L554.3,693.4L555.6,693.8L556.9,694.8L558.2,695.4L559.5,695.7L560.8,696.7L562.1,697.0L563.4,697.1L564.8,697.5L566.1,698.0L567.4,698.1L568.7,698.8L570.0,700.1L571.3,699.8L572.6,699.9L573.9,700.6L575.2,700.5L576.5,700.4L577.8,700.9L579.1,701.6L580.4,701.7L581.7,701.6L583.1,702.3L584.4,701.8L585.7,702.3L587.0,702.7L588.3,703.3L589.6,702.8L590.9,702.0L592.2,702.9L593.5,703.2L594.8,704.1L596.1,703.7L597.4,703.2L598.7,702.9L600.0,703.4L601.4,704.6L602.7,705.0L604.0,704.6L605.3,705.2L606.6,704.5L607.9,704.9L609.2,704.6L610.5,705.1L611.8,704.6L613.1,705.9L614.4,706.0L615.7,706.2L617.0,706.5L618.3,706.0L619.7,705.7L621.0,706.9L622.3,706.5L623.6,706.4L624.9,706.6L626.2,706.6L627.5,706.3L628.8,706.7L630.1,706.9L631.4,706.7L632.7,707.7L634.0,706.9L635.3,706.4L636.6,706.6L638.0,707.5L639.3,708.3L640.6,708.2L641.9,708.0L643.2,708.2L644.5,708.5L645.8,707.7L647.1,708.1L648.4,708.0L649.7,708.8L651.0,708.8L652.3,709.8L653.6,710.1L654.9,709.9L656.3,710.0L657.6,709.6L658.9,710.2L660.2,710.0L661.5,711.0L662.8,710.7L664.1,711.4" stroke="#8db0f4" stroke-width="1.60" fill="none" stroke-linejoin="round"/>
<path d="M402.7,689.5L404.0,684.1L405.3,679.6L406.6,671.2L407.9,662.9L409.2,652.6L410.5,639.6L411.8,625.1L413.1,613.0L414.4,601.1L415.7,591.3L417.0,581.9L418.3,575.0L419.7,569.1L421.0,565.3L422.3,561.6L423.6,560.2L424.9,559.3L426.2,560.6L427.5,562.3L428.8,565.3L430.1,567.2L431.4,570.1L432.7,573.4L434.0,576.0L435.3,579.0L436.6,583.4L438.0,586.6L439.3,589.6L440.6,592.4L441.9,595.0L443.2,598.4L444.5,600.9L445.8,603.8L447.1,606.7L448.4,609.5L449.7,612.6L451.0,615.8L452.3,619.4L453.6,621.8L454.9,624.4L456.3,627.4L457.6,631.1L458.9,633.1L460.2,634.9L461.5,636.7L462.8,637.7L464.1,638.6L465.4,640.1L466.7,641.5L468.0,643.2L469.3,644.9L470.6,646.2L471.9,647.0L473.2,647.6L474.6,649.2L475.9,650.4L477.2,650.5L478.5,651.1L479.8,652.1L481.1,652.9L482.4,653.9L483.7,655.1L485.0,656.5L486.3,656.7L487.6,657.3L488.9,658.3L490.2,658.2L491.5,659.0L492.9,660.3L494.2,660.5L495.5,661.6L496.8,661.9L498.1,663.3L499.4,664.0L500.7,665.2L502.0,666.1L503.3,666.5L504.6,667.4L505.9,668.2L507.2,669.2L508.5,669.6L509.9,671.4L511.2,671.7L512.5,673.1L513.8,674.0L515.1,674.7L516.4,675.0L517.7,675.2L519.0,676.2L520.3,676.7L521.6,677.1L522.9,676.8L524.2,676.9L525.5,677.5L526.8,678.6L528.2,680.2L529.5,680.2L530.8,680.4L532.1,681.4L533.4,682.7L534.7,684.3L536.0,684.7L537.3,685.9L538.6,685.4L539.9,686.2L541.2,686.6L542.5,686.0L543.8,686.3L545.1,687.6L546.5,687.0L547.8,687.6L549.1,687.9L550.4,687.9L551.7,687.9L553.0,689.4L554.3,690.1L555.6,691.2L556.9,691.8L558.2,691.6L559.5,692.5L560.8,693.4L562.1,693.5L563.4,694.6L564.8,694.3L566.1,695.1L567.4,694.5L568.7,695.4L570.0,696.4L571.3,695.8L572.6,696.7L573.9,697.4L575.2,697.8L576.5,698.1L577.8,698.3L579.1,697.9L580.4,697.9L581.7,698.3L583.1,697.9L584.4,697.4L585.7,697.5L587.0,698.1L588.3,698.0L589.6,697.4L590.9,698.3L592.2,698.2L593.5,698.5L594.8,698.2L596.1,697.7L597.4,698.5L598.7,698.0L600.0,698.1L601.4,698.9L602.7,698.3L604.0,699.1L605.3,698.8L606.6,699.5L607.9,700.0L609.2,699.7L610.5,699.6L611.8,699.0L613.1,700.2L614.4,700.4L615.7,699.8L617.0,700.2L618.3,699.8L619.7,700.8L621.0,700.9L622.3,700.2L623.6,700.7L624.9,700.4L626.2,700.0L627.5,699.5L628.8,699.5L630.1,699.1L631.4,699.8L632.7,699.3L634.0,699.7L635.3,699.4L636.6,700.2L638.0,699.8L639.3,699.7L640.6,699.5L641.9,700.5L643.2,699.8L644.5,700.0L645.8,700.5L647.1,699.8L648.4,699.8L649.7,700.4L651.0,700.7L652.3,700.3L653.6,701.3L654.9,701.9L656.3,701.9L657.6,702.6L658.9,701.6L660.2,701.7L661.5,701.2L662.8,701.4L664.1,701.5" stroke="#82cfa0" stroke-width="1.60" fill="none" stroke-linejoin="round"/>
<path d="M402.7,683.7L404.0,678.4L405.3,673.0L406.6,666.2L407.9,656.4L409.2,645.9L410.5,632.5L411.8,619.0L413.1,605.7L414.4,594.8L415.7,584.6L417.0,576.2L418.3,568.1L419.7,561.8L421.0,557.3L422.3,553.2L423.6,552.1L424.9,552.3L426.2,553.2L427.5,555.5L428.8,558.0L430.1,560.7L431.4,564.1L432.7,567.1L434.0,570.7L435.3,573.5L436.6,576.4L438.0,580.0L439.3,582.4L440.6,585.5L441.9,589.3L443.2,591.7L444.5,595.4L445.8,598.1L447.1,600.9L448.4,604.4L449.7,607.9L451.0,610.7L452.3,613.9L453.6,617.2L454.9,620.6L456.3,624.4L457.6,627.0L458.9,629.5L460.2,630.8L461.5,633.4L462.8,635.1L464.1,635.7L465.4,636.9L466.7,638.4L468.0,640.0L469.3,641.4L470.6,642.1L471.9,642.8L473.2,644.0L474.6,645.5L475.9,647.1L477.2,648.4L478.5,649.1L479.8,649.7L481.1,650.6L482.4,652.4L483.7,653.5L485.0,654.3L486.3,654.3L487.6,654.6L488.9,654.8L490.2,655.7L491.5,656.2L492.9,657.0L494.2,658.7L495.5,659.7L496.8,660.3L498.1,660.8L499.4,662.5L500.7,663.2L502.0,665.0L503.3,666.0L504.6,667.2L505.9,668.5L507.2,668.6L508.5,669.1L509.9,669.1L511.2,669.9L512.5,670.7L513.8,671.9L515.1,671.9L516.4,672.3L517.7,672.9L519.0,673.1L520.3,674.7L521.6,674.7L522.9,674.9L524.2,676.5L525.5,676.5L526.8,677.4L528.2,677.2L529.5,677.3L530.8,678.2L532.1,679.7L533.4,680.6L534.7,680.8L536.0,680.9L537.3,681.9L538.6,682.7L539.9,683.0L541.2,683.9L542.5,684.6L543.8,683.9L545.1,684.1L546.5,684.4L547.8,684.2L549.1,684.0L550.4,684.0L551.7,685.4L553.0,686.3L554.3,686.4L555.6,687.8L556.9,688.3L558.2,689.2L559.5,689.4L560.8,690.1L562.1,690.4L563.4,690.3L564.8,690.9L566.1,691.9L567.4,692.0L568.7,692.4L570.0,691.8L571.3,692.8L572.6,692.3L573.9,691.9L575.2,691.7L576.5,692.4L577.8,692.3L579.1,693.2L580.4,693.9L581.7,692.9L583.1,693.3L584.4,693.7L585.7,693.8L587.0,694.4L588.3,693.9L589.6,693.7L590.9,693.1L592.2,692.9L593.5,692.8L594.8,693.8L596.1,694.1L597.4,693.3L598.7,694.1L600.0,694.1L601.4,694.4L602.7,693.8L604.0,693.4L605.3,693.2L606.6,692.9L607.9,692.8L609.2,692.5L610.5,692.4L611.8,692.6L613.1,693.2L614.4,692.9L615.7,693.7L617.0,694.3L618.3,694.7L619.7,694.8L621.0,694.2L622.3,694.7L623.6,693.8L624.9,693.8L626.2,693.2L627.5,692.6L628.8,692.2L630.1,692.7L631.4,693.2L632.7,693.7L634.0,693.0L635.3,692.5L636.6,693.2L638.0,693.1L639.3,692.6L640.6,692.1L641.9,691.9L643.2,691.6L644.5,692.2L645.8,691.6L647.1,692.4L648.4,691.9L649.7,692.6L651.0,692.1L652.3,691.8L653.6,691.4L654.9,691.7L656.3,692.6L657.6,692.9L658.9,693.5L660.2,693.6L661.5,693.6L662.8,693.6L664.1,692.8" stroke="#c9a8f2" stroke-width="1.60" fill="none" stroke-linejoin="round"/>
<path d="M402.7,679.9L404.0,674.5L405.3,667.6L406.6,659.5L407.9,650.7L409.2,640.2L410.5,627.8L411.8,613.8L413.1,600.8L414.4,588.4L415.7,577.6L417.0,568.8L418.3,561.9L419.7,555.4L421.0,549.8L422.3,545.5L423.6,544.3L424.9,544.9L426.2,545.4L427.5,547.6L428.8,550.4L430.1,553.1L431.4,555.4L432.7,559.8L434.0,563.0L435.3,567.4L436.6,570.8L438.0,574.6L439.3,577.6L440.6,580.7L441.9,583.6L443.2,587.5L444.5,590.2L445.8,593.4L447.1,597.7L448.4,601.0L449.7,603.8L451.0,607.3L452.3,610.0L453.6,613.6L454.9,616.5L456.3,620.0L457.6,623.2L458.9,626.6L460.2,628.0L461.5,630.3L462.8,631.4L464.1,632.7L465.4,635.0L466.7,635.6L468.0,636.8L469.3,639.0L470.6,640.1L471.9,640.6L473.2,641.5L474.6,642.9L475.9,644.4L477.2,645.1L478.5,647.4L479.8,648.5L481.1,649.3L482.4,650.9L483.7,651.4L485.0,651.9L486.3,653.0L487.6,654.1L488.9,655.0L490.2,654.7L491.5,656.1L492.9,657.2L494.2,657.7L495.5,658.6L496.8,659.3L498.1,660.8L499.4,662.4L500.7,662.6L502.0,663.0L503.3,663.9L504.6,665.1L505.9,665.6L507.2,667.3L508.5,668.6L509.9,669.7L511.2,670.7L512.5,670.5L513.8,671.1L515.1,672.2L516.4,673.1L517.7,672.4L519.0,673.8L520.3,674.4L521.6,675.1L522.9,675.3L524.2,675.6L525.5,676.4L526.8,676.8L528.2,676.4L529.5,676.1L530.8,676.8L532.1,677.0L533.4,678.7L534.7,679.7L536.0,680.0L537.3,680.8L538.6,680.4L539.9,681.6L541.2,681.9L542.5,681.2L543.8,680.9L545.1,681.1L546.5,681.5L547.8,681.7L549.1,681.6L550.4,682.2L551.7,683.2L553.0,683.9L554.3,684.6L555.6,685.4L556.9,685.3L558.2,685.3L559.5,686.3L560.8,686.8L562.1,687.3L563.4,688.0L564.8,688.6L566.1,687.8L567.4,688.3L568.7,688.6L570.0,688.5L571.3,688.5L572.6,688.7L573.9,688.3L575.2,689.2L576.5,688.4L577.8,688.2L579.1,687.9L580.4,688.0L581.7,687.7L583.1,687.8L584.4,687.9L585.7,688.8L587.0,689.5L588.3,688.9L589.6,689.2L590.9,689.5L592.2,689.5L593.5,688.5L594.8,689.4L596.1,689.9L597.4,689.3L598.7,688.8L600.0,689.0L601.4,689.0L602.7,688.8L604.0,688.4L605.3,689.3L606.6,689.8L607.9,688.6L609.2,689.3L610.5,689.4L611.8,689.1L613.1,689.3L614.4,688.3L615.7,688.8L617.0,688.1L618.3,688.1L619.7,687.7L621.0,687.3L622.3,687.0L623.6,687.8L624.9,687.8L626.2,687.7L627.5,687.2L628.8,687.3L630.1,686.6L631.4,687.1L632.7,687.8L634.0,687.3L635.3,687.1L636.6,686.3L638.0,686.5L639.3,686.4L640.6,686.9L641.9,687.0L643.2,686.7L644.5,686.6L645.8,686.9L647.1,686.9L648.4,686.4L649.7,686.9L651.0,686.8L652.3,685.6L653.6,686.5L654.9,686.5L656.3,686.5L657.6,687.1L658.9,687.3L660.2,687.0L661.5,686.3L662.8,687.2L664.1,686.9" stroke="#dab35c" stroke-width="1.60" fill="none" stroke-linejoin="round"/>
<path d="M402.7,687.1L404.0,682.6L405.3,677.5L406.6,670.4L407.9,660.8L409.2,649.5L410.5,637.2L411.8,622.7L413.1,609.3L414.4,598.8L415.7,588.1L417.0,579.3L418.3,573.2L419.7,567.7L421.0,563.6L422.3,560.6L423.6,558.4L424.9,557.9L426.2,558.9L427.5,560.7L428.8,562.6L430.1,564.8L431.4,567.4L432.7,570.1L434.0,574.0L435.3,577.4L436.6,580.9L438.0,584.4L439.3,587.3L440.6,589.6L441.9,591.6L443.2,595.7L444.5,598.9L445.8,601.8L447.1,604.6L448.4,608.3L449.7,611.3L451.0,614.4L452.3,617.0L453.6,620.5L454.9,623.2L456.3,625.7L457.6,628.4L458.9,630.4L460.2,632.0L461.5,633.9L462.8,636.4L464.1,637.3L465.4,638.7L466.7,640.2L468.0,640.8L469.3,642.8L470.6,644.6L471.9,645.7L473.2,646.1L474.6,647.5L475.9,648.3L477.2,648.6L478.5,649.5L479.8,650.8L481.1,652.4L482.4,652.3L483.7,653.6L485.0,654.9L486.3,654.2L487.6,655.6L488.9,655.4L490.2,656.5L491.5,656.2L492.9,657.5L494.2,657.8L495.5,658.0L496.8,658.9L498.1,659.5L499.4,660.8L500.7,661.7L502.0,663.3L503.3,664.3L504.6,665.4L505.9,665.6L507.2,666.1L508.5,667.7L509.9,667.7L511.2,667.5L512.5,668.3L513.8,669.3L515.1,669.4L516.4,669.9L517.7,671.2L519.0,671.5L520.3,671.9L521.6,672.0L522.9,672.3L524.2,672.5L525.5,673.2L526.8,673.1L528.2,674.0L529.5,674.1L530.8,674.0L532.1,674.5L533.4,675.1L534.7,676.8L536.0,676.9L537.3,677.0L538.6,677.8L539.9,678.8L541.2,678.6L542.5,679.0L543.8,679.5L545.1,679.0L546.5,679.3L547.8,679.8L549.1,680.1L550.4,680.2L551.7,679.3L553.0,679.4L554.3,679.4L555.6,680.8L556.9,681.4L558.2,682.4L559.5,682.3L560.8,682.8L562.1,682.3L563.4,682.2L564.8,682.9L566.1,683.5L567.4,684.2L568.7,684.8L570.0,684.9L571.3,684.6L572.6,684.1L573.9,685.0L575.2,684.1L576.5,684.9L577.8,685.0L579.1,684.5L580.4,683.9L581.7,683.8L583.1,684.2L584.4,684.4L585.7,684.9L587.0,685.0L588.3,684.4L589.6,683.6L590.9,684.3L592.2,683.8L593.5,684.2L594.8,684.5L596.1,684.8L597.4,684.8L598.7,684.0L600.0,683.2L601.4,683.6L602.7,684.0L604.0,683.7L605.3,683.8L606.6,683.6L607.9,683.2L609.2,682.8L610.5,683.0L611.8,682.1L613.1,681.7L614.4,681.8L615.7,681.6L617.0,682.6L618.3,682.6L619.7,681.6L621.0,681.0L622.3,681.7L623.6,682.0L624.9,681.5L626.2,681.5L627.5,681.1L628.8,681.2L630.1,680.4L631.4,680.8L632.7,680.4L634.0,680.9L635.3,681.2L636.6,680.8L638.0,681.0L639.3,680.3L640.6,680.3L641.9,680.1L643.2,679.8L644.5,679.6L645.8,679.1L647.1,678.1L648.4,677.8L649.7,677.3L651.0,677.8L652.3,677.5L653.6,677.1L654.9,678.0L656.3,677.8L657.6,678.1L658.9,679.2L660.2,678.7L661.5,679.3L662.8,678.6L664.1,678.9" stroke="#6cdcdc" stroke-width="1.60" fill="none" stroke-linejoin="round"/>
<path d="M402.7,684.7L404.0,680.0L405.3,673.8L406.6,665.7L407.9,656.0L409.2,645.7L410.5,632.9L411.8,618.3L413.1,605.9L414.4,594.3L415.7,583.9L417.0,576.2L418.3,567.7L419.7,561.5L421.0,556.6L422.3,554.2L423.6,552.7L424.9,552.2L426.2,553.4L427.5,555.2L428.8,556.8L430.1,559.2L431.4,562.8L432.7,566.8L434.0,569.8L435.3,573.3L436.6,576.7L438.0,580.1L439.3,582.2L440.6,585.0L441.9,588.3L443.2,591.5L444.5,595.4L445.8,599.3L447.1,602.9L448.4,605.3L449.7,608.4L451.0,610.9L452.3,614.8L453.6,617.6L454.9,620.1L456.3,624.0L457.6,627.6L458.9,630.4L460.2,632.7L461.5,633.1L462.8,635.3L464.1,636.1L465.4,638.2L466.7,638.7L468.0,640.2L469.3,641.4L470.6,642.4L471.9,643.8L473.2,645.3L474.6,646.5L475.9,647.5L477.2,648.1L478.5,648.8L479.8,650.1L481.1,651.3L482.4,650.9L483.7,650.6L485.0,651.9L486.3,651.9L487.6,652.4L488.9,652.7L490.2,653.4L491.5,654.0L492.9,655.1L494.2,655.2L495.5,655.9L496.8,656.3L498.1,657.0L499.4,657.9L500.7,658.7L502.0,659.3L503.3,659.9L504.6,661.6L505.9,661.8L507.2,663.5L508.5,664.1L509.9,663.9L511.2,664.2L512.5,664.0L513.8,665.2L515.1,666.0L516.4,667.1L517.7,667.6L519.0,667.9L520.3,667.6L521.6,668.2L522.9,669.1L524.2,668.9L525.5,668.6L526.8,668.7L528.2,669.3L529.5,669.9L530.8,670.4L532.1,671.2L533.4,671.0L534.7,670.6L536.0,671.1L537.3,671.8L538.6,672.0L539.9,671.6L541.2,671.4L542.5,671.3L543.8,671.5L545.1,671.1L546.5,671.7L547.8,672.2L549.1,671.8L550.4,671.4L551.7,671.6L553.0,672.8L554.3,673.6L555.6,673.5L556.9,674.6L558.2,675.4L559.5,675.4L560.8,676.1L562.1,676.4L563.4,676.3L564.8,676.4L566.1,675.7L567.4,675.1L568.7,675.7L570.0,675.7L571.3,676.4L572.6,676.8L573.9,676.2L575.2,675.8L576.5,675.6L577.8,676.1L579.1,675.7L580.4,676.3L581.7,675.8L583.1,675.9L584.4,675.4L585.7,675.3L587.0,675.3L588.3,676.1L589.6,675.5L590.9,675.7L592.2,675.8L593.5,675.3L594.8,675.1L596.1,675.0L597.4,675.1L598.7,674.6L600.0,673.9L601.4,674.5L602.7,673.9L604.0,674.4L605.3,673.6L606.6,673.0L607.9,673.1L609.2,672.4L610.5,673.4L611.8,673.6L613.1,672.7L614.4,673.2L615.7,673.3L617.0,672.2L618.3,671.6L619.7,671.0L621.0,670.5L622.3,670.3L623.6,670.3L624.9,670.8L626.2,670.2L627.5,670.8L628.8,670.5L630.1,670.4L631.4,670.6L632.7,669.6L634.0,670.5L635.3,670.5L636.6,670.5L638.0,670.1L639.3,669.7L640.6,669.7L641.9,669.2L643.2,668.0L644.5,666.9L645.8,667.5L647.1,667.7L648.4,666.8L649.7,667.1L651.0,666.9L652.3,666.9L653.6,666.5L654.9,666.4L656.3,667.1L657.6,667.0L658.9,667.8L660.2,667.3L661.5,667.7L662.8,668.4L664.1,669.0" stroke="#bf9f9f" stroke-width="1.60" fill="none" stroke-linejoin="round"/>
<path d="M402.7,664.8L404.0,658.0L405.3,650.8L406.6,643.0L407.9,633.1L409.2,621.5L410.5,609.5L411.8,596.4L413.1,583.3L414.4,570.7L415.7,560.6L417.0,551.1L418.3,542.8L419.7,534.7L421.0,528.6L422.3,524.1L423.6,520.6L424.9,520.8L426.2,522.7L427.5,524.3L428.8,526.5L430.1,530.2L431.4,533.3L432.7,537.6L434.0,542.6L435.3,549.6L436.6,554.0L438.0,556.8L439.3,559.3L440.6,563.8L441.9,568.1L443.2,571.2L444.5,575.5L445.8,578.6L447.1,583.3L448.4,586.6L449.7,591.4L451.0,594.6L452.3,598.1L453.6,602.0L454.9,606.2L456.3,610.4L457.6,613.6L458.9,616.0L460.2,618.8L461.5,621.0L462.8,622.1L464.1,623.2L465.4,625.0L466.7,626.3L468.0,628.0L469.3,630.2L470.6,632.3L471.9,633.1L473.2,634.5L474.6,634.7L475.9,636.2L477.2,638.1L478.5,638.6L479.8,639.7L481.1,640.0L482.4,641.9L483.7,643.0L485.0,643.9L486.3,644.6L487.6,645.6L488.9,646.7L490.2,647.7L491.5,648.1L492.9,649.5L494.2,650.2L495.5,651.6L496.8,652.6L498.1,653.5L499.4,654.1L500.7,655.0L502.0,654.9L503.3,656.0L504.6,656.7L505.9,657.1L507.2,658.1L508.5,658.8L509.9,658.2L511.2,658.1L512.5,659.4L513.8,659.9L515.1,660.5L516.4,661.5L517.7,661.4L519.0,661.4L520.3,662.3L521.6,662.6L522.9,663.5L524.2,663.9L525.5,663.7L526.8,663.5L528.2,663.2L529.5,664.3L530.8,664.8L532.1,665.0L533.4,665.7L534.7,665.9L536.0,666.2L537.3,666.6L538.6,665.5L539.9,666.3L541.2,666.2L542.5,665.4L543.8,664.6L545.1,664.2L546.5,665.0L547.8,664.4L549.1,664.4L550.4,665.2L551.7,665.4L553.0,665.9L554.3,665.8L555.6,666.7L556.9,666.1L558.2,667.0L559.5,667.1L560.8,668.1L562.1,667.7L563.4,667.5L564.8,668.5L566.1,668.3L567.4,668.3L568.7,668.0L570.0,667.4L571.3,667.5L572.6,668.3L573.9,667.9L575.2,668.7L576.5,668.0L577.8,668.3L579.1,667.8L580.4,667.6L581.7,668.3L583.1,667.6L584.4,667.5L585.7,668.3L587.0,667.3L588.3,667.9L589.6,668.3L590.9,667.1L592.2,666.3L593.5,665.8L594.8,666.7L596.1,665.8L597.4,665.9L598.7,665.2L600.0,664.6L601.4,665.2L602.7,665.4L604.0,664.5L605.3,664.3L606.6,663.4L607.9,663.7L609.2,662.7L610.5,663.0L611.8,663.3L613.1,663.3L614.4,663.1L615.7,662.5L617.0,661.9L618.3,661.9L619.7,661.4L621.0,660.5L622.3,659.9L623.6,660.6L624.9,661.0L626.2,660.1L627.5,659.2L628.8,659.6L630.1,658.8L631.4,659.2L632.7,658.4L634.0,657.9L635.3,658.4L636.6,657.2L638.0,657.1L639.3,657.3L640.6,655.8L641.9,655.4L643.2,654.6L644.5,654.3L645.8,654.1L647.1,654.4L648.4,653.2L649.7,654.0L651.0,654.5L652.3,653.8L653.6,653.9L654.9,653.2L656.3,654.1L657.6,655.1L658.9,655.1L660.2,654.2L661.5,653.8L662.8,653.9L664.1,653.7" stroke="#c2c275" stroke-width="1.60" fill="none" stroke-linejoin="round"/>
<path d="M402.7,680.1L404.0,675.0L405.3,669.2L406.6,660.6L407.9,651.4L409.2,639.8L410.5,627.6L411.8,613.5L413.1,600.1L414.4,588.6L415.7,578.8L417.0,569.1L418.3,561.3L419.7,554.7L421.0,550.8L422.3,547.6L423.6,544.5L424.9,543.7L426.2,545.6L427.5,547.2L428.8,550.6L430.1,553.7L431.4,557.0L432.7,559.6L434.0,562.7L435.3,567.1L436.6,571.5L438.0,575.0L439.3,577.3L440.6,580.6L441.9,583.0L443.2,585.8L444.5,590.5L445.8,594.5L447.1,597.0L448.4,601.0L449.7,603.6L451.0,606.7L452.3,609.9L453.6,614.0L454.9,617.6L456.3,620.5L457.6,624.0L458.9,625.6L460.2,628.5L461.5,629.4L462.8,631.6L464.1,632.5L465.4,634.1L466.7,636.3L468.0,637.7L469.3,638.0L470.6,639.4L471.9,641.1L473.2,641.1L474.6,642.3L475.9,642.4L477.2,643.5L478.5,644.4L479.8,644.4L481.1,644.7L482.4,645.9L483.7,645.7L485.0,646.3L486.3,646.9L487.6,646.6L488.9,647.5L490.2,648.2L491.5,649.3L492.9,650.1L494.2,650.4L495.5,651.6L496.8,652.0L498.1,652.4L499.4,653.6L500.7,654.3L502.0,654.8L503.3,655.1L504.6,655.6L505.9,656.4L507.2,656.5L508.5,658.0L509.9,657.8L511.2,657.3L512.5,656.7L513.8,656.7L515.1,657.5L516.4,657.5L517.7,659.0L519.0,658.9L520.3,659.8L521.6,659.3L522.9,660.7L524.2,660.6L525.5,661.0L526.8,660.9L528.2,661.6L529.5,661.0L530.8,660.6L532.1,661.4L533.4,662.5L534.7,661.7L536.0,662.0L537.3,662.9L538.6,663.5L539.9,663.6L541.2,662.5L542.5,663.2L543.8,663.3L545.1,662.8L546.5,661.9L547.8,661.7L549.1,662.6L550.4,662.4L551.7,662.7L553.0,662.6L554.3,662.9L555.6,663.2L556.9,664.0L558.2,664.7L559.5,664.4L560.8,665.1L562.1,664.6L563.4,665.3L564.8,664.7L566.1,664.5L567.4,665.2L568.7,664.1L570.0,664.3L571.3,664.9L572.6,665.0L573.9,665.6L575.2,665.7L576.5,665.5L577.8,665.7L579.1,665.2L580.4,665.0L581.7,664.9L583.1,665.1L584.4,664.5L585.7,663.5L587.0,663.0L588.3,662.9L589.6,662.5L590.9,662.8L592.2,662.2L593.5,663.2L594.8,663.7L596.1,663.0L597.4,663.1L598.7,662.9L600.0,661.8L601.4,661.6L602.7,660.7L604.0,661.4L605.3,660.9L606.6,659.8L607.9,660.1L609.2,659.7L610.5,659.1L611.8,658.6L613.1,658.1L614.4,658.3L615.7,657.7L617.0,658.0L618.3,657.5L619.7,657.1L621.0,657.3L622.3,656.5L623.6,657.0L624.9,657.4L626.2,656.7L627.5,656.7L628.8,656.2L630.1,655.1L631.4,655.0L632.7,655.6L634.0,655.2L635.3,654.2L636.6,653.7L638.0,653.8L639.3,653.7L640.6,653.2L641.9,651.9L643.2,650.6L644.5,650.1L645.8,650.7L647.1,651.0L648.4,650.7L649.7,650.7L651.0,649.8L652.3,649.7L653.6,650.3L654.9,650.1L656.3,650.3L657.6,650.8L658.9,650.5L660.2,650.7L661.5,651.0L662.8,651.5L664.1,650.7" stroke="#fda26c" stroke-width="1.60" fill="none" stroke-linejoin="round"/>
<path d="M402.7,662.1L404.0,655.0L405.3,648.3L406.6,639.4L407.9,628.6L409.2,618.1L410.5,605.9L411.8,591.4L413.1,577.9L414.4,566.1L415.7,556.1L417.0,546.6L418.3,538.0L419.7,528.1L421.0,522.8L422.3,518.8L423.6,516.2L424.9,515.4L426.2,516.6L427.5,518.9L428.8,521.2L430.1,523.7L431.4,527.2L432.7,532.4L434.0,538.6L435.3,545.5L436.6,550.5L438.0,552.9L439.3,556.0L440.6,560.8L441.9,565.5L443.2,569.1L444.5,572.0L445.8,575.4L447.1,579.9L448.4,583.3L449.7,587.4L451.0,591.2L452.3,595.0L453.6,599.9L454.9,603.6L456.3,606.4L457.6,609.9L458.9,613.8L460.2,616.3L461.5,618.2L462.8,619.5L464.1,621.7L465.4,624.2L466.7,625.5L468.0,627.2L469.3,629.3L470.6,631.5L471.9,632.9L473.2,634.7L474.6,635.1L475.9,636.2L477.2,637.2L478.5,638.4L479.8,640.0L481.1,641.1L482.4,642.8L483.7,643.3L485.0,643.4L486.3,644.1L487.6,644.3L488.9,645.5L490.2,645.7L491.5,646.5L492.9,648.0L494.2,649.3L495.5,650.5L496.8,651.5L498.1,650.9L499.4,652.2L500.7,652.8L502.0,653.6L503.3,653.1L504.6,653.0L505.9,653.0L507.2,654.5L508.5,654.4L509.9,653.2L511.2,652.7L512.5,652.2L513.8,652.1L515.1,653.5L516.4,653.6L517.7,654.8L519.0,655.4L520.3,655.6L521.6,655.5L522.9,655.1L524.2,656.1L525.5,655.9L526.8,655.6L528.2,655.3L529.5,656.3L530.8,656.4L532.1,655.4L533.4,655.0L534.7,656.0L536.0,655.3L537.3,655.0L538.6,654.7L539.9,655.3L541.2,656.1L542.5,655.9L543.8,656.2L545.1,655.3L546.5,654.9L547.8,654.0L549.1,654.7L550.4,655.1L551.7,654.6L553.0,654.4L554.3,655.2L555.6,655.1L556.9,656.1L558.2,656.4L559.5,655.8L560.8,655.4L562.1,656.1L563.4,655.9L564.8,656.2L566.1,655.5L567.4,656.2L568.7,656.5L570.0,655.7L571.3,656.4L572.6,656.0L573.9,656.6L575.2,656.1L576.5,656.4L577.8,656.5L579.1,655.9L580.4,655.4L581.7,654.7L583.1,655.1L584.4,654.3L585.7,654.4L587.0,653.9L588.3,654.8L589.6,655.2L590.9,654.8L592.2,654.5L593.5,653.9L594.8,654.2L596.1,653.4L597.4,652.6L598.7,651.7L600.0,651.1L601.4,651.6L602.7,651.8L604.0,651.5L605.3,650.0L606.6,649.1L607.9,648.2L609.2,648.3L610.5,647.9L611.8,648.0L613.1,647.3L614.4,647.4L615.7,645.7L617.0,645.0L618.3,644.8L619.7,643.7L621.0,643.7L622.3,643.1L623.6,642.4L624.9,643.0L626.2,642.4L627.5,641.9L628.8,642.4L630.1,642.1L631.4,641.5L632.7,641.0L634.0,641.4L635.3,640.8L636.6,640.3L638.0,639.2L639.3,637.6L640.6,637.2L641.9,636.0L643.2,635.5L644.5,636.0L645.8,634.9L647.1,634.8L648.4,633.8L649.7,633.9L651.0,633.1L652.3,632.6L653.6,633.8L654.9,634.1L656.3,634.6L657.6,634.4L658.9,634.3L660.2,633.8L661.5,633.8L662.8,633.4L664.1,633.4" stroke="#a6c2ea" stroke-width="1.60" fill="none" stroke-linejoin="round"/>
<path d="M402.7,666.3L404.0,658.9L405.3,652.1L406.6,643.7L407.9,633.0L409.2,621.5L410.5,609.6L411.8,595.9L413.1,582.1L414.4,571.2L415.7,559.8L417.0,550.9L418.3,542.1L419.7,533.7L421.0,528.2L422.3,522.9L423.6,520.9L424.9,521.5L426.2,523.0L427.5,525.0L428.8,527.8L430.1,530.0L431.4,533.7L432.7,538.5L434.0,542.7L435.3,548.6L436.6,552.6L438.0,556.0L439.3,559.2L440.6,563.1L441.9,566.7L443.2,570.2L444.5,574.5L445.8,578.6L447.1,583.1L448.4,587.0L449.7,590.4L451.0,594.1L452.3,598.3L453.6,602.9L454.9,606.0L456.3,610.1L457.6,612.7L458.9,616.2L460.2,618.3L461.5,620.1L462.8,622.1L464.1,624.0L465.4,626.4L466.7,628.5L468.0,629.6L469.3,631.0L470.6,631.3L471.9,632.4L473.2,633.8L474.6,635.7L475.9,636.2L477.2,637.3L478.5,638.2L479.8,638.4L481.1,639.0L482.4,639.6L483.7,640.6L485.0,641.0L486.3,641.2L487.6,641.5L488.9,642.8L490.2,643.6L491.5,645.1L492.9,644.6L494.2,645.7L495.5,645.8L496.8,647.0L498.1,647.6L499.4,647.4L500.7,646.8L502.0,646.4L503.3,646.5L504.6,647.4L505.9,647.5L507.2,648.3L508.5,648.9L509.9,647.4L511.2,646.7L512.5,647.1L513.8,646.7L515.1,647.6L516.4,647.7L517.7,648.5L519.0,649.0L520.3,648.6L521.6,648.1L522.9,648.4L524.2,648.0L525.5,648.9L526.8,649.0L528.2,648.3L529.5,648.8L530.8,648.3L532.1,648.0L533.4,647.9L534.7,648.6L536.0,648.6L537.3,648.3L538.6,647.8L539.9,648.4L541.2,647.5L542.5,647.0L543.8,646.2L545.1,646.9L546.5,646.7L547.8,646.4L549.1,645.8L550.4,646.5L551.7,646.7L553.0,646.8L554.3,646.2L555.6,647.2L556.9,647.4L558.2,646.8L559.5,648.1L560.8,648.0L562.1,648.6L563.4,648.0L564.8,648.4L566.1,647.4L567.4,647.0L568.7,647.3L570.0,647.1L571.3,647.3L572.6,647.3L573.9,647.1L575.2,647.7L576.5,647.2L577.8,647.0L579.1,646.2L580.4,645.9L581.7,646.2L583.1,645.5L584.4,645.9L585.7,645.1L587.0,644.5L588.3,644.7L589.6,644.4L590.9,644.7L592.2,644.0L593.5,644.4L594.8,643.6L596.1,643.1L597.4,643.0L598.7,643.0L600.0,641.8L601.4,641.1L602.7,640.5L604.0,639.9L605.3,638.8L606.6,637.7L607.9,637.6L609.2,636.6L610.5,637.0L611.8,635.6L613.1,635.4L614.4,633.9L615.7,632.7L617.0,632.7L618.3,633.0L619.7,631.5L621.0,630.6L622.3,630.5L623.6,630.7L624.9,630.8L626.2,629.6L627.5,630.1L628.8,629.6L630.1,628.2L631.4,627.4L632.7,627.5L634.0,626.8L635.3,626.6L636.6,625.2L638.0,624.6L639.3,623.1L640.6,622.8L641.9,621.4L643.2,620.5L644.5,619.6L645.8,619.4L647.1,619.1L648.4,618.1L649.7,617.5L651.0,617.6L652.3,617.3L653.6,616.8L654.9,616.7L656.3,618.0L657.6,617.5L658.9,617.8L660.2,617.6L661.5,618.4L662.8,618.4L664.1,617.7" stroke="#a4a4a4" stroke-width="1.60" fill="none" stroke-linejoin="round"/>
<path d="M402.7,665.3L404.0,658.6L405.3,650.9L406.6,642.4L407.9,632.5L409.2,621.7L410.5,608.4L411.8,595.0L413.1,582.2L414.4,570.6L415.7,560.5L417.0,550.0L418.3,542.1L419.7,533.1L421.0,527.0L422.3,522.4L423.6,520.2L424.9,520.6L426.2,522.1L427.5,523.8L428.8,527.4L430.1,530.2L431.4,532.7L432.7,537.6L434.0,542.9L435.3,548.6L436.6,553.2L438.0,556.9L439.3,560.4L440.6,564.3L441.9,568.1L443.2,572.2L444.5,575.8L445.8,579.2L447.1,582.9L448.4,586.8L449.7,591.5L451.0,595.4L452.3,599.5L453.6,603.4L454.9,607.1L456.3,609.4L457.6,613.1L458.9,615.4L460.2,617.9L461.5,619.9L462.8,622.1L464.1,623.7L465.4,625.5L466.7,627.4L468.0,629.3L469.3,630.3L470.6,631.5L471.9,632.1L473.2,633.2L474.6,633.4L475.9,633.6L477.2,633.9L478.5,634.4L479.8,636.5L481.1,637.1L482.4,637.4L483.7,638.5L485.0,639.1L486.3,640.3L487.6,639.7L488.9,640.0L490.2,640.9L491.5,641.6L492.9,642.2L494.2,642.5L495.5,642.0L496.8,642.7L498.1,642.9L499.4,642.9L500.7,642.7L502.0,641.8L503.3,642.6L504.6,642.0L505.9,643.0L507.2,643.1L508.5,643.8L509.9,642.2L511.2,639.9L512.5,640.2L513.8,641.2L515.1,641.1L516.4,641.6L517.7,642.7L519.0,643.5L520.3,642.8L521.6,642.9L522.9,643.0L524.2,643.8L525.5,644.1L526.8,643.8L528.2,644.0L529.5,643.0L530.8,642.5L532.1,643.1L533.4,642.5L534.7,642.5L536.0,641.6L537.3,641.4L538.6,642.1L539.9,642.4L541.2,641.5L542.5,641.1L543.8,640.0L545.1,640.3L546.5,639.4L547.8,639.9L549.1,639.0L550.4,639.1L551.7,638.7L553.0,638.5L554.3,638.4L555.6,639.5L556.9,640.7L558.2,640.6L559.5,641.6L560.8,640.9L562.1,641.2L563.4,641.2L564.8,640.4L566.1,640.4L567.4,640.9L568.7,640.2L570.0,639.9L571.3,639.7L572.6,639.6L573.9,639.6L575.2,640.6L576.5,640.0L577.8,640.3L579.1,640.8L580.4,640.7L581.7,640.2L583.1,639.6L584.4,640.5L585.7,639.8L587.0,639.8L588.3,639.1L589.6,639.4L590.9,640.1L592.2,639.2L593.5,639.0L594.8,639.1L596.1,638.5L597.4,638.4L598.7,637.5L600.0,637.7L601.4,637.4L602.7,637.0L604.0,636.1L605.3,634.9L606.6,634.9L607.9,634.1L609.2,633.1L610.5,632.1L611.8,631.5L613.1,630.7L614.4,630.3L615.7,630.6L617.0,629.6L618.3,628.7L619.7,628.6L621.0,628.0L622.3,627.5L623.6,628.0L624.9,628.7L626.2,628.5L627.5,627.5L628.8,628.0L630.1,627.1L631.4,627.8L632.7,627.6L634.0,627.3L635.3,626.2L636.6,626.3L638.0,625.1L639.3,624.7L640.6,623.8L641.9,623.4L643.2,621.9L644.5,621.9L645.8,622.1L647.1,622.3L648.4,621.5L649.7,620.8L651.0,621.0L652.3,620.5L653.6,621.6L654.9,621.6L656.3,622.0L657.6,622.7L658.9,623.0L660.2,623.4L661.5,623.7L662.8,623.5L664.1,623.7" stroke="#a2d46e" stroke-width="1.60" fill="none" stroke-linejoin="round"/>
<path d="M402.7,655.2L404.0,648.5L405.3,639.3L406.6,629.6L407.9,619.0L409.2,608.1L410.5,596.3L411.8,581.9L413.1,568.7L414.4,557.3L415.7,546.2L417.0,536.0L418.3,526.3L419.7,516.6L421.0,509.7L422.3,504.7L423.6,502.8L424.9,503.3L426.2,504.7L427.5,507.1L428.8,510.5L430.1,512.8L431.4,516.1L432.7,521.1L434.0,527.0L435.3,535.2L436.6,540.9L438.0,543.5L439.3,546.9L440.6,551.4L441.9,556.7L443.2,560.5L444.5,563.8L445.8,567.5L447.1,571.9L448.4,576.6L449.7,580.1L451.0,583.2L452.3,586.5L453.6,590.1L454.9,593.1L456.3,596.9L457.6,600.2L458.9,601.8L460.2,603.5L461.5,605.7L462.8,607.2L464.1,607.4L465.4,608.0L466.7,607.8L468.0,607.6L469.3,609.1L470.6,609.6L471.9,610.3L473.2,610.9L474.6,611.1L475.9,612.8L477.2,615.1L478.5,616.5L479.8,618.2L481.1,619.2L482.4,619.9L483.7,621.5L485.0,621.9L486.3,622.7L487.6,623.6L488.9,624.3L490.2,625.0L491.5,626.0L492.9,627.0L494.2,627.7L495.5,629.3L496.8,630.5L498.1,632.3L499.4,633.7L500.7,634.5L502.0,634.6L503.3,636.0L504.6,636.3L505.9,636.9L507.2,638.3L508.5,639.9L509.9,638.5L511.2,637.9L512.5,637.3L513.8,638.6L515.1,640.0L516.4,640.4L517.7,640.7L519.0,641.2L520.3,640.5L521.6,640.8L522.9,640.6L524.2,640.1L525.5,641.2L526.8,640.8L528.2,640.1L529.5,640.3L530.8,640.4L532.1,640.6L533.4,640.4L534.7,638.8L536.0,637.7L537.3,637.9L538.6,637.6L539.9,637.2L541.2,637.1L542.5,636.5L543.8,636.2L545.1,635.3L546.5,634.3L547.8,634.9L549.1,634.4L550.4,634.3L551.7,634.3L553.0,633.3L554.3,632.5L555.6,633.0L556.9,632.8L558.2,633.4L559.5,633.7L560.8,634.5L562.1,633.5L563.4,632.6L564.8,631.9L566.1,632.7L567.4,631.6L568.7,631.6L570.0,631.2L571.3,631.5L572.6,631.0L573.9,630.5L575.2,630.3L576.5,629.8L577.8,629.3L579.1,630.1L580.4,629.9L581.7,629.4L583.1,628.7L584.4,629.2L585.7,628.5L587.0,628.2L588.3,628.7L589.6,627.4L590.9,627.1L592.2,626.1L593.5,625.5L594.8,625.2L596.1,625.1L597.4,625.3L598.7,625.0L600.0,623.9L601.4,622.6L602.7,621.9L604.0,622.0L605.3,620.2L606.6,619.2L607.9,618.6L609.2,617.3L610.5,616.6L611.8,616.0L613.1,615.2L614.4,615.2L615.7,613.7L617.0,613.3L618.3,612.4L619.7,612.6L621.0,611.5L622.3,611.9L623.6,611.2L624.9,610.7L626.2,611.1L627.5,610.1L628.8,609.0L630.1,609.6L631.4,609.5L632.7,607.9L634.0,606.9L635.3,606.8L636.6,606.1L638.0,604.8L639.3,604.3L640.6,602.7L641.9,602.0L643.2,600.3L644.5,598.9L645.8,599.3L647.1,598.9L648.4,597.6L649.7,597.6L651.0,597.3L652.3,596.8L653.6,597.0L654.9,597.2L656.3,597.6L657.6,599.0L658.9,599.9L660.2,600.0L661.5,600.3L662.8,599.8L664.1,598.6" stroke="#a8a8ff" stroke-width="1.60" fill="none" stroke-linejoin="round"/>
<path d="M402.7,652.8L404.0,645.1L405.3,636.3L406.6,626.1L407.9,615.4L409.2,603.7L410.5,591.8L411.8,579.0L413.1,566.6L414.4,554.1L415.7,542.6L417.0,532.2L418.3,522.0L419.7,512.1L421.0,505.1L422.3,501.4L423.6,498.5L424.9,498.8L426.2,499.5L427.5,502.7L428.8,505.0L430.1,508.6L431.4,511.6L432.7,517.5L434.0,524.7L435.3,532.6L436.6,537.3L438.0,540.9L439.3,543.9L440.6,547.7L441.9,551.1L443.2,555.0L444.5,558.1L445.8,560.9L447.1,564.8L448.4,568.8L449.7,572.1L451.0,574.9L452.3,578.3L453.6,581.1L454.9,584.2L456.3,587.2L457.6,589.0L458.9,591.3L460.2,593.2L461.5,595.0L462.8,594.9L464.1,594.7L465.4,596.2L466.7,596.9L468.0,597.6L469.3,597.5L470.6,598.2L471.9,597.6L473.2,598.5L474.6,599.3L475.9,602.5L477.2,605.8L478.5,607.0L479.8,608.7L481.1,609.6L482.4,611.5L483.7,613.0L485.0,614.1L486.3,615.4L487.6,616.1L488.9,618.0L490.2,618.3L491.5,618.7L492.9,620.2L494.2,621.0L495.5,621.2L496.8,622.9L498.1,622.9L499.4,623.1L500.7,624.6L502.0,625.1L503.3,626.0L504.6,626.6L505.9,627.2L507.2,628.3L508.5,629.5L509.9,627.7L511.2,625.7L512.5,626.2L513.8,627.5L515.1,628.0L516.4,628.3L517.7,629.8L519.0,630.3L520.3,630.6L521.6,629.5L522.9,628.8L524.2,628.2L525.5,628.8L526.8,627.6L528.2,626.6L529.5,626.0L530.8,625.7L532.1,624.8L533.4,623.9L534.7,623.1L536.0,622.4L537.3,621.3L538.6,620.8L539.9,620.1L541.2,619.2L542.5,619.3L543.8,619.3L545.1,617.8L546.5,617.9L547.8,617.0L549.1,615.9L550.4,615.0L551.7,615.4L553.0,615.2L554.3,615.2L555.6,614.9L556.9,614.3L558.2,614.5L559.5,614.5L560.8,614.8L562.1,614.8L563.4,614.3L564.8,614.5L566.1,612.9L567.4,613.0L568.7,612.8L570.0,612.4L571.3,610.9L572.6,610.0L573.9,610.0L575.2,609.3L576.5,609.9L577.8,609.6L579.1,609.3L580.4,608.7L581.7,608.9L583.1,608.6L584.4,607.6L585.7,606.6L587.0,606.1L588.3,605.8L589.6,605.1L590.9,605.9L592.2,605.9L593.5,605.1L594.8,605.0L596.1,603.8L597.4,603.3L598.7,601.4L600.0,600.4L601.4,600.3L602.7,599.1L604.0,598.0L605.3,597.3L606.6,595.4L607.9,594.0L609.2,593.5L610.5,593.0L611.8,592.1L613.1,591.6L614.4,590.8L615.7,589.1L617.0,587.6L618.3,587.0L619.7,586.1L621.0,585.4L622.3,584.1L623.6,584.3L624.9,583.6L626.2,582.9L627.5,582.2L628.8,581.7L630.1,580.8L631.4,580.1L632.7,579.9L634.0,580.6L635.3,579.5L636.6,577.9L638.0,576.5L639.3,576.2L640.6,575.3L641.9,574.2L643.2,571.8L644.5,570.8L645.8,570.5L647.1,568.9L648.4,568.9L649.7,568.8L651.0,567.4L652.3,567.1L653.6,568.0L654.9,568.2L656.3,569.4L657.6,569.5L658.9,569.4L660.2,569.8L661.5,570.2L662.8,569.5L664.1,568.8" stroke="#c9a8f2" stroke-width="1.60" fill="none" stroke-linejoin="round"/>
<path d="M402.7,648.4L404.0,640.1L405.3,631.3L406.6,622.3L407.9,611.0L409.2,599.8L410.5,587.7L411.8,574.8L413.1,561.1L414.4,548.4L415.7,537.0L417.0,527.3L418.3,517.7L419.7,507.5L421.0,499.9L422.3,495.3L423.6,491.5L424.9,492.2L426.2,492.9L427.5,495.6L428.8,498.1L430.1,501.2L431.4,505.6L432.7,510.8L434.0,517.8L435.3,526.8L436.6,531.8L438.0,535.1L439.3,538.0L440.6,542.5L441.9,546.9L443.2,549.9L444.5,553.3L445.8,557.4L447.1,560.7L448.4,564.7L449.7,568.6L451.0,573.0L452.3,575.9L453.6,580.0L454.9,582.5L456.3,586.3L457.6,588.0L458.9,589.8L460.2,591.6L461.5,593.1L462.8,594.1L464.1,594.4L465.4,594.9L466.7,594.7L468.0,595.1L469.3,595.7L470.6,596.6L471.9,596.8L473.2,597.3L474.6,599.3L475.9,602.3L477.2,605.1L478.5,606.9L479.8,607.9L481.1,608.7L482.4,609.8L483.7,610.6L485.0,612.5L486.3,614.2L487.6,615.1L488.9,616.0L490.2,616.7L491.5,617.2L492.9,618.5L494.2,619.6L495.5,620.4L496.8,621.4L498.1,622.0L499.4,621.8L500.7,623.0L502.0,624.3L503.3,624.1L504.6,625.6L505.9,626.4L507.2,627.1L508.5,628.4L509.9,626.2L511.2,624.2L512.5,624.9L513.8,626.0L515.1,627.2L516.4,628.2L517.7,628.2L519.0,628.1L520.3,628.5L521.6,628.1L522.9,627.1L524.2,626.5L525.5,626.9L526.8,626.5L528.2,625.2L529.5,625.3L530.8,624.3L532.1,622.6L533.4,622.4L534.7,622.2L536.0,621.5L537.3,620.3L538.6,619.5L539.9,617.8L541.2,617.7L542.5,616.5L543.8,615.3L545.1,614.7L546.5,614.7L547.8,614.4L549.1,614.0L550.4,613.6L551.7,612.7L553.0,612.2L554.3,610.6L555.6,610.0L556.9,610.4L558.2,610.2L559.5,610.9L560.8,610.4L562.1,609.6L563.4,609.7L564.8,608.3L566.1,607.9L567.4,607.5L568.7,606.6L570.0,606.3L571.3,605.4L572.6,604.3L573.9,604.1L575.2,604.6L576.5,603.4L577.8,602.5L579.1,602.8L580.4,602.4L581.7,602.0L583.1,601.0L584.4,601.3L585.7,600.9L587.0,601.4L588.3,600.9L589.6,599.6L590.9,599.0L592.2,599.4L593.5,598.3L594.8,598.1L596.1,597.7L597.4,596.1L598.7,595.2L600.0,594.9L601.4,593.3L602.7,592.6L604.0,591.8L605.3,590.8L606.6,589.3L607.9,588.1L609.2,587.0L610.5,585.6L611.8,585.7L613.1,584.4L614.4,583.1L615.7,582.9L617.0,582.3L618.3,581.7L619.7,580.5L621.0,579.0L622.3,579.4L623.6,578.2L624.9,577.5L626.2,577.1L627.5,576.9L628.8,577.6L630.1,576.4L631.4,575.7L632.7,575.4L634.0,575.4L635.3,575.0L636.6,574.0L638.0,571.9L639.3,570.0L640.6,568.0L641.9,567.3L643.2,565.3L644.5,564.9L645.8,564.5L647.1,563.4L648.4,562.7L649.7,561.6L651.0,561.5L652.3,562.0L653.6,561.4L654.9,561.3L656.3,562.9L657.6,563.2L658.9,563.4L660.2,563.1L661.5,563.9L662.8,564.4L664.1,563.7" stroke="#b4f0e2" stroke-width="1.60" fill="none" stroke-linejoin="round"/>
<path d="M402.7,608.0L404.0,597.5L405.3,584.9L406.6,572.2L407.9,559.3L409.2,547.4L410.5,535.1L411.8,522.7L413.1,509.7L414.4,496.0L415.7,483.9L417.0,472.1L418.3,458.6L419.7,443.6L421.0,433.6L422.3,426.8L423.6,423.5L424.9,425.0L426.2,426.6L427.5,429.8L428.8,433.1L430.1,436.8L431.4,440.6L432.7,448.4L434.0,459.7L435.3,473.7L436.6,480.6L438.0,484.1L439.3,488.4L440.6,495.5L441.9,502.5L443.2,507.8L444.5,513.1L445.8,519.5L447.1,525.8L448.4,531.0L449.7,536.9L451.0,542.4L452.3,548.6L453.6,554.0L454.9,559.9L456.3,564.6L457.6,569.1L458.9,573.3L460.2,577.7L461.5,581.6L462.8,584.6L464.1,587.3L465.4,590.4L466.7,592.7L468.0,595.0L469.3,597.5L470.6,600.9L471.9,603.4L473.2,605.8L474.6,608.4L475.9,611.7L477.2,615.1L478.5,617.8L479.8,620.4L481.1,624.2L482.4,626.6L483.7,629.6L485.0,632.3L486.3,634.2L487.6,636.6L488.9,639.8L490.2,642.5L491.5,645.1L492.9,647.4L494.2,649.8L495.5,652.0L496.8,654.9L498.1,657.1L499.4,659.5L500.7,662.0L502.0,663.9L503.3,665.5L504.6,666.6L505.9,667.7L507.2,669.5L508.5,670.8L509.9,671.6L511.2,672.9L512.5,674.4L513.8,674.6L515.1,675.8L516.4,675.9L517.7,676.9L519.0,677.9L520.3,678.4L521.6,678.9L522.9,679.6L524.2,679.6L525.5,679.9L526.8,681.0L528.2,681.2L529.5,681.9L530.8,682.7L532.1,683.5L533.4,684.2L534.7,685.3L536.0,686.8L537.3,687.3L538.6,688.4L539.9,688.1L541.2,688.7L542.5,689.1L543.8,689.5L545.1,690.1L546.5,690.4L547.8,691.1L549.1,691.9L550.4,692.4L551.7,692.5L553.0,693.2L554.3,693.7L555.6,693.8L556.9,694.8L558.2,696.0L559.5,696.9L560.8,697.4L562.1,697.5L563.4,697.7L564.8,699.2L566.1,699.4L567.4,699.8L568.7,700.3L570.0,700.5L571.3,701.8L572.6,702.0L573.9,702.4L575.2,703.4L576.5,703.2L577.8,704.0L579.1,704.1L580.4,704.6L581.7,704.7L583.1,704.2L584.4,704.7L585.7,704.4L587.0,704.0L588.3,704.0L589.6,704.6L590.9,704.8L592.2,705.2L593.5,705.7L594.8,705.1L596.1,705.1L597.4,705.1L598.7,705.8L600.0,705.7L601.4,706.1L602.7,706.1L604.0,705.8L605.3,705.8L606.6,705.9L607.9,706.9L609.2,707.2L610.5,707.5L611.8,707.9L613.1,707.3L614.4,707.3L615.7,707.2L617.0,706.9L618.3,707.7L619.7,707.4L621.0,708.1L622.3,707.7L623.6,707.8L624.9,708.3L626.2,708.6L627.5,708.5L628.8,708.7L630.1,708.6L631.4,708.3L632.7,707.4L634.0,707.1L635.3,707.3L636.6,707.6L638.0,706.9L639.3,706.6L640.6,706.5L641.9,706.9L643.2,707.2L644.5,707.7L645.8,707.7L647.1,707.1L648.4,707.3L649.7,707.5L651.0,707.9L652.3,707.9L653.6,708.4L654.9,708.0L656.3,708.0L657.6,708.3L658.9,708.7L660.2,708.6L661.5,708.1L662.8,708.7L664.1,708.1" stroke="#111111" stroke-width="2.20" fill="none" stroke-linejoin="round"/>
<path d="M402.7,684.1L404.0,681.5L405.3,678.2L406.6,674.8L407.9,671.0L409.2,667.1L410.5,661.7L411.8,656.2L413.1,648.2L414.4,637.2L415.7,609.0L417.0,580.2L418.3,554.3L419.7,530.0L421.0,504.1L422.3,485.4L423.6,477.1L424.9,473.8L426.2,475.4L427.5,478.5L428.8,480.5L430.1,485.6L431.4,492.4L432.7,499.7L434.0,506.0L435.3,509.9L436.6,510.4L438.0,511.2L439.3,511.7L440.6,512.6L441.9,514.1L443.2,514.9L444.5,516.6L445.8,520.2L447.1,525.4L448.4,531.4L449.7,537.4L451.0,544.1L452.3,550.3L453.6,556.4L454.9,561.6L456.3,566.0L457.6,569.3L458.9,572.4L460.2,575.8L461.5,578.5L462.8,579.9L464.1,581.0L465.4,583.3L466.7,584.8L468.0,586.8L469.3,587.8L470.6,588.7L471.9,591.0L473.2,592.9L474.6,595.2L475.9,599.3L477.2,603.5L478.5,605.8L479.8,607.9L481.1,609.8L482.4,611.4L483.7,613.6L485.0,615.3L486.3,616.6L487.6,618.7L488.9,620.6L490.2,621.5L491.5,623.0L492.9,623.4L494.2,623.9L495.5,624.9L496.8,625.8L498.1,626.7L499.4,628.2L500.7,629.4L502.0,630.4L503.3,630.6L504.6,630.8L505.9,632.4L507.2,633.9L508.5,634.5L509.9,632.6L511.2,630.5L512.5,631.6L513.8,632.6L515.1,633.8L516.4,633.7L517.7,633.6L519.0,634.7L520.3,634.4L521.6,634.0L522.9,633.7L524.2,634.3L525.5,633.7L526.8,634.0L528.2,634.2L529.5,633.9L530.8,633.6L532.1,632.0L533.4,631.4L534.7,630.4L536.0,630.1L537.3,629.4L538.6,628.4L539.9,628.3L541.2,627.1L542.5,627.4L543.8,626.3L545.1,626.2L546.5,625.4L547.8,625.1L549.1,624.0L550.4,624.0L551.7,623.6L553.0,622.9L554.3,622.6L555.6,622.9L556.9,623.4L558.2,622.9L559.5,622.8L560.8,623.5L562.1,623.3L563.4,623.0L564.8,621.7L566.1,621.8L567.4,620.8L568.7,620.6L570.0,620.2L571.3,620.1L572.6,619.0L573.9,618.3L575.2,618.4L576.5,618.5L577.8,618.2L579.1,617.3L580.4,617.7L581.7,617.6L583.1,617.4L584.4,616.2L585.7,616.1L587.0,615.4L588.3,614.3L589.6,613.2L590.9,612.9L592.2,611.7L593.5,610.6L594.8,609.7L596.1,609.4L597.4,608.9L598.7,607.5L600.0,606.5L601.4,604.7L602.7,603.8L604.0,602.3L605.3,601.0L606.6,599.4L607.9,598.0L609.2,596.8L610.5,595.8L611.8,594.3L613.1,593.1L614.4,591.6L615.7,589.8L617.0,588.8L618.3,587.5L619.7,586.7L621.0,585.4L622.3,584.5L623.6,584.3L624.9,583.6L626.2,582.6L627.5,582.0L628.8,580.8L630.1,579.9L631.4,578.4L632.7,577.5L634.0,577.1L635.3,575.3L636.6,574.1L638.0,572.5L639.3,570.2L640.6,568.5L641.9,566.6L643.2,564.3L644.5,563.2L645.8,561.4L647.1,560.2L648.4,559.2L649.7,558.7L651.0,558.2L652.3,557.3L653.6,556.6L654.9,556.5L656.3,556.6L657.6,556.5L658.9,556.9L660.2,556.1L661.5,555.9L662.8,555.5L664.1,554.3" stroke="#0000ff" stroke-width="2.5" fill="none" stroke-linejoin="round"/>
<path d="M83.00,25.20 L83.00,123.30" stroke="#000" stroke-width="2.1"/>
<path d="M83.00,139.00 L78.55,123.30 L87.45,123.30 Z" fill="#000"/>
<path d="M206.80,330.30 L206.80,215.10" stroke="#000" stroke-width="2.1"/>
<path d="M206.80,198.60 L202.60,215.10 L211.00,215.10 Z" fill="#000"/>
<path d="M423.20,28.30 L426.30,195.00" stroke="#000" stroke-width="2.1"/>
<path d="M426.30,210.00 L422.05,195.00 L430.55,195.00 Z" fill="#000"/>
<path d="M593.80,297.00 L593.80,253.20" stroke="#000" stroke-width="2.1"/>
<path d="M593.80,235.50 L589.65,253.20 L597.95,253.20 Z" fill="#000"/>
<path d="M83.60,426.60 L83.60,513.80" stroke="#000" stroke-width="2.1"/>
<path d="M83.60,528.20 L79.45,513.80 L87.75,513.80 Z" fill="#000"/>
<path d="M640.70,701.10 L640.70,588.60" stroke="#000" stroke-width="2.1"/>
<path d="M640.70,572.90 L636.25,588.60 L645.15,588.60 Z" fill="#000"/>
<path d="M61.2,8.0 L61.2,346.4 L322.4,346.4" stroke="#111" stroke-width="1.6" fill="none"/>
<path d="M61.2,346.4 h-5.0" stroke="#111" stroke-width="1.4"/>
<path d="M61.2,312.6 h-2.5" stroke="#111" stroke-width="1.4"/>
<path d="M61.2,278.8 h-5.0" stroke="#111" stroke-width="1.4"/>
<path d="M61.2,245.0 h-2.5" stroke="#111" stroke-width="1.4"/>
<path d="M61.2,211.2 h-5.0" stroke="#111" stroke-width="1.4"/>
<path d="M61.2,177.4 h-2.5" stroke="#111" stroke-width="1.4"/>
<path d="M61.2,143.7 h-5.0" stroke="#111" stroke-width="1.4"/>
<path d="M61.2,109.9 h-2.5" stroke="#111" stroke-width="1.4"/>
<path d="M61.2,76.1 h-5.0" stroke="#111" stroke-width="1.4"/>
<path d="M61.2,42.3 h-2.5" stroke="#111" stroke-width="1.4"/>
<path d="M61.2,8.5 h-5.0" stroke="#111" stroke-width="1.4"/>
<path d="M77.0,346.4 v4.0" stroke="#111" stroke-width="1.4"/>
<path d="M93.4,346.4 v2.2" stroke="#111" stroke-width="1.4"/>
<path d="M109.7,346.4 v4.0" stroke="#111" stroke-width="1.4"/>
<path d="M126.1,346.4 v2.2" stroke="#111" stroke-width="1.4"/>
<path d="M142.4,346.4 v4.0" stroke="#111" stroke-width="1.4"/>
<path d="M158.7,346.4 v2.2" stroke="#111" stroke-width="1.4"/>
<path d="M175.1,346.4 v4.0" stroke="#111" stroke-width="1.4"/>
<path d="M191.4,346.4 v2.2" stroke="#111" stroke-width="1.4"/>
<path d="M207.8,346.4 v4.0" stroke="#111" stroke-width="1.4"/>
<path d="M224.1,346.4 v2.2" stroke="#111" stroke-width="1.4"/>
<path d="M240.4,346.4 v4.0" stroke="#111" stroke-width="1.4"/>
<path d="M256.8,346.4 v2.2" stroke="#111" stroke-width="1.4"/>
<path d="M273.1,346.4 v4.0" stroke="#111" stroke-width="1.4"/>
<path d="M289.5,346.4 v2.2" stroke="#111" stroke-width="1.4"/>
<path d="M305.8,346.4 v4.0" stroke="#111" stroke-width="1.4"/>
<path d="M322.1,346.4 v2.2" stroke="#111" stroke-width="1.4"/>
<text x="31.91" y="349.00" font-size="15.60" text-anchor="start" textLength="20.98" lengthAdjust="spacingAndGlyphs">0.0</text>
<text x="31.91" y="281.62" font-size="15.60" text-anchor="start" textLength="21.16" lengthAdjust="spacingAndGlyphs">0.2</text>
<text x="31.91" y="214.24" font-size="15.60" text-anchor="start" textLength="20.82" lengthAdjust="spacingAndGlyphs">0.4</text>
<text x="31.91" y="146.86" font-size="15.60" text-anchor="start" textLength="21.06" lengthAdjust="spacingAndGlyphs">0.6</text>
<text x="31.91" y="79.48" font-size="15.60" text-anchor="start" textLength="21.05" lengthAdjust="spacingAndGlyphs">0.8</text>
<text x="31.32" y="12.10" font-size="15.60" text-anchor="start" textLength="21.59" lengthAdjust="spacingAndGlyphs">1.0</text>
<text x="64.68" y="365.60" font-size="15.60" text-anchor="start" textLength="24.74" lengthAdjust="spacingAndGlyphs">300</text>
<text x="97.36" y="365.60" font-size="15.60" text-anchor="start" textLength="24.74" lengthAdjust="spacingAndGlyphs">320</text>
<text x="130.04" y="365.60" font-size="15.60" text-anchor="start" textLength="24.74" lengthAdjust="spacingAndGlyphs">340</text>
<text x="162.72" y="365.60" font-size="15.60" text-anchor="start" textLength="24.74" lengthAdjust="spacingAndGlyphs">360</text>
<text x="195.40" y="365.60" font-size="15.60" text-anchor="start" textLength="24.74" lengthAdjust="spacingAndGlyphs">380</text>
<text x="228.30" y="365.60" font-size="15.60" text-anchor="start" textLength="24.51" lengthAdjust="spacingAndGlyphs">400</text>
<text x="260.98" y="365.60" font-size="15.60" text-anchor="start" textLength="24.51" lengthAdjust="spacingAndGlyphs">420</text>
<text x="293.66" y="365.60" font-size="15.60" text-anchor="start" textLength="24.51" lengthAdjust="spacingAndGlyphs">440</text>
<path d="M400.3,8.5 L400.3,347.6 L661.7,347.6" stroke="#111" stroke-width="1.6" fill="none"/>
<path d="M400.3,347.6 h-5.0" stroke="#111" stroke-width="1.4"/>
<path d="M400.3,313.7 h-2.5" stroke="#111" stroke-width="1.4"/>
<path d="M400.3,279.9 h-5.0" stroke="#111" stroke-width="1.4"/>
<path d="M400.3,246.0 h-2.5" stroke="#111" stroke-width="1.4"/>
<path d="M400.3,212.2 h-5.0" stroke="#111" stroke-width="1.4"/>
<path d="M400.3,178.3 h-2.5" stroke="#111" stroke-width="1.4"/>
<path d="M400.3,144.4 h-5.0" stroke="#111" stroke-width="1.4"/>
<path d="M400.3,110.6 h-2.5" stroke="#111" stroke-width="1.4"/>
<path d="M400.3,76.7 h-5.0" stroke="#111" stroke-width="1.4"/>
<path d="M400.3,42.9 h-2.5" stroke="#111" stroke-width="1.4"/>
<path d="M400.3,9.0 h-5.0" stroke="#111" stroke-width="1.4"/>
<path d="M416.6,347.6 v4.0" stroke="#111" stroke-width="1.4"/>
<path d="M432.9,347.6 v2.2" stroke="#111" stroke-width="1.4"/>
<path d="M449.2,347.6 v4.0" stroke="#111" stroke-width="1.4"/>
<path d="M465.5,347.6 v2.2" stroke="#111" stroke-width="1.4"/>
<path d="M481.8,347.6 v4.0" stroke="#111" stroke-width="1.4"/>
<path d="M498.1,347.6 v2.2" stroke="#111" stroke-width="1.4"/>
<path d="M514.4,347.6 v4.0" stroke="#111" stroke-width="1.4"/>
<path d="M530.8,347.6 v2.2" stroke="#111" stroke-width="1.4"/>
<path d="M547.1,347.6 v4.0" stroke="#111" stroke-width="1.4"/>
<path d="M563.4,347.6 v2.2" stroke="#111" stroke-width="1.4"/>
<path d="M579.7,347.6 v4.0" stroke="#111" stroke-width="1.4"/>
<path d="M596.0,347.6 v2.2" stroke="#111" stroke-width="1.4"/>
<path d="M612.3,347.6 v4.0" stroke="#111" stroke-width="1.4"/>
<path d="M628.6,347.6 v2.2" stroke="#111" stroke-width="1.4"/>
<path d="M644.9,347.6 v4.0" stroke="#111" stroke-width="1.4"/>
<path d="M661.2,347.6 v2.2" stroke="#111" stroke-width="1.4"/>
<text x="371.32" y="350.20" font-size="15.20" text-anchor="start" textLength="20.77" lengthAdjust="spacingAndGlyphs">0.0</text>
<text x="371.31" y="282.68" font-size="15.20" text-anchor="start" textLength="20.95" lengthAdjust="spacingAndGlyphs">0.2</text>
<text x="371.32" y="215.16" font-size="15.20" text-anchor="start" textLength="20.61" lengthAdjust="spacingAndGlyphs">0.4</text>
<text x="371.31" y="147.64" font-size="15.20" text-anchor="start" textLength="20.84" lengthAdjust="spacingAndGlyphs">0.6</text>
<text x="371.31" y="80.12" font-size="15.20" text-anchor="start" textLength="20.84" lengthAdjust="spacingAndGlyphs">0.8</text>
<text x="370.73" y="12.60" font-size="15.20" text-anchor="start" textLength="21.37" lengthAdjust="spacingAndGlyphs">1.0</text>
<text x="404.24" y="366.10" font-size="15.20" text-anchor="start" textLength="24.74" lengthAdjust="spacingAndGlyphs">300</text>
<text x="436.86" y="366.10" font-size="15.20" text-anchor="start" textLength="24.74" lengthAdjust="spacingAndGlyphs">320</text>
<text x="469.47" y="366.10" font-size="15.20" text-anchor="start" textLength="24.74" lengthAdjust="spacingAndGlyphs">340</text>
<text x="502.08" y="366.10" font-size="15.20" text-anchor="start" textLength="24.74" lengthAdjust="spacingAndGlyphs">360</text>
<text x="534.70" y="366.10" font-size="15.20" text-anchor="start" textLength="24.74" lengthAdjust="spacingAndGlyphs">380</text>
<text x="567.54" y="366.10" font-size="15.20" text-anchor="start" textLength="24.51" lengthAdjust="spacingAndGlyphs">400</text>
<text x="600.15" y="366.10" font-size="15.20" text-anchor="start" textLength="24.51" lengthAdjust="spacingAndGlyphs">420</text>
<text x="632.77" y="366.10" font-size="15.20" text-anchor="start" textLength="24.51" lengthAdjust="spacingAndGlyphs">440</text>
<path d="M63.0,422.9 L63.0,762.2 L324.0,762.2" stroke="#111" stroke-width="1.6" fill="none"/>
<path d="M63.0,762.2 h-5.0" stroke="#111" stroke-width="1.4"/>
<path d="M63.0,728.3 h-2.5" stroke="#111" stroke-width="1.4"/>
<path d="M63.0,694.4 h-5.0" stroke="#111" stroke-width="1.4"/>
<path d="M63.0,660.6 h-2.5" stroke="#111" stroke-width="1.4"/>
<path d="M63.0,626.7 h-5.0" stroke="#111" stroke-width="1.4"/>
<path d="M63.0,592.8 h-2.5" stroke="#111" stroke-width="1.4"/>
<path d="M63.0,558.9 h-5.0" stroke="#111" stroke-width="1.4"/>
<path d="M63.0,525.0 h-2.5" stroke="#111" stroke-width="1.4"/>
<path d="M63.0,491.2 h-5.0" stroke="#111" stroke-width="1.4"/>
<path d="M63.0,457.3 h-2.5" stroke="#111" stroke-width="1.4"/>
<path d="M63.0,423.4 h-5.0" stroke="#111" stroke-width="1.4"/>
<path d="M79.5,762.2 v4.0" stroke="#111" stroke-width="1.4"/>
<path d="M95.8,762.2 v2.2" stroke="#111" stroke-width="1.4"/>
<path d="M112.0,762.2 v4.0" stroke="#111" stroke-width="1.4"/>
<path d="M128.2,762.2 v2.2" stroke="#111" stroke-width="1.4"/>
<path d="M144.5,762.2 v4.0" stroke="#111" stroke-width="1.4"/>
<path d="M160.8,762.2 v2.2" stroke="#111" stroke-width="1.4"/>
<path d="M177.0,762.2 v4.0" stroke="#111" stroke-width="1.4"/>
<path d="M193.2,762.2 v2.2" stroke="#111" stroke-width="1.4"/>
<path d="M209.5,762.2 v4.0" stroke="#111" stroke-width="1.4"/>
<path d="M225.8,762.2 v2.2" stroke="#111" stroke-width="1.4"/>
<path d="M242.0,762.2 v4.0" stroke="#111" stroke-width="1.4"/>
<path d="M258.2,762.2 v2.2" stroke="#111" stroke-width="1.4"/>
<path d="M274.5,762.2 v4.0" stroke="#111" stroke-width="1.4"/>
<path d="M290.8,762.2 v2.2" stroke="#111" stroke-width="1.4"/>
<path d="M307.0,762.2 v4.0" stroke="#111" stroke-width="1.4"/>
<path d="M323.2,762.2 v2.2" stroke="#111" stroke-width="1.4"/>
<text x="34.04" y="764.80" font-size="14.60" text-anchor="start" textLength="19.92" lengthAdjust="spacingAndGlyphs">0.0</text>
<text x="34.04" y="697.24" font-size="14.60" text-anchor="start" textLength="20.09" lengthAdjust="spacingAndGlyphs">0.2</text>
<text x="34.04" y="629.68" font-size="14.60" text-anchor="start" textLength="19.77" lengthAdjust="spacingAndGlyphs">0.4</text>
<text x="34.04" y="562.12" font-size="14.60" text-anchor="start" textLength="19.99" lengthAdjust="spacingAndGlyphs">0.6</text>
<text x="34.04" y="494.56" font-size="14.60" text-anchor="start" textLength="19.99" lengthAdjust="spacingAndGlyphs">0.8</text>
<text x="33.48" y="427.00" font-size="14.60" text-anchor="start" textLength="20.50" lengthAdjust="spacingAndGlyphs">1.0</text>
<text x="67.14" y="780.60" font-size="14.60" text-anchor="start" textLength="24.74" lengthAdjust="spacingAndGlyphs">300</text>
<text x="99.64" y="780.60" font-size="14.60" text-anchor="start" textLength="24.74" lengthAdjust="spacingAndGlyphs">320</text>
<text x="132.14" y="780.60" font-size="14.60" text-anchor="start" textLength="24.74" lengthAdjust="spacingAndGlyphs">340</text>
<text x="164.64" y="780.60" font-size="14.60" text-anchor="start" textLength="24.74" lengthAdjust="spacingAndGlyphs">360</text>
<text x="197.14" y="780.60" font-size="14.60" text-anchor="start" textLength="24.74" lengthAdjust="spacingAndGlyphs">380</text>
<text x="229.86" y="780.60" font-size="14.60" text-anchor="start" textLength="24.51" lengthAdjust="spacingAndGlyphs">400</text>
<text x="262.36" y="780.60" font-size="14.60" text-anchor="start" textLength="24.51" lengthAdjust="spacingAndGlyphs">420</text>
<text x="294.86" y="780.60" font-size="14.60" text-anchor="start" textLength="24.51" lengthAdjust="spacingAndGlyphs">440</text>
<path d="M402.3,420.9 L402.3,760.3 L666.0,760.3" stroke="#111" stroke-width="1.6" fill="none"/>
<path d="M402.3,760.3 h-5.0" stroke="#111" stroke-width="1.4"/>
<path d="M402.3,726.4 h-2.5" stroke="#111" stroke-width="1.4"/>
<path d="M402.3,692.5 h-5.0" stroke="#111" stroke-width="1.4"/>
<path d="M402.3,658.6 h-2.5" stroke="#111" stroke-width="1.4"/>
<path d="M402.3,624.7 h-5.0" stroke="#111" stroke-width="1.4"/>
<path d="M402.3,590.8 h-2.5" stroke="#111" stroke-width="1.4"/>
<path d="M402.3,557.0 h-5.0" stroke="#111" stroke-width="1.4"/>
<path d="M402.3,523.1 h-2.5" stroke="#111" stroke-width="1.4"/>
<path d="M402.3,489.2 h-5.0" stroke="#111" stroke-width="1.4"/>
<path d="M402.3,455.3 h-2.5" stroke="#111" stroke-width="1.4"/>
<path d="M402.3,421.4 h-5.0" stroke="#111" stroke-width="1.4"/>
<path d="M419.0,760.3 v4.0" stroke="#111" stroke-width="1.4"/>
<path d="M435.3,760.3 v2.2" stroke="#111" stroke-width="1.4"/>
<path d="M451.7,760.3 v4.0" stroke="#111" stroke-width="1.4"/>
<path d="M468.0,760.3 v2.2" stroke="#111" stroke-width="1.4"/>
<path d="M484.4,760.3 v4.0" stroke="#111" stroke-width="1.4"/>
<path d="M500.7,760.3 v2.2" stroke="#111" stroke-width="1.4"/>
<path d="M517.0,760.3 v4.0" stroke="#111" stroke-width="1.4"/>
<path d="M533.4,760.3 v2.2" stroke="#111" stroke-width="1.4"/>
<path d="M549.7,760.3 v4.0" stroke="#111" stroke-width="1.4"/>
<path d="M566.1,760.3 v2.2" stroke="#111" stroke-width="1.4"/>
<path d="M582.4,760.3 v4.0" stroke="#111" stroke-width="1.4"/>
<path d="M598.7,760.3 v2.2" stroke="#111" stroke-width="1.4"/>
<path d="M615.1,760.3 v4.0" stroke="#111" stroke-width="1.4"/>
<path d="M631.4,760.3 v2.2" stroke="#111" stroke-width="1.4"/>
<path d="M647.8,760.3 v4.0" stroke="#111" stroke-width="1.4"/>
<path d="M664.1,760.3 v2.2" stroke="#111" stroke-width="1.4"/>
<text x="373.03" y="762.90" font-size="15.00" text-anchor="start" textLength="20.13" lengthAdjust="spacingAndGlyphs">0.0</text>
<text x="373.03" y="695.32" font-size="15.00" text-anchor="start" textLength="20.31" lengthAdjust="spacingAndGlyphs">0.2</text>
<text x="373.04" y="627.74" font-size="15.00" text-anchor="start" textLength="19.98" lengthAdjust="spacingAndGlyphs">0.4</text>
<text x="373.03" y="560.16" font-size="15.00" text-anchor="start" textLength="20.21" lengthAdjust="spacingAndGlyphs">0.6</text>
<text x="373.03" y="492.58" font-size="15.00" text-anchor="start" textLength="20.20" lengthAdjust="spacingAndGlyphs">0.8</text>
<text x="372.46" y="425.00" font-size="15.00" text-anchor="start" textLength="20.72" lengthAdjust="spacingAndGlyphs">1.0</text>
<text x="406.64" y="779.70" font-size="15.00" text-anchor="start" textLength="24.74" lengthAdjust="spacingAndGlyphs">300</text>
<text x="439.32" y="779.70" font-size="15.00" text-anchor="start" textLength="24.74" lengthAdjust="spacingAndGlyphs">320</text>
<text x="472.00" y="779.70" font-size="15.00" text-anchor="start" textLength="24.74" lengthAdjust="spacingAndGlyphs">340</text>
<text x="504.68" y="779.70" font-size="15.00" text-anchor="start" textLength="24.74" lengthAdjust="spacingAndGlyphs">360</text>
<text x="537.36" y="779.70" font-size="15.00" text-anchor="start" textLength="24.74" lengthAdjust="spacingAndGlyphs">380</text>
<text x="570.26" y="779.70" font-size="15.00" text-anchor="start" textLength="24.51" lengthAdjust="spacingAndGlyphs">400</text>
<text x="602.94" y="779.70" font-size="15.00" text-anchor="start" textLength="24.51" lengthAdjust="spacingAndGlyphs">420</text>
<text x="635.62" y="779.70" font-size="15.00" text-anchor="start" textLength="24.51" lengthAdjust="spacingAndGlyphs">440</text>
<text x="1.16" y="21.90" font-size="24.60" text-anchor="start" textLength="14.48" lengthAdjust="spacingAndGlyphs">A</text>
<text x="338.26" y="21.80" font-size="24.00" text-anchor="start" textLength="14.16" lengthAdjust="spacingAndGlyphs">B</text>
<text x="3.44" y="439.40" font-size="24.60" text-anchor="start" textLength="15.05" lengthAdjust="spacingAndGlyphs">C</text>
<text x="340.39" y="438.70" font-size="24.60" text-anchor="start" textLength="16.83" lengthAdjust="spacingAndGlyphs">D</text>
<text x="-1.55" y="0" font-size="17.80" transform="translate(18.60,270.60) rotate(-90)" textLength="208.60" lengthAdjust="spacingAndGlyphs">Normalized fluorescence</text>
<text x="-1.55" y="0" font-size="17.80" transform="translate(357.60,272.00) rotate(-90)" textLength="207.99" lengthAdjust="spacingAndGlyphs">Normalized fluorescence</text>
<text x="-1.55" y="0" font-size="17.80" transform="translate(20.20,685.70) rotate(-90)" textLength="208.09" lengthAdjust="spacingAndGlyphs">Normalized fluorescence</text>
<text x="-1.56" y="0" font-size="17.80" transform="translate(359.80,684.60) rotate(-90)" textLength="208.90" lengthAdjust="spacingAndGlyphs">Normalized fluorescence</text>
<text x="111.72" y="393.00" font-size="17.80" text-anchor="start" textLength="145.17" lengthAdjust="spacingAndGlyphs">Wavelength (nm)</text>
<text x="450.22" y="394.00" font-size="17.80" text-anchor="start" textLength="146.38" lengthAdjust="spacingAndGlyphs">Wavelength (nm)</text>
<text x="113.12" y="808.20" font-size="17.80" text-anchor="start" textLength="145.07" lengthAdjust="spacingAndGlyphs">Wavelength (nm)</text>
<text x="452.52" y="806.60" font-size="17.80" text-anchor="start" textLength="146.78" lengthAdjust="spacingAndGlyphs">Wavelength (nm)</text>
<text x="127.39" y="68.40" font-size="24.40" text-anchor="start" textLength="58.62" lengthAdjust="spacingAndGlyphs">polyE</text>
<text x="187.11" y="73.20" font-size="15.80" text-anchor="start" textLength="9.49" lengthAdjust="spacingAndGlyphs">4</text>
<text x="198.10" y="68.40" font-size="24.40" text-anchor="start" textLength="83.73" lengthAdjust="spacingAndGlyphs">Y-CyHis</text>
<text x="467.36" y="68.40" font-size="24.40" text-anchor="start" textLength="59.60" lengthAdjust="spacingAndGlyphs">polyK</text>
<text x="527.01" y="73.20" font-size="15.80" text-anchor="start" textLength="9.49" lengthAdjust="spacingAndGlyphs">4</text>
<text x="537.79" y="68.40" font-size="24.40" text-anchor="start" textLength="87.34" lengthAdjust="spacingAndGlyphs">Y-CyGlu</text>
<text x="117.97" y="476.30" font-size="24.40" text-anchor="start" textLength="59.45" lengthAdjust="spacingAndGlyphs">polyE</text>
<text x="178.31" y="481.40" font-size="15.80" text-anchor="start" textLength="9.49" lengthAdjust="spacingAndGlyphs">4</text>
<text x="188.69" y="476.30" font-size="24.40" text-anchor="start" textLength="91.18" lengthAdjust="spacingAndGlyphs">Y-CyAsp</text>
<text x="457.96" y="476.30" font-size="24.40" text-anchor="start" textLength="59.91" lengthAdjust="spacingAndGlyphs">polyK</text>
<text x="518.24" y="481.40" font-size="15.80" text-anchor="start" textLength="8.83" lengthAdjust="spacingAndGlyphs">4</text>
<text x="528.69" y="476.30" font-size="24.40" text-anchor="start" textLength="91.38" lengthAdjust="spacingAndGlyphs">Y-CyAsp</text>
</svg>
</body></html>
